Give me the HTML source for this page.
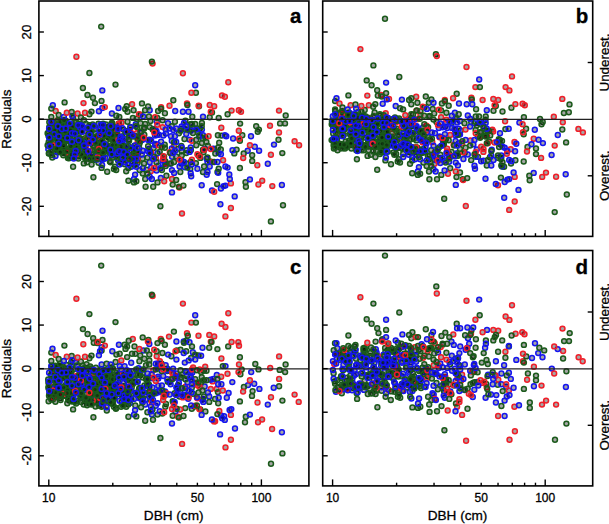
<!DOCTYPE html>
<html><head><meta charset="utf-8"><style>
html,body{margin:0;padding:0;background:#fff;}
body{width:609px;height:524px;overflow:hidden;font-family:"Liberation Sans",sans-serif;}
svg{display:block;}
text{stroke:#000;stroke-width:0.3px;}
</style></head><body>
<svg width="609" height="524" viewBox="0 0 609 524">
<rect width="100%" height="100%" fill="#fff"/>
<g stroke-width="1.5" fill="#000" fill-opacity="0.35">
<circle cx="75.0" cy="130.3" r="2.45" stroke="#1b5a1b"/>
<circle cx="58.9" cy="149.5" r="2.45" stroke="#1b5a1b"/>
<circle cx="147.7" cy="150.9" r="2.45" stroke="#1515f0"/>
<circle cx="136.2" cy="152.4" r="2.45" stroke="#1b5a1b"/>
<circle cx="67.9" cy="158.0" r="2.45" stroke="#1b5a1b"/>
<circle cx="98.5" cy="162.7" r="2.45" stroke="#1b5a1b"/>
<circle cx="67.5" cy="139.7" r="2.45" stroke="#1b5a1b"/>
<circle cx="48.3" cy="149.1" r="2.45" stroke="#1515f0"/>
<circle cx="82.3" cy="147.3" r="2.45" stroke="#1b5a1b"/>
<circle cx="49.6" cy="144.4" r="2.45" stroke="#1b5a1b"/>
<circle cx="100.5" cy="138.6" r="2.45" stroke="#1b5a1b"/>
<circle cx="86.5" cy="153.5" r="2.45" stroke="#1b5a1b"/>
<circle cx="69.0" cy="158.3" r="2.45" stroke="#1b5a1b"/>
<circle cx="98.5" cy="123.7" r="2.45" stroke="#1b5a1b"/>
<circle cx="63.9" cy="144.2" r="2.45" stroke="#1b5a1b"/>
<circle cx="100.6" cy="148.1" r="2.45" stroke="#1b5a1b"/>
<circle cx="70.8" cy="133.5" r="2.45" stroke="#1b5a1b"/>
<circle cx="104.4" cy="144.6" r="2.45" stroke="#1b5a1b"/>
<circle cx="116.4" cy="132.1" r="2.45" stroke="#1b5a1b"/>
<circle cx="121.9" cy="136.4" r="2.45" stroke="#1b5a1b"/>
<circle cx="109.9" cy="161.4" r="2.45" stroke="#1b5a1b"/>
<circle cx="63.1" cy="131.8" r="2.45" stroke="#1b5a1b"/>
<circle cx="51.1" cy="126.5" r="2.45" stroke="#1b5a1b"/>
<circle cx="67.9" cy="133.3" r="2.45" stroke="#1b5a1b"/>
<circle cx="98.0" cy="153.5" r="2.45" stroke="#1b5a1b"/>
<circle cx="65.1" cy="141.3" r="2.45" stroke="#1515f0"/>
<circle cx="73.4" cy="157.1" r="2.45" stroke="#1b5a1b"/>
<circle cx="101.8" cy="146.2" r="2.45" stroke="#1b5a1b"/>
<circle cx="105.9" cy="153.0" r="2.45" stroke="#1b5a1b"/>
<circle cx="80.8" cy="154.9" r="2.45" stroke="#1b5a1b"/>
<circle cx="76.0" cy="121.9" r="2.45" stroke="#1b5a1b"/>
<circle cx="49.3" cy="122.1" r="2.45" stroke="#1b5a1b"/>
<circle cx="60.3" cy="142.3" r="2.45" stroke="#1515f0"/>
<circle cx="60.1" cy="150.3" r="2.45" stroke="#1b5a1b"/>
<circle cx="63.9" cy="153.1" r="2.45" stroke="#1b5a1b"/>
<circle cx="56.1" cy="124.6" r="2.45" stroke="#1515f0"/>
<circle cx="67.1" cy="130.4" r="2.45" stroke="#1b5a1b"/>
<circle cx="103.2" cy="145.8" r="2.45" stroke="#f01e28"/>
<circle cx="116.3" cy="133.2" r="2.45" stroke="#1b5a1b"/>
<circle cx="75.5" cy="141.1" r="2.45" stroke="#1b5a1b"/>
<circle cx="111.1" cy="153.9" r="2.45" stroke="#1b5a1b"/>
<circle cx="139.2" cy="148.2" r="2.45" stroke="#1b5a1b"/>
<circle cx="103.1" cy="123.8" r="2.45" stroke="#1b5a1b"/>
<circle cx="69.9" cy="140.8" r="2.45" stroke="#1b5a1b"/>
<circle cx="127.4" cy="153.2" r="2.45" stroke="#1b5a1b"/>
<circle cx="108.2" cy="126.9" r="2.45" stroke="#1b5a1b"/>
<circle cx="85.1" cy="147.5" r="2.45" stroke="#1b5a1b"/>
<circle cx="120.9" cy="154.6" r="2.45" stroke="#1515f0"/>
<circle cx="96.7" cy="139.5" r="2.45" stroke="#1515f0"/>
<circle cx="118.1" cy="160.4" r="2.45" stroke="#1b5a1b"/>
<circle cx="71.5" cy="127.3" r="2.45" stroke="#1b5a1b"/>
<circle cx="52.9" cy="131.4" r="2.45" stroke="#1b5a1b"/>
<circle cx="67.6" cy="144.1" r="2.45" stroke="#1b5a1b"/>
<circle cx="110.1" cy="127.4" r="2.45" stroke="#1b5a1b"/>
<circle cx="107.3" cy="135.2" r="2.45" stroke="#1b5a1b"/>
<circle cx="57.7" cy="152.2" r="2.45" stroke="#1b5a1b"/>
<circle cx="57.2" cy="134.8" r="2.45" stroke="#1b5a1b"/>
<circle cx="97.4" cy="137.0" r="2.45" stroke="#1b5a1b"/>
<circle cx="137.3" cy="127.6" r="2.45" stroke="#1b5a1b"/>
<circle cx="123.7" cy="152.9" r="2.45" stroke="#1b5a1b"/>
<circle cx="105.9" cy="145.9" r="2.45" stroke="#1515f0"/>
<circle cx="111.7" cy="123.0" r="2.45" stroke="#1b5a1b"/>
<circle cx="114.9" cy="137.5" r="2.45" stroke="#1b5a1b"/>
<circle cx="83.4" cy="141.9" r="2.45" stroke="#1515f0"/>
<circle cx="115.0" cy="138.4" r="2.45" stroke="#1b5a1b"/>
<circle cx="123.0" cy="150.8" r="2.45" stroke="#1b5a1b"/>
<circle cx="65.7" cy="120.8" r="2.45" stroke="#1b5a1b"/>
<circle cx="60.4" cy="136.0" r="2.45" stroke="#1b5a1b"/>
<circle cx="102.4" cy="143.0" r="2.45" stroke="#1b5a1b"/>
<circle cx="118.2" cy="138.5" r="2.45" stroke="#1b5a1b"/>
<circle cx="62.8" cy="146.4" r="2.45" stroke="#1b5a1b"/>
<circle cx="57.2" cy="138.7" r="2.45" stroke="#1b5a1b"/>
<circle cx="111.2" cy="133.5" r="2.45" stroke="#1b5a1b"/>
<circle cx="114.8" cy="146.5" r="2.45" stroke="#1b5a1b"/>
<circle cx="106.0" cy="124.5" r="2.45" stroke="#1b5a1b"/>
<circle cx="108.7" cy="134.8" r="2.45" stroke="#1b5a1b"/>
<circle cx="93.8" cy="142.3" r="2.45" stroke="#1b5a1b"/>
<circle cx="111.7" cy="155.5" r="2.45" stroke="#1b5a1b"/>
<circle cx="53.7" cy="134.4" r="2.45" stroke="#1b5a1b"/>
<circle cx="59.7" cy="128.0" r="2.45" stroke="#1b5a1b"/>
<circle cx="110.8" cy="138.8" r="2.45" stroke="#1b5a1b"/>
<circle cx="58.4" cy="147.7" r="2.45" stroke="#1515f0"/>
<circle cx="82.4" cy="143.5" r="2.45" stroke="#1b5a1b"/>
<circle cx="54.1" cy="132.1" r="2.45" stroke="#1b5a1b"/>
<circle cx="112.4" cy="123.2" r="2.45" stroke="#1b5a1b"/>
<circle cx="56.0" cy="131.0" r="2.45" stroke="#1b5a1b"/>
<circle cx="88.0" cy="128.2" r="2.45" stroke="#1b5a1b"/>
<circle cx="101.3" cy="146.1" r="2.45" stroke="#1b5a1b"/>
<circle cx="87.1" cy="155.9" r="2.45" stroke="#1b5a1b"/>
<circle cx="71.3" cy="127.8" r="2.45" stroke="#1b5a1b"/>
<circle cx="95.3" cy="150.2" r="2.45" stroke="#1b5a1b"/>
<circle cx="71.8" cy="127.6" r="2.45" stroke="#1b5a1b"/>
<circle cx="99.9" cy="148.1" r="2.45" stroke="#1b5a1b"/>
<circle cx="121.3" cy="141.6" r="2.45" stroke="#1b5a1b"/>
<circle cx="68.9" cy="129.4" r="2.45" stroke="#1b5a1b"/>
<circle cx="80.7" cy="147.5" r="2.45" stroke="#1b5a1b"/>
<circle cx="58.3" cy="142.2" r="2.45" stroke="#1b5a1b"/>
<circle cx="77.0" cy="128.8" r="2.45" stroke="#1b5a1b"/>
<circle cx="142.6" cy="158.7" r="2.45" stroke="#1b5a1b"/>
<circle cx="57.5" cy="138.4" r="2.45" stroke="#1b5a1b"/>
<circle cx="56.1" cy="149.1" r="2.45" stroke="#1b5a1b"/>
<circle cx="80.3" cy="131.2" r="2.45" stroke="#1b5a1b"/>
<circle cx="55.5" cy="145.3" r="2.45" stroke="#1b5a1b"/>
<circle cx="79.4" cy="152.9" r="2.45" stroke="#1b5a1b"/>
<circle cx="124.8" cy="151.3" r="2.45" stroke="#1b5a1b"/>
<circle cx="128.6" cy="146.2" r="2.45" stroke="#1b5a1b"/>
<circle cx="118.9" cy="123.4" r="2.45" stroke="#1b5a1b"/>
<circle cx="52.9" cy="127.6" r="2.45" stroke="#1b5a1b"/>
<circle cx="77.7" cy="155.7" r="2.45" stroke="#1b5a1b"/>
<circle cx="64.5" cy="148.2" r="2.45" stroke="#1b5a1b"/>
<circle cx="101.0" cy="145.2" r="2.45" stroke="#1b5a1b"/>
<circle cx="57.4" cy="120.2" r="2.45" stroke="#f01e28"/>
<circle cx="52.0" cy="129.7" r="2.45" stroke="#f01e28"/>
<circle cx="54.7" cy="141.2" r="2.45" stroke="#1b5a1b"/>
<circle cx="64.2" cy="137.9" r="2.45" stroke="#f01e28"/>
<circle cx="121.2" cy="146.0" r="2.45" stroke="#1b5a1b"/>
<circle cx="85.8" cy="146.5" r="2.45" stroke="#f01e28"/>
<circle cx="119.9" cy="147.2" r="2.45" stroke="#1b5a1b"/>
<circle cx="91.8" cy="126.9" r="2.45" stroke="#1b5a1b"/>
<circle cx="50.6" cy="141.1" r="2.45" stroke="#1b5a1b"/>
<circle cx="89.6" cy="141.8" r="2.45" stroke="#1b5a1b"/>
<circle cx="78.2" cy="148.2" r="2.45" stroke="#1b5a1b"/>
<circle cx="52.3" cy="157.5" r="2.45" stroke="#1b5a1b"/>
<circle cx="71.9" cy="147.8" r="2.45" stroke="#1b5a1b"/>
<circle cx="96.7" cy="151.4" r="2.45" stroke="#1b5a1b"/>
<circle cx="55.3" cy="151.0" r="2.45" stroke="#1b5a1b"/>
<circle cx="112.0" cy="151.8" r="2.45" stroke="#1b5a1b"/>
<circle cx="92.7" cy="124.5" r="2.45" stroke="#1b5a1b"/>
<circle cx="88.4" cy="134.4" r="2.45" stroke="#1b5a1b"/>
<circle cx="135.2" cy="154.1" r="2.45" stroke="#1b5a1b"/>
<circle cx="70.0" cy="125.2" r="2.45" stroke="#1b5a1b"/>
<circle cx="111.7" cy="124.4" r="2.45" stroke="#1b5a1b"/>
<circle cx="77.4" cy="125.9" r="2.45" stroke="#1b5a1b"/>
<circle cx="123.7" cy="129.8" r="2.45" stroke="#1b5a1b"/>
<circle cx="110.9" cy="129.8" r="2.45" stroke="#1b5a1b"/>
<circle cx="74.8" cy="126.6" r="2.45" stroke="#1b5a1b"/>
<circle cx="118.1" cy="126.3" r="2.45" stroke="#1b5a1b"/>
<circle cx="92.4" cy="156.6" r="2.45" stroke="#1b5a1b"/>
<circle cx="89.8" cy="132.8" r="2.45" stroke="#1b5a1b"/>
<circle cx="47.6" cy="145.2" r="2.45" stroke="#1b5a1b"/>
<circle cx="71.5" cy="143.6" r="2.45" stroke="#1b5a1b"/>
<circle cx="53.2" cy="144.8" r="2.45" stroke="#1b5a1b"/>
<circle cx="59.6" cy="150.9" r="2.45" stroke="#1b5a1b"/>
<circle cx="102.8" cy="159.4" r="2.45" stroke="#1b5a1b"/>
<circle cx="73.6" cy="141.0" r="2.45" stroke="#1515f0"/>
<circle cx="102.4" cy="151.4" r="2.45" stroke="#1b5a1b"/>
<circle cx="86.0" cy="123.9" r="2.45" stroke="#1b5a1b"/>
<circle cx="126.8" cy="155.7" r="2.45" stroke="#1b5a1b"/>
<circle cx="114.8" cy="139.2" r="2.45" stroke="#1b5a1b"/>
<circle cx="105.7" cy="134.4" r="2.45" stroke="#1b5a1b"/>
<circle cx="63.3" cy="147.7" r="2.45" stroke="#1b5a1b"/>
<circle cx="140.2" cy="141.1" r="2.45" stroke="#1b5a1b"/>
<circle cx="97.8" cy="141.0" r="2.45" stroke="#1b5a1b"/>
<circle cx="58.9" cy="131.6" r="2.45" stroke="#1b5a1b"/>
<circle cx="95.7" cy="129.5" r="2.45" stroke="#1515f0"/>
<circle cx="66.9" cy="140.8" r="2.45" stroke="#1b5a1b"/>
<circle cx="82.8" cy="153.4" r="2.45" stroke="#f01e28"/>
<circle cx="111.7" cy="132.6" r="2.45" stroke="#1b5a1b"/>
<circle cx="134.3" cy="145.7" r="2.45" stroke="#1b5a1b"/>
<circle cx="108.0" cy="150.4" r="2.45" stroke="#1b5a1b"/>
<circle cx="63.6" cy="147.4" r="2.45" stroke="#1b5a1b"/>
<circle cx="91.1" cy="140.0" r="2.45" stroke="#1b5a1b"/>
<circle cx="82.7" cy="142.3" r="2.45" stroke="#1b5a1b"/>
<circle cx="64.6" cy="122.7" r="2.45" stroke="#1b5a1b"/>
<circle cx="74.7" cy="129.7" r="2.45" stroke="#1b5a1b"/>
<circle cx="125.3" cy="134.3" r="2.45" stroke="#1b5a1b"/>
<circle cx="71.6" cy="124.8" r="2.45" stroke="#f01e28"/>
<circle cx="129.3" cy="130.6" r="2.45" stroke="#1b5a1b"/>
<circle cx="52.1" cy="129.9" r="2.45" stroke="#1b5a1b"/>
<circle cx="76.8" cy="131.1" r="2.45" stroke="#1b5a1b"/>
<circle cx="62.1" cy="135.0" r="2.45" stroke="#1b5a1b"/>
<circle cx="73.1" cy="117.7" r="2.45" stroke="#1b5a1b"/>
<circle cx="85.1" cy="138.3" r="2.45" stroke="#1b5a1b"/>
<circle cx="91.4" cy="126.2" r="2.45" stroke="#1b5a1b"/>
<circle cx="108.7" cy="137.5" r="2.45" stroke="#1b5a1b"/>
<circle cx="102.2" cy="131.5" r="2.45" stroke="#f01e28"/>
<circle cx="82.1" cy="138.9" r="2.45" stroke="#1b5a1b"/>
<circle cx="91.3" cy="136.8" r="2.45" stroke="#1b5a1b"/>
<circle cx="127.3" cy="157.9" r="2.45" stroke="#1b5a1b"/>
<circle cx="125.2" cy="148.7" r="2.45" stroke="#1b5a1b"/>
<circle cx="69.5" cy="138.8" r="2.45" stroke="#1b5a1b"/>
<circle cx="78.1" cy="127.1" r="2.45" stroke="#1b5a1b"/>
<circle cx="67.5" cy="123.6" r="2.45" stroke="#1b5a1b"/>
<circle cx="51.0" cy="129.4" r="2.45" stroke="#1b5a1b"/>
<circle cx="119.3" cy="155.6" r="2.45" stroke="#1b5a1b"/>
<circle cx="101.3" cy="131.9" r="2.45" stroke="#1b5a1b"/>
<circle cx="125.6" cy="157.6" r="2.45" stroke="#1b5a1b"/>
<circle cx="64.6" cy="136.3" r="2.45" stroke="#1b5a1b"/>
<circle cx="72.0" cy="149.3" r="2.45" stroke="#1b5a1b"/>
<circle cx="76.8" cy="138.5" r="2.45" stroke="#1b5a1b"/>
<circle cx="54.9" cy="130.2" r="2.45" stroke="#1b5a1b"/>
<circle cx="52.1" cy="135.6" r="2.45" stroke="#1b5a1b"/>
<circle cx="92.7" cy="159.7" r="2.45" stroke="#1b5a1b"/>
<circle cx="51.3" cy="125.1" r="2.45" stroke="#f01e28"/>
<circle cx="74.1" cy="132.6" r="2.45" stroke="#1b5a1b"/>
<circle cx="78.3" cy="156.2" r="2.45" stroke="#1b5a1b"/>
<circle cx="104.1" cy="147.2" r="2.45" stroke="#1b5a1b"/>
<circle cx="95.5" cy="128.9" r="2.45" stroke="#1b5a1b"/>
<circle cx="101.3" cy="125.2" r="2.45" stroke="#1b5a1b"/>
<circle cx="98.7" cy="136.7" r="2.45" stroke="#f01e28"/>
<circle cx="63.9" cy="147.6" r="2.45" stroke="#1b5a1b"/>
<circle cx="57.1" cy="133.8" r="2.45" stroke="#1b5a1b"/>
<circle cx="101.1" cy="134.2" r="2.45" stroke="#1b5a1b"/>
<circle cx="77.1" cy="146.1" r="2.45" stroke="#1b5a1b"/>
<circle cx="85.6" cy="155.0" r="2.45" stroke="#1b5a1b"/>
<circle cx="52.6" cy="145.1" r="2.45" stroke="#f01e28"/>
<circle cx="64.9" cy="124.1" r="2.45" stroke="#1b5a1b"/>
<circle cx="95.1" cy="139.3" r="2.45" stroke="#1b5a1b"/>
<circle cx="73.4" cy="154.6" r="2.45" stroke="#1b5a1b"/>
<circle cx="117.2" cy="158.4" r="2.45" stroke="#1515f0"/>
<circle cx="106.0" cy="135.8" r="2.45" stroke="#1b5a1b"/>
<circle cx="76.0" cy="140.9" r="2.45" stroke="#1b5a1b"/>
<circle cx="82.9" cy="128.1" r="2.45" stroke="#1b5a1b"/>
<circle cx="71.3" cy="150.0" r="2.45" stroke="#1b5a1b"/>
<circle cx="113.3" cy="146.3" r="2.45" stroke="#1b5a1b"/>
<circle cx="73.1" cy="156.5" r="2.45" stroke="#1b5a1b"/>
<circle cx="103.4" cy="143.6" r="2.45" stroke="#1b5a1b"/>
<circle cx="85.9" cy="131.4" r="2.45" stroke="#1b5a1b"/>
<circle cx="77.3" cy="154.4" r="2.45" stroke="#1b5a1b"/>
<circle cx="54.1" cy="134.2" r="2.45" stroke="#1515f0"/>
<circle cx="89.8" cy="132.0" r="2.45" stroke="#1b5a1b"/>
<circle cx="51.5" cy="147.4" r="2.45" stroke="#1b5a1b"/>
<circle cx="85.9" cy="158.5" r="2.45" stroke="#1b5a1b"/>
<circle cx="112.5" cy="129.3" r="2.45" stroke="#1b5a1b"/>
<circle cx="49.4" cy="128.1" r="2.45" stroke="#1b5a1b"/>
<circle cx="133.9" cy="153.0" r="2.45" stroke="#1b5a1b"/>
<circle cx="116.5" cy="156.5" r="2.45" stroke="#1b5a1b"/>
<circle cx="73.9" cy="150.1" r="2.45" stroke="#1515f0"/>
<circle cx="89.8" cy="150.9" r="2.45" stroke="#1b5a1b"/>
<circle cx="61.7" cy="135.6" r="2.45" stroke="#1b5a1b"/>
<circle cx="84.8" cy="146.2" r="2.45" stroke="#1b5a1b"/>
<circle cx="55.7" cy="125.4" r="2.45" stroke="#1b5a1b"/>
<circle cx="69.6" cy="151.1" r="2.45" stroke="#1b5a1b"/>
<circle cx="115.2" cy="145.2" r="2.45" stroke="#1b5a1b"/>
<circle cx="70.0" cy="127.8" r="2.45" stroke="#f01e28"/>
<circle cx="62.9" cy="131.8" r="2.45" stroke="#1b5a1b"/>
<circle cx="85.4" cy="149.4" r="2.45" stroke="#1b5a1b"/>
<circle cx="92.6" cy="137.9" r="2.45" stroke="#1b5a1b"/>
<circle cx="68.8" cy="140.6" r="2.45" stroke="#1b5a1b"/>
<circle cx="63.9" cy="125.3" r="2.45" stroke="#1b5a1b"/>
<circle cx="104.9" cy="129.4" r="2.45" stroke="#1b5a1b"/>
<circle cx="66.2" cy="122.1" r="2.45" stroke="#1b5a1b"/>
<circle cx="95.3" cy="138.1" r="2.45" stroke="#1b5a1b"/>
<circle cx="96.2" cy="156.8" r="2.45" stroke="#1515f0"/>
<circle cx="60.9" cy="126.5" r="2.45" stroke="#1b5a1b"/>
<circle cx="103.3" cy="158.8" r="2.45" stroke="#1b5a1b"/>
<circle cx="68.6" cy="137.8" r="2.45" stroke="#1b5a1b"/>
<circle cx="93.6" cy="159.9" r="2.45" stroke="#1b5a1b"/>
<circle cx="94.2" cy="146.4" r="2.45" stroke="#1b5a1b"/>
<circle cx="100.0" cy="132.6" r="2.45" stroke="#1b5a1b"/>
<circle cx="91.7" cy="142.0" r="2.45" stroke="#1b5a1b"/>
<circle cx="70.4" cy="157.6" r="2.45" stroke="#1b5a1b"/>
<circle cx="91.3" cy="127.6" r="2.45" stroke="#1b5a1b"/>
<circle cx="48.5" cy="135.8" r="2.45" stroke="#1b5a1b"/>
<circle cx="69.9" cy="136.8" r="2.45" stroke="#1b5a1b"/>
<circle cx="75.9" cy="142.7" r="2.45" stroke="#1b5a1b"/>
<circle cx="48.7" cy="142.0" r="2.45" stroke="#1b5a1b"/>
<circle cx="78.9" cy="143.4" r="2.45" stroke="#1b5a1b"/>
<circle cx="60.9" cy="139.6" r="2.45" stroke="#1b5a1b"/>
<circle cx="86.5" cy="139.2" r="2.45" stroke="#f01e28"/>
<circle cx="112.3" cy="131.7" r="2.45" stroke="#1b5a1b"/>
<circle cx="80.2" cy="127.5" r="2.45" stroke="#1515f0"/>
<circle cx="75.2" cy="122.5" r="2.45" stroke="#1b5a1b"/>
<circle cx="87.1" cy="138.9" r="2.45" stroke="#1b5a1b"/>
<circle cx="110.7" cy="151.4" r="2.45" stroke="#1b5a1b"/>
<circle cx="84.4" cy="153.8" r="2.45" stroke="#1b5a1b"/>
<circle cx="69.3" cy="149.2" r="2.45" stroke="#1b5a1b"/>
<circle cx="78.4" cy="158.6" r="2.45" stroke="#1b5a1b"/>
<circle cx="50.8" cy="139.9" r="2.45" stroke="#1b5a1b"/>
<circle cx="73.6" cy="135.9" r="2.45" stroke="#1b5a1b"/>
<circle cx="67.0" cy="139.6" r="2.45" stroke="#1b5a1b"/>
<circle cx="49.4" cy="126.6" r="2.45" stroke="#1b5a1b"/>
<circle cx="113.4" cy="140.6" r="2.45" stroke="#1b5a1b"/>
<circle cx="86.5" cy="158.0" r="2.45" stroke="#1b5a1b"/>
<circle cx="81.9" cy="155.0" r="2.45" stroke="#1b5a1b"/>
<circle cx="93.0" cy="145.6" r="2.45" stroke="#1b5a1b"/>
<circle cx="57.3" cy="139.9" r="2.45" stroke="#1b5a1b"/>
<circle cx="121.0" cy="158.8" r="2.45" stroke="#1b5a1b"/>
<circle cx="97.5" cy="150.6" r="2.45" stroke="#1b5a1b"/>
<circle cx="113.7" cy="148.7" r="2.45" stroke="#1b5a1b"/>
<circle cx="112.2" cy="157.7" r="2.45" stroke="#1b5a1b"/>
<circle cx="58.6" cy="135.0" r="2.45" stroke="#1515f0"/>
<circle cx="51.9" cy="121.3" r="2.45" stroke="#1b5a1b"/>
<circle cx="64.9" cy="137.3" r="2.45" stroke="#1b5a1b"/>
<circle cx="47.6" cy="133.3" r="2.45" stroke="#1b5a1b"/>
<circle cx="85.2" cy="144.9" r="2.45" stroke="#f01e28"/>
<circle cx="73.1" cy="125.2" r="2.45" stroke="#1b5a1b"/>
<circle cx="55.5" cy="156.0" r="2.45" stroke="#1515f0"/>
<circle cx="110.6" cy="152.4" r="2.45" stroke="#1b5a1b"/>
<circle cx="113.3" cy="132.0" r="2.45" stroke="#1b5a1b"/>
<circle cx="114.3" cy="132.3" r="2.45" stroke="#1b5a1b"/>
<circle cx="101.8" cy="140.8" r="2.45" stroke="#1b5a1b"/>
<circle cx="118.9" cy="128.1" r="2.45" stroke="#1515f0"/>
<circle cx="71.5" cy="142.9" r="2.45" stroke="#1b5a1b"/>
<circle cx="118.5" cy="139.0" r="2.45" stroke="#f01e28"/>
<circle cx="84.7" cy="141.0" r="2.45" stroke="#1b5a1b"/>
<circle cx="78.5" cy="124.0" r="2.45" stroke="#1b5a1b"/>
<circle cx="76.0" cy="156.1" r="2.45" stroke="#1b5a1b"/>
<circle cx="130.0" cy="130.1" r="2.45" stroke="#1b5a1b"/>
<circle cx="76.0" cy="146.0" r="2.45" stroke="#1b5a1b"/>
<circle cx="138.2" cy="152.0" r="2.45" stroke="#1b5a1b"/>
<circle cx="76.8" cy="142.8" r="2.45" stroke="#1b5a1b"/>
<circle cx="116.3" cy="127.5" r="2.45" stroke="#1b5a1b"/>
<circle cx="119.0" cy="123.7" r="2.45" stroke="#f01e28"/>
<circle cx="78.7" cy="154.4" r="2.45" stroke="#1b5a1b"/>
<circle cx="112.1" cy="148.7" r="2.45" stroke="#1b5a1b"/>
<circle cx="101.2" cy="158.6" r="2.45" stroke="#1b5a1b"/>
<circle cx="114.0" cy="129.3" r="2.45" stroke="#1b5a1b"/>
<circle cx="60.5" cy="136.3" r="2.45" stroke="#1b5a1b"/>
<circle cx="89.0" cy="128.8" r="2.45" stroke="#1b5a1b"/>
<circle cx="80.1" cy="143.1" r="2.45" stroke="#1b5a1b"/>
<circle cx="100.6" cy="124.7" r="2.45" stroke="#1515f0"/>
<circle cx="72.0" cy="152.4" r="2.45" stroke="#1b5a1b"/>
<circle cx="61.2" cy="141.7" r="2.45" stroke="#1b5a1b"/>
<circle cx="60.2" cy="131.6" r="2.45" stroke="#1b5a1b"/>
<circle cx="112.1" cy="144.9" r="2.45" stroke="#1b5a1b"/>
<circle cx="103.7" cy="136.1" r="2.45" stroke="#1b5a1b"/>
<circle cx="84.1" cy="150.3" r="2.45" stroke="#1515f0"/>
<circle cx="103.8" cy="129.4" r="2.45" stroke="#1b5a1b"/>
<circle cx="106.4" cy="145.5" r="2.45" stroke="#1515f0"/>
<circle cx="58.5" cy="148.0" r="2.45" stroke="#1b5a1b"/>
<circle cx="66.3" cy="121.7" r="2.45" stroke="#1b5a1b"/>
<circle cx="79.6" cy="124.1" r="2.45" stroke="#1b5a1b"/>
<circle cx="72.2" cy="127.3" r="2.45" stroke="#1b5a1b"/>
<circle cx="102.8" cy="154.5" r="2.45" stroke="#1b5a1b"/>
<circle cx="84.0" cy="120.3" r="2.45" stroke="#1b5a1b"/>
<circle cx="133.0" cy="136.5" r="2.45" stroke="#1b5a1b"/>
<circle cx="57.7" cy="125.8" r="2.45" stroke="#1b5a1b"/>
<circle cx="63.3" cy="138.8" r="2.45" stroke="#1b5a1b"/>
<circle cx="68.6" cy="156.7" r="2.45" stroke="#1b5a1b"/>
<circle cx="117.6" cy="131.1" r="2.45" stroke="#f01e28"/>
<circle cx="83.4" cy="142.4" r="2.45" stroke="#1515f0"/>
<circle cx="71.2" cy="155.5" r="2.45" stroke="#1b5a1b"/>
<circle cx="105.3" cy="131.4" r="2.45" stroke="#1b5a1b"/>
<circle cx="68.5" cy="133.6" r="2.45" stroke="#1b5a1b"/>
<circle cx="137.7" cy="160.4" r="2.45" stroke="#f01e28"/>
<circle cx="97.1" cy="159.5" r="2.45" stroke="#1515f0"/>
<circle cx="71.4" cy="130.5" r="2.45" stroke="#1b5a1b"/>
<circle cx="68.8" cy="139.4" r="2.45" stroke="#1b5a1b"/>
<circle cx="86.6" cy="154.5" r="2.45" stroke="#1b5a1b"/>
<circle cx="108.8" cy="137.6" r="2.45" stroke="#1b5a1b"/>
<circle cx="58.9" cy="127.2" r="2.45" stroke="#1b5a1b"/>
<circle cx="117.1" cy="134.3" r="2.45" stroke="#1b5a1b"/>
<circle cx="61.9" cy="126.5" r="2.45" stroke="#1b5a1b"/>
<circle cx="62.2" cy="124.4" r="2.45" stroke="#1b5a1b"/>
<circle cx="97.8" cy="135.6" r="2.45" stroke="#1b5a1b"/>
<circle cx="101.9" cy="149.2" r="2.45" stroke="#1b5a1b"/>
<circle cx="79.6" cy="138.9" r="2.45" stroke="#1b5a1b"/>
<circle cx="121.6" cy="148.3" r="2.45" stroke="#f01e28"/>
<circle cx="63.5" cy="145.6" r="2.45" stroke="#1b5a1b"/>
<circle cx="120.6" cy="161.6" r="2.45" stroke="#1b5a1b"/>
<circle cx="122.7" cy="148.5" r="2.45" stroke="#1b5a1b"/>
<circle cx="85.3" cy="151.6" r="2.45" stroke="#1b5a1b"/>
<circle cx="98.0" cy="136.5" r="2.45" stroke="#1b5a1b"/>
<circle cx="127.3" cy="145.2" r="2.45" stroke="#1515f0"/>
<circle cx="102.2" cy="148.7" r="2.45" stroke="#1b5a1b"/>
<circle cx="72.7" cy="145.1" r="2.45" stroke="#1b5a1b"/>
<circle cx="48.8" cy="153.4" r="2.45" stroke="#1b5a1b"/>
<circle cx="121.0" cy="162.7" r="2.45" stroke="#1b5a1b"/>
<circle cx="89.5" cy="125.2" r="2.45" stroke="#1b5a1b"/>
<circle cx="100.6" cy="155.5" r="2.45" stroke="#1b5a1b"/>
<circle cx="56.7" cy="148.6" r="2.45" stroke="#1b5a1b"/>
<circle cx="104.4" cy="144.6" r="2.45" stroke="#1b5a1b"/>
<circle cx="61.0" cy="141.4" r="2.45" stroke="#1b5a1b"/>
<circle cx="135.3" cy="136.2" r="2.45" stroke="#1b5a1b"/>
<circle cx="62.5" cy="127.6" r="2.45" stroke="#1b5a1b"/>
<circle cx="99.9" cy="144.8" r="2.45" stroke="#1b5a1b"/>
<circle cx="79.7" cy="133.1" r="2.45" stroke="#1b5a1b"/>
<circle cx="84.5" cy="148.3" r="2.45" stroke="#1b5a1b"/>
<circle cx="102.7" cy="146.6" r="2.45" stroke="#1b5a1b"/>
<circle cx="91.5" cy="132.3" r="2.45" stroke="#1b5a1b"/>
<circle cx="131.6" cy="150.8" r="2.45" stroke="#1b5a1b"/>
<circle cx="58.2" cy="120.1" r="2.45" stroke="#1b5a1b"/>
<circle cx="82.2" cy="131.8" r="2.45" stroke="#f01e28"/>
<circle cx="127.7" cy="157.8" r="2.45" stroke="#1b5a1b"/>
<circle cx="73.0" cy="133.7" r="2.45" stroke="#1b5a1b"/>
<circle cx="126.4" cy="131.3" r="2.45" stroke="#1b5a1b"/>
<circle cx="49.1" cy="153.2" r="2.45" stroke="#1b5a1b"/>
<circle cx="89.7" cy="155.9" r="2.45" stroke="#1515f0"/>
<circle cx="90.9" cy="131.4" r="2.45" stroke="#1b5a1b"/>
<circle cx="59.3" cy="131.3" r="2.45" stroke="#1b5a1b"/>
<circle cx="138.1" cy="136.6" r="2.45" stroke="#1b5a1b"/>
<circle cx="66.7" cy="152.4" r="2.45" stroke="#f01e28"/>
<circle cx="60.3" cy="121.8" r="2.45" stroke="#1b5a1b"/>
<circle cx="105.3" cy="151.2" r="2.45" stroke="#1b5a1b"/>
<circle cx="133.9" cy="148.3" r="2.45" stroke="#1b5a1b"/>
<circle cx="70.8" cy="146.4" r="2.45" stroke="#1b5a1b"/>
<circle cx="48.6" cy="132.7" r="2.45" stroke="#1b5a1b"/>
<circle cx="76.8" cy="154.0" r="2.45" stroke="#f01e28"/>
<circle cx="130.3" cy="126.9" r="2.45" stroke="#1b5a1b"/>
<circle cx="64.0" cy="120.3" r="2.45" stroke="#1b5a1b"/>
<circle cx="126.2" cy="132.0" r="2.45" stroke="#1b5a1b"/>
<circle cx="99.1" cy="136.6" r="2.45" stroke="#f01e28"/>
<circle cx="81.3" cy="140.9" r="2.45" stroke="#1b5a1b"/>
<circle cx="105.3" cy="147.2" r="2.45" stroke="#1b5a1b"/>
<circle cx="80.5" cy="125.1" r="2.45" stroke="#1515f0"/>
<circle cx="72.2" cy="126.7" r="2.45" stroke="#1b5a1b"/>
<circle cx="106.9" cy="139.7" r="2.45" stroke="#1b5a1b"/>
<circle cx="70.4" cy="130.1" r="2.45" stroke="#1b5a1b"/>
<circle cx="64.4" cy="128.4" r="2.45" stroke="#1b5a1b"/>
<circle cx="122.2" cy="144.1" r="2.45" stroke="#1b5a1b"/>
<circle cx="101.2" cy="156.3" r="2.45" stroke="#1b5a1b"/>
<circle cx="137.6" cy="156.0" r="2.45" stroke="#f01e28"/>
<circle cx="93.1" cy="157.9" r="2.45" stroke="#1b5a1b"/>
<circle cx="95.9" cy="142.9" r="2.45" stroke="#1b5a1b"/>
<circle cx="65.2" cy="131.8" r="2.45" stroke="#1b5a1b"/>
<circle cx="95.8" cy="136.8" r="2.45" stroke="#1b5a1b"/>
<circle cx="97.8" cy="157.4" r="2.45" stroke="#f01e28"/>
<circle cx="112.0" cy="149.9" r="2.45" stroke="#1b5a1b"/>
<circle cx="105.5" cy="158.3" r="2.45" stroke="#1515f0"/>
<circle cx="70.4" cy="157.3" r="2.45" stroke="#1b5a1b"/>
<circle cx="63.5" cy="152.3" r="2.45" stroke="#1b5a1b"/>
<circle cx="102.1" cy="141.0" r="2.45" stroke="#1b5a1b"/>
<circle cx="131.0" cy="134.3" r="2.45" stroke="#1b5a1b"/>
<circle cx="90.0" cy="142.5" r="2.45" stroke="#f01e28"/>
<circle cx="81.5" cy="131.7" r="2.45" stroke="#1b5a1b"/>
<circle cx="63.3" cy="155.3" r="2.45" stroke="#1b5a1b"/>
<circle cx="49.9" cy="136.2" r="2.45" stroke="#1b5a1b"/>
<circle cx="107.4" cy="145.5" r="2.45" stroke="#1b5a1b"/>
<circle cx="99.0" cy="148.9" r="2.45" stroke="#f01e28"/>
<circle cx="131.2" cy="133.4" r="2.45" stroke="#f01e28"/>
<circle cx="220.8" cy="149.4" r="2.45" stroke="#1b5a1b"/>
<circle cx="164.1" cy="156.6" r="2.45" stroke="#1b5a1b"/>
<circle cx="192.7" cy="127.3" r="2.45" stroke="#1515f0"/>
<circle cx="149.8" cy="139.6" r="2.45" stroke="#1b5a1b"/>
<circle cx="234.3" cy="153.4" r="2.45" stroke="#1b5a1b"/>
<circle cx="137.8" cy="152.8" r="2.45" stroke="#1b5a1b"/>
<circle cx="195.9" cy="163.1" r="2.45" stroke="#1b5a1b"/>
<circle cx="193.9" cy="128.7" r="2.45" stroke="#1515f0"/>
<circle cx="117.9" cy="127.2" r="2.45" stroke="#1515f0"/>
<circle cx="153.7" cy="148.0" r="2.45" stroke="#1b5a1b"/>
<circle cx="206.7" cy="174.8" r="2.45" stroke="#1515f0"/>
<circle cx="217.9" cy="135.2" r="2.45" stroke="#1b5a1b"/>
<circle cx="189.5" cy="139.6" r="2.45" stroke="#1515f0"/>
<circle cx="155.1" cy="144.9" r="2.45" stroke="#1515f0"/>
<circle cx="157.0" cy="135.1" r="2.45" stroke="#1515f0"/>
<circle cx="186.8" cy="150.1" r="2.45" stroke="#1b5a1b"/>
<circle cx="181.3" cy="145.9" r="2.45" stroke="#1b5a1b"/>
<circle cx="134.4" cy="149.9" r="2.45" stroke="#1b5a1b"/>
<circle cx="142.4" cy="138.5" r="2.45" stroke="#1b5a1b"/>
<circle cx="190.5" cy="124.2" r="2.45" stroke="#1b5a1b"/>
<circle cx="156.7" cy="121.5" r="2.45" stroke="#1515f0"/>
<circle cx="189.7" cy="130.0" r="2.45" stroke="#1b5a1b"/>
<circle cx="142.2" cy="140.0" r="2.45" stroke="#1515f0"/>
<circle cx="187.0" cy="163.7" r="2.45" stroke="#1b5a1b"/>
<circle cx="210.1" cy="161.4" r="2.45" stroke="#1b5a1b"/>
<circle cx="139.5" cy="143.5" r="2.45" stroke="#1b5a1b"/>
<circle cx="136.8" cy="133.1" r="2.45" stroke="#f01e28"/>
<circle cx="140.8" cy="132.7" r="2.45" stroke="#1515f0"/>
<circle cx="135.6" cy="156.6" r="2.45" stroke="#1b5a1b"/>
<circle cx="190.9" cy="150.1" r="2.45" stroke="#1b5a1b"/>
<circle cx="120.7" cy="136.7" r="2.45" stroke="#1515f0"/>
<circle cx="151.1" cy="152.7" r="2.45" stroke="#f01e28"/>
<circle cx="112.4" cy="135.3" r="2.45" stroke="#1b5a1b"/>
<circle cx="219.2" cy="142.8" r="2.45" stroke="#1b5a1b"/>
<circle cx="181.3" cy="163.6" r="2.45" stroke="#1515f0"/>
<circle cx="128.9" cy="139.6" r="2.45" stroke="#1b5a1b"/>
<circle cx="233.1" cy="138.5" r="2.45" stroke="#1515f0"/>
<circle cx="120.8" cy="138.2" r="2.45" stroke="#1515f0"/>
<circle cx="150.0" cy="151.8" r="2.45" stroke="#1b5a1b"/>
<circle cx="190.3" cy="168.9" r="2.45" stroke="#1b5a1b"/>
<circle cx="130.4" cy="157.7" r="2.45" stroke="#f01e28"/>
<circle cx="200.4" cy="157.9" r="2.45" stroke="#1b5a1b"/>
<circle cx="130.2" cy="131.3" r="2.45" stroke="#f01e28"/>
<circle cx="130.5" cy="133.8" r="2.45" stroke="#1515f0"/>
<circle cx="202.8" cy="138.4" r="2.45" stroke="#1b5a1b"/>
<circle cx="144.3" cy="127.7" r="2.45" stroke="#1b5a1b"/>
<circle cx="203.5" cy="152.3" r="2.45" stroke="#1b5a1b"/>
<circle cx="174.0" cy="145.8" r="2.45" stroke="#f01e28"/>
<circle cx="214.2" cy="149.0" r="2.45" stroke="#1b5a1b"/>
<circle cx="198.6" cy="155.8" r="2.45" stroke="#1b5a1b"/>
<circle cx="164.7" cy="144.6" r="2.45" stroke="#1b5a1b"/>
<circle cx="137.7" cy="141.4" r="2.45" stroke="#f01e28"/>
<circle cx="155.9" cy="158.2" r="2.45" stroke="#f01e28"/>
<circle cx="178.9" cy="133.3" r="2.45" stroke="#1b5a1b"/>
<circle cx="199.2" cy="136.4" r="2.45" stroke="#1515f0"/>
<circle cx="226.3" cy="136.2" r="2.45" stroke="#1515f0"/>
<circle cx="139.8" cy="136.3" r="2.45" stroke="#1b5a1b"/>
<circle cx="124.7" cy="164.2" r="2.45" stroke="#1b5a1b"/>
<circle cx="143.9" cy="128.8" r="2.45" stroke="#1b5a1b"/>
<circle cx="184.9" cy="167.2" r="2.45" stroke="#1515f0"/>
<circle cx="180.3" cy="172.0" r="2.45" stroke="#1b5a1b"/>
<circle cx="204.8" cy="148.8" r="2.45" stroke="#1515f0"/>
<circle cx="180.9" cy="128.7" r="2.45" stroke="#1515f0"/>
<circle cx="166.0" cy="133.6" r="2.45" stroke="#1515f0"/>
<circle cx="125.6" cy="153.9" r="2.45" stroke="#1b5a1b"/>
<circle cx="198.0" cy="132.6" r="2.45" stroke="#1b5a1b"/>
<circle cx="181.6" cy="151.2" r="2.45" stroke="#1b5a1b"/>
<circle cx="185.4" cy="120.7" r="2.45" stroke="#1b5a1b"/>
<circle cx="206.7" cy="158.8" r="2.45" stroke="#1515f0"/>
<circle cx="181.6" cy="126.4" r="2.45" stroke="#1515f0"/>
<circle cx="184.5" cy="139.0" r="2.45" stroke="#1b5a1b"/>
<circle cx="122.7" cy="139.7" r="2.45" stroke="#1515f0"/>
<circle cx="154.8" cy="130.7" r="2.45" stroke="#1b5a1b"/>
<circle cx="184.6" cy="128.9" r="2.45" stroke="#1515f0"/>
<circle cx="137.7" cy="162.7" r="2.45" stroke="#1b5a1b"/>
<circle cx="172.1" cy="156.7" r="2.45" stroke="#1515f0"/>
<circle cx="229.3" cy="174.5" r="2.45" stroke="#1515f0"/>
<circle cx="134.1" cy="164.8" r="2.45" stroke="#1b5a1b"/>
<circle cx="118.3" cy="150.9" r="2.45" stroke="#1b5a1b"/>
<circle cx="207.9" cy="146.0" r="2.45" stroke="#1b5a1b"/>
<circle cx="148.9" cy="149.0" r="2.45" stroke="#1515f0"/>
<circle cx="120.9" cy="146.5" r="2.45" stroke="#1b5a1b"/>
<circle cx="135.7" cy="124.2" r="2.45" stroke="#1515f0"/>
<circle cx="154.1" cy="129.0" r="2.45" stroke="#1515f0"/>
<circle cx="199.8" cy="128.5" r="2.45" stroke="#1b5a1b"/>
<circle cx="181.4" cy="160.4" r="2.45" stroke="#1515f0"/>
<circle cx="236.6" cy="149.6" r="2.45" stroke="#1b5a1b"/>
<circle cx="130.4" cy="148.1" r="2.45" stroke="#1515f0"/>
<circle cx="212.4" cy="162.0" r="2.45" stroke="#f01e28"/>
<circle cx="171.8" cy="140.8" r="2.45" stroke="#1515f0"/>
<circle cx="170.3" cy="163.7" r="2.45" stroke="#1515f0"/>
<circle cx="247.7" cy="150.8" r="2.45" stroke="#1515f0"/>
<circle cx="171.8" cy="148.4" r="2.45" stroke="#1515f0"/>
<circle cx="280.1" cy="123.4" r="2.45" stroke="#1b5a1b"/>
<circle cx="111.9" cy="113.5" r="2.45" stroke="#1515f0"/>
<circle cx="224.9" cy="96.8" r="2.45" stroke="#f01e28"/>
<circle cx="199.0" cy="106.2" r="2.45" stroke="#1b5a1b"/>
<circle cx="152.6" cy="63.6" r="2.45" stroke="#f01e28"/>
<circle cx="55.7" cy="111.0" r="2.45" stroke="#f01e28"/>
<circle cx="206.4" cy="141.9" r="2.45" stroke="#1b5a1b"/>
<circle cx="144.3" cy="134.7" r="2.45" stroke="#1b5a1b"/>
<circle cx="231.6" cy="110.6" r="2.45" stroke="#f01e28"/>
<circle cx="174.1" cy="142.3" r="2.45" stroke="#1b5a1b"/>
<circle cx="121.5" cy="122.8" r="2.45" stroke="#f01e28"/>
<circle cx="196.3" cy="129.6" r="2.45" stroke="#1515f0"/>
<circle cx="125.2" cy="139.3" r="2.45" stroke="#1515f0"/>
<circle cx="135.2" cy="145.4" r="2.45" stroke="#1515f0"/>
<circle cx="203.0" cy="172.0" r="2.45" stroke="#1b5a1b"/>
<circle cx="195.2" cy="85.3" r="2.45" stroke="#1515f0"/>
<circle cx="97.2" cy="158.9" r="2.45" stroke="#1b5a1b"/>
<circle cx="132.1" cy="104.2" r="2.45" stroke="#f01e28"/>
<circle cx="127.5" cy="111.8" r="2.45" stroke="#1b5a1b"/>
<circle cx="217.5" cy="172.0" r="2.45" stroke="#1b5a1b"/>
<circle cx="136.7" cy="118.7" r="2.45" stroke="#1b5a1b"/>
<circle cx="58.7" cy="136.4" r="2.45" stroke="#1515f0"/>
<circle cx="178.5" cy="148.6" r="2.45" stroke="#1b5a1b"/>
<circle cx="157.3" cy="117.9" r="2.45" stroke="#1b5a1b"/>
<circle cx="139.6" cy="170.1" r="2.45" stroke="#1b5a1b"/>
<circle cx="245.5" cy="182.3" r="2.45" stroke="#1b5a1b"/>
<circle cx="142.8" cy="150.7" r="2.45" stroke="#1515f0"/>
<circle cx="151.2" cy="140.8" r="2.45" stroke="#1515f0"/>
<circle cx="151.9" cy="179.0" r="2.45" stroke="#1515f0"/>
<circle cx="157.5" cy="153.3" r="2.45" stroke="#1515f0"/>
<circle cx="225.4" cy="185.6" r="2.45" stroke="#1515f0"/>
<circle cx="197.4" cy="154.2" r="2.45" stroke="#f01e28"/>
<circle cx="118.1" cy="129.0" r="2.45" stroke="#1515f0"/>
<circle cx="207.5" cy="162.0" r="2.45" stroke="#1515f0"/>
<circle cx="182.9" cy="111.7" r="2.45" stroke="#1515f0"/>
<circle cx="240.1" cy="123.6" r="2.45" stroke="#1b5a1b"/>
<circle cx="131.3" cy="166.8" r="2.45" stroke="#1515f0"/>
<circle cx="162.6" cy="120.2" r="2.45" stroke="#1b5a1b"/>
<circle cx="67.0" cy="151.1" r="2.45" stroke="#1b5a1b"/>
<circle cx="72.0" cy="141.7" r="2.45" stroke="#1515f0"/>
<circle cx="195.9" cy="92.7" r="2.45" stroke="#1b5a1b"/>
<circle cx="199.7" cy="135.2" r="2.45" stroke="#1b5a1b"/>
<circle cx="203.0" cy="149.7" r="2.45" stroke="#1b5a1b"/>
<circle cx="242.3" cy="135.2" r="2.45" stroke="#1b5a1b"/>
<circle cx="218.7" cy="118.0" r="2.45" stroke="#1b5a1b"/>
<circle cx="209.7" cy="166.5" r="2.45" stroke="#1515f0"/>
<circle cx="158.6" cy="165.6" r="2.45" stroke="#1515f0"/>
<circle cx="72.3" cy="116.1" r="2.45" stroke="#1515f0"/>
<circle cx="168.0" cy="123.2" r="2.45" stroke="#1515f0"/>
<circle cx="82.3" cy="126.3" r="2.45" stroke="#1515f0"/>
<circle cx="164.9" cy="163.7" r="2.45" stroke="#1515f0"/>
<circle cx="58.0" cy="126.3" r="2.45" stroke="#1515f0"/>
<circle cx="156.5" cy="130.9" r="2.45" stroke="#1515f0"/>
<circle cx="88.0" cy="127.8" r="2.45" stroke="#1515f0"/>
<circle cx="186.3" cy="153.1" r="2.45" stroke="#1b5a1b"/>
<circle cx="89.0" cy="151.2" r="2.45" stroke="#f01e28"/>
<circle cx="51.4" cy="154.9" r="2.45" stroke="#1b5a1b"/>
<circle cx="98.6" cy="151.2" r="2.45" stroke="#1b5a1b"/>
<circle cx="149.7" cy="162.3" r="2.45" stroke="#1515f0"/>
<circle cx="254.8" cy="146.8" r="2.45" stroke="#1515f0"/>
<circle cx="83.5" cy="103.1" r="2.45" stroke="#f01e28"/>
<circle cx="166.4" cy="175.7" r="2.45" stroke="#1b5a1b"/>
<circle cx="77.6" cy="113.5" r="2.45" stroke="#f01e28"/>
<circle cx="140.5" cy="114.8" r="2.45" stroke="#1b5a1b"/>
<circle cx="187.0" cy="103.5" r="2.45" stroke="#f01e28"/>
<circle cx="102.3" cy="90.4" r="2.45" stroke="#1515f0"/>
<circle cx="100.1" cy="134.6" r="2.45" stroke="#1515f0"/>
<circle cx="294.6" cy="141.2" r="2.45" stroke="#f01e28"/>
<circle cx="146.6" cy="169.8" r="2.45" stroke="#1b5a1b"/>
<circle cx="182.9" cy="73.2" r="2.45" stroke="#f01e28"/>
<circle cx="217.1" cy="184.1" r="2.45" stroke="#1b5a1b"/>
<circle cx="171.8" cy="126.3" r="2.45" stroke="#1b5a1b"/>
<circle cx="145.1" cy="124.0" r="2.45" stroke="#1b5a1b"/>
<circle cx="61.9" cy="129.0" r="2.45" stroke="#1515f0"/>
<circle cx="156.5" cy="162.2" r="2.45" stroke="#1b5a1b"/>
<circle cx="201.9" cy="129.6" r="2.45" stroke="#1515f0"/>
<circle cx="89.4" cy="114.2" r="2.45" stroke="#1b5a1b"/>
<circle cx="78.6" cy="140.2" r="2.45" stroke="#1515f0"/>
<circle cx="136.3" cy="158.9" r="2.45" stroke="#1515f0"/>
<circle cx="101.5" cy="100.9" r="2.45" stroke="#1b5a1b"/>
<circle cx="198.6" cy="105.7" r="2.45" stroke="#f01e28"/>
<circle cx="201.9" cy="122.9" r="2.45" stroke="#1b5a1b"/>
<circle cx="145.6" cy="186.8" r="2.45" stroke="#1b5a1b"/>
<circle cx="161.1" cy="107.2" r="2.45" stroke="#f01e28"/>
<circle cx="103.0" cy="130.5" r="2.45" stroke="#1515f0"/>
<circle cx="283.0" cy="205.3" r="2.45" stroke="#1b5a1b"/>
<circle cx="157.3" cy="124.8" r="2.45" stroke="#f01e28"/>
<circle cx="249.9" cy="179.4" r="2.45" stroke="#1515f0"/>
<circle cx="82.9" cy="88.0" r="2.45" stroke="#1b5a1b"/>
<circle cx="134.0" cy="179.0" r="2.45" stroke="#1515f0"/>
<circle cx="213.1" cy="148.6" r="2.45" stroke="#1515f0"/>
<circle cx="161.1" cy="108.7" r="2.45" stroke="#1b5a1b"/>
<circle cx="58.7" cy="115.0" r="2.45" stroke="#1b5a1b"/>
<circle cx="149.7" cy="110.3" r="2.45" stroke="#1515f0"/>
<circle cx="140.5" cy="131.6" r="2.45" stroke="#1b5a1b"/>
<circle cx="207.5" cy="172.0" r="2.45" stroke="#1515f0"/>
<circle cx="116.3" cy="115.7" r="2.45" stroke="#1b5a1b"/>
<circle cx="176.2" cy="128.5" r="2.45" stroke="#1515f0"/>
<circle cx="83.8" cy="163.4" r="2.45" stroke="#1b5a1b"/>
<circle cx="117.3" cy="153.3" r="2.45" stroke="#1515f0"/>
<circle cx="160.8" cy="177.9" r="2.45" stroke="#1515f0"/>
<circle cx="212.0" cy="190.5" r="2.45" stroke="#1515f0"/>
<circle cx="104.5" cy="144.1" r="2.45" stroke="#1515f0"/>
<circle cx="210.8" cy="149.0" r="2.45" stroke="#f01e28"/>
<circle cx="169.5" cy="128.6" r="2.45" stroke="#1515f0"/>
<circle cx="238.8" cy="110.2" r="2.45" stroke="#f01e28"/>
<circle cx="148.1" cy="140.0" r="2.45" stroke="#1515f0"/>
<circle cx="164.9" cy="147.7" r="2.45" stroke="#1b5a1b"/>
<circle cx="174.1" cy="172.9" r="2.45" stroke="#1515f0"/>
<circle cx="251.0" cy="136.3" r="2.45" stroke="#1515f0"/>
<circle cx="152.7" cy="129.4" r="2.45" stroke="#1b5a1b"/>
<circle cx="181.8" cy="155.3" r="2.45" stroke="#1b5a1b"/>
<circle cx="243.7" cy="153.5" r="2.45" stroke="#1b5a1b"/>
<circle cx="128.4" cy="167.9" r="2.45" stroke="#1b5a1b"/>
<circle cx="270.9" cy="154.8" r="2.45" stroke="#f01e28"/>
<circle cx="52.8" cy="105.3" r="2.45" stroke="#1515f0"/>
<circle cx="153.2" cy="186.8" r="2.45" stroke="#1b5a1b"/>
<circle cx="87.5" cy="95.0" r="2.45" stroke="#1b5a1b"/>
<circle cx="176.2" cy="156.4" r="2.45" stroke="#1b5a1b"/>
<circle cx="71.7" cy="112.0" r="2.45" stroke="#1b5a1b"/>
<circle cx="129.1" cy="140.8" r="2.45" stroke="#1b5a1b"/>
<circle cx="135.2" cy="164.5" r="2.45" stroke="#1b5a1b"/>
<circle cx="81.5" cy="154.5" r="2.45" stroke="#1b5a1b"/>
<circle cx="267.8" cy="163.8" r="2.45" stroke="#1515f0"/>
<circle cx="151.2" cy="167.5" r="2.45" stroke="#1515f0"/>
<circle cx="154.1" cy="156.7" r="2.45" stroke="#1b5a1b"/>
<circle cx="145.2" cy="179.0" r="2.45" stroke="#1b5a1b"/>
<circle cx="258.4" cy="184.5" r="2.45" stroke="#f01e28"/>
<circle cx="136.3" cy="166.7" r="2.45" stroke="#1515f0"/>
<circle cx="76.4" cy="56.7" r="2.45" stroke="#f01e28"/>
<circle cx="173.3" cy="130.1" r="2.45" stroke="#1515f0"/>
<circle cx="134.0" cy="182.4" r="2.45" stroke="#1b5a1b"/>
<circle cx="78.2" cy="152.2" r="2.45" stroke="#1b5a1b"/>
<circle cx="51.3" cy="121.9" r="2.45" stroke="#1515f0"/>
<circle cx="220.9" cy="154.2" r="2.45" stroke="#1515f0"/>
<circle cx="166.4" cy="163.4" r="2.45" stroke="#f01e28"/>
<circle cx="142.8" cy="173.6" r="2.45" stroke="#1b5a1b"/>
<circle cx="274.0" cy="144.6" r="2.45" stroke="#1515f0"/>
<circle cx="51.3" cy="151.2" r="2.45" stroke="#1b5a1b"/>
<circle cx="190.7" cy="130.7" r="2.45" stroke="#1515f0"/>
<circle cx="102.1" cy="165.0" r="2.45" stroke="#1515f0"/>
<circle cx="175.2" cy="111.0" r="2.45" stroke="#1515f0"/>
<circle cx="122.9" cy="157.8" r="2.45" stroke="#1515f0"/>
<circle cx="110.7" cy="126.3" r="2.45" stroke="#1515f0"/>
<circle cx="126.7" cy="146.7" r="2.45" stroke="#1b5a1b"/>
<circle cx="101.6" cy="167.9" r="2.45" stroke="#1b5a1b"/>
<circle cx="184.0" cy="162.0" r="2.45" stroke="#1515f0"/>
<circle cx="201.7" cy="126.3" r="2.45" stroke="#1b5a1b"/>
<circle cx="218.7" cy="153.1" r="2.45" stroke="#1515f0"/>
<circle cx="279.0" cy="110.6" r="2.45" stroke="#f01e28"/>
<circle cx="221.3" cy="127.8" r="2.45" stroke="#f01e28"/>
<circle cx="135.9" cy="126.3" r="2.45" stroke="#1b5a1b"/>
<circle cx="183.4" cy="185.6" r="2.45" stroke="#1b5a1b"/>
<circle cx="140.5" cy="123.2" r="2.45" stroke="#1b5a1b"/>
<circle cx="201.9" cy="143.0" r="2.45" stroke="#1b5a1b"/>
<circle cx="116.2" cy="170.1" r="2.45" stroke="#1b5a1b"/>
<circle cx="119.3" cy="151.2" r="2.45" stroke="#1515f0"/>
<circle cx="225.4" cy="216.4" r="2.45" stroke="#f01e28"/>
<circle cx="69.8" cy="123.4" r="2.45" stroke="#1515f0"/>
<circle cx="201.7" cy="185.2" r="2.45" stroke="#1515f0"/>
<circle cx="204.1" cy="166.5" r="2.45" stroke="#1b5a1b"/>
<circle cx="118.5" cy="108.0" r="2.45" stroke="#1515f0"/>
<circle cx="155.8" cy="143.9" r="2.45" stroke="#1515f0"/>
<circle cx="285.0" cy="123.4" r="2.45" stroke="#1b5a1b"/>
<circle cx="281.9" cy="185.0" r="2.45" stroke="#1515f0"/>
<circle cx="136.3" cy="181.3" r="2.45" stroke="#1b5a1b"/>
<circle cx="150.8" cy="171.2" r="2.45" stroke="#f01e28"/>
<circle cx="128.4" cy="164.5" r="2.45" stroke="#1515f0"/>
<circle cx="212.0" cy="112.4" r="2.45" stroke="#1b5a1b"/>
<circle cx="67.3" cy="137.9" r="2.45" stroke="#1515f0"/>
<circle cx="126.7" cy="131.9" r="2.45" stroke="#1515f0"/>
<circle cx="93.0" cy="97.7" r="2.45" stroke="#1b5a1b"/>
<circle cx="93.4" cy="177.2" r="2.45" stroke="#1b5a1b"/>
<circle cx="143.0" cy="167.9" r="2.45" stroke="#1515f0"/>
<circle cx="135.1" cy="174.6" r="2.45" stroke="#1515f0"/>
<circle cx="151.9" cy="61.6" r="2.45" stroke="#1b5a1b"/>
<circle cx="115.0" cy="166.7" r="2.45" stroke="#1b5a1b"/>
<circle cx="149.7" cy="176.8" r="2.45" stroke="#1515f0"/>
<circle cx="259.1" cy="150.8" r="2.45" stroke="#1515f0"/>
<circle cx="144.1" cy="163.4" r="2.45" stroke="#1b5a1b"/>
<circle cx="180.7" cy="130.7" r="2.45" stroke="#1b5a1b"/>
<circle cx="176.2" cy="141.9" r="2.45" stroke="#1515f0"/>
<circle cx="160.4" cy="168.3" r="2.45" stroke="#1515f0"/>
<circle cx="89.0" cy="143.2" r="2.45" stroke="#1515f0"/>
<circle cx="214.2" cy="191.7" r="2.45" stroke="#f01e28"/>
<circle cx="186.3" cy="134.1" r="2.45" stroke="#1515f0"/>
<circle cx="252.2" cy="160.9" r="2.45" stroke="#1b5a1b"/>
<circle cx="204.1" cy="149.7" r="2.45" stroke="#f01e28"/>
<circle cx="203.0" cy="135.2" r="2.45" stroke="#1515f0"/>
<circle cx="123.7" cy="151.9" r="2.45" stroke="#1515f0"/>
<circle cx="113.9" cy="169.0" r="2.45" stroke="#1b5a1b"/>
<circle cx="169.8" cy="152.2" r="2.45" stroke="#f01e28"/>
<circle cx="181.8" cy="147.5" r="2.45" stroke="#1515f0"/>
<circle cx="139.0" cy="114.1" r="2.45" stroke="#f01e28"/>
<circle cx="110.6" cy="162.3" r="2.45" stroke="#1b5a1b"/>
<circle cx="299.1" cy="145.2" r="2.45" stroke="#f01e28"/>
<circle cx="51.3" cy="108.6" r="2.45" stroke="#1b5a1b"/>
<circle cx="89.7" cy="134.6" r="2.45" stroke="#1515f0"/>
<circle cx="143.1" cy="116.4" r="2.45" stroke="#1515f0"/>
<circle cx="262.2" cy="180.7" r="2.45" stroke="#f01e28"/>
<circle cx="149.7" cy="127.1" r="2.45" stroke="#1b5a1b"/>
<circle cx="119.5" cy="164.5" r="2.45" stroke="#1515f0"/>
<circle cx="147.4" cy="157.6" r="2.45" stroke="#1b5a1b"/>
<circle cx="158.8" cy="145.4" r="2.45" stroke="#f01e28"/>
<circle cx="190.7" cy="173.2" r="2.45" stroke="#1515f0"/>
<circle cx="141.8" cy="154.5" r="2.45" stroke="#1515f0"/>
<circle cx="225.4" cy="166.5" r="2.45" stroke="#1515f0"/>
<circle cx="72.0" cy="133.1" r="2.45" stroke="#1515f0"/>
<circle cx="87.1" cy="162.3" r="2.45" stroke="#1b5a1b"/>
<circle cx="115.5" cy="84.6" r="2.45" stroke="#1b5a1b"/>
<circle cx="190.7" cy="162.0" r="2.45" stroke="#1b5a1b"/>
<circle cx="257.7" cy="131.8" r="2.45" stroke="#1b5a1b"/>
<circle cx="119.3" cy="116.9" r="2.45" stroke="#1b5a1b"/>
<circle cx="257.3" cy="165.3" r="2.45" stroke="#f01e28"/>
<circle cx="218.2" cy="172.7" r="2.45" stroke="#1515f0"/>
<circle cx="174.0" cy="162.0" r="2.45" stroke="#1b5a1b"/>
<circle cx="71.5" cy="154.5" r="2.45" stroke="#1b5a1b"/>
<circle cx="153.0" cy="158.9" r="2.45" stroke="#1515f0"/>
<circle cx="172.0" cy="179.0" r="2.45" stroke="#f01e28"/>
<circle cx="164.9" cy="113.3" r="2.45" stroke="#1b5a1b"/>
<circle cx="223.1" cy="160.2" r="2.45" stroke="#f01e28"/>
<circle cx="160.4" cy="206.3" r="2.45" stroke="#1b5a1b"/>
<circle cx="63.9" cy="116.9" r="2.45" stroke="#1515f0"/>
<circle cx="209.7" cy="117.3" r="2.45" stroke="#1b5a1b"/>
<circle cx="189.6" cy="151.9" r="2.45" stroke="#1515f0"/>
<circle cx="239.9" cy="140.8" r="2.45" stroke="#1b5a1b"/>
<circle cx="148.1" cy="106.5" r="2.45" stroke="#1b5a1b"/>
<circle cx="207.5" cy="157.5" r="2.45" stroke="#1b5a1b"/>
<circle cx="98.9" cy="111.3" r="2.45" stroke="#1515f0"/>
<circle cx="165.3" cy="161.2" r="2.45" stroke="#1b5a1b"/>
<circle cx="130.6" cy="156.1" r="2.45" stroke="#1b5a1b"/>
<circle cx="187.4" cy="129.6" r="2.45" stroke="#1b5a1b"/>
<circle cx="75.7" cy="150.9" r="2.45" stroke="#1515f0"/>
<circle cx="215.3" cy="153.5" r="2.45" stroke="#1b5a1b"/>
<circle cx="278.5" cy="139.7" r="2.45" stroke="#1b5a1b"/>
<circle cx="256.2" cy="126.3" r="2.45" stroke="#1b5a1b"/>
<circle cx="126.7" cy="106.1" r="2.45" stroke="#1b5a1b"/>
<circle cx="191.2" cy="176.3" r="2.45" stroke="#1515f0"/>
<circle cx="159.7" cy="151.8" r="2.45" stroke="#1b5a1b"/>
<circle cx="131.8" cy="162.3" r="2.45" stroke="#1515f0"/>
<circle cx="173.3" cy="100.3" r="2.45" stroke="#1b5a1b"/>
<circle cx="161.9" cy="146.9" r="2.45" stroke="#1b5a1b"/>
<circle cx="125.2" cy="109.0" r="2.45" stroke="#1b5a1b"/>
<circle cx="155.0" cy="135.5" r="2.45" stroke="#1515f0"/>
<circle cx="243.2" cy="158.0" r="2.45" stroke="#f01e28"/>
<circle cx="93.0" cy="139.6" r="2.45" stroke="#1515f0"/>
<circle cx="163.4" cy="135.5" r="2.45" stroke="#1515f0"/>
<circle cx="111.7" cy="154.5" r="2.45" stroke="#1515f0"/>
<circle cx="158.8" cy="134.7" r="2.45" stroke="#1515f0"/>
<circle cx="147.4" cy="173.4" r="2.45" stroke="#1b5a1b"/>
<circle cx="127.3" cy="154.5" r="2.45" stroke="#1515f0"/>
<circle cx="91.6" cy="164.5" r="2.45" stroke="#1b5a1b"/>
<circle cx="110.4" cy="149.7" r="2.45" stroke="#1515f0"/>
<circle cx="176.2" cy="180.0" r="2.45" stroke="#1b5a1b"/>
<circle cx="125.1" cy="162.3" r="2.45" stroke="#1515f0"/>
<circle cx="191.9" cy="140.8" r="2.45" stroke="#f01e28"/>
<circle cx="91.5" cy="111.6" r="2.45" stroke="#1b5a1b"/>
<circle cx="191.9" cy="159.8" r="2.45" stroke="#f01e28"/>
<circle cx="170.3" cy="153.0" r="2.45" stroke="#1b5a1b"/>
<circle cx="232.5" cy="150.2" r="2.45" stroke="#1515f0"/>
<circle cx="74.8" cy="154.5" r="2.45" stroke="#1515f0"/>
<circle cx="220.9" cy="188.5" r="2.45" stroke="#1515f0"/>
<circle cx="119.3" cy="141.1" r="2.45" stroke="#1515f0"/>
<circle cx="126.2" cy="171.2" r="2.45" stroke="#1b5a1b"/>
<circle cx="196.3" cy="139.7" r="2.45" stroke="#1b5a1b"/>
<circle cx="49.1" cy="137.4" r="2.45" stroke="#1515f0"/>
<circle cx="230.9" cy="183.4" r="2.45" stroke="#f01e28"/>
<circle cx="49.1" cy="128.7" r="2.45" stroke="#1515f0"/>
<circle cx="156.5" cy="170.6" r="2.45" stroke="#1515f0"/>
<circle cx="93.9" cy="126.0" r="2.45" stroke="#1515f0"/>
<circle cx="89.4" cy="158.9" r="2.45" stroke="#1b5a1b"/>
<circle cx="182.0" cy="213.5" r="2.45" stroke="#f01e28"/>
<circle cx="73.7" cy="158.5" r="2.45" stroke="#1515f0"/>
<circle cx="137.5" cy="147.7" r="2.45" stroke="#1515f0"/>
<circle cx="133.6" cy="110.3" r="2.45" stroke="#1b5a1b"/>
<circle cx="101.2" cy="26.6" r="2.45" stroke="#1b5a1b"/>
<circle cx="172.0" cy="192.4" r="2.45" stroke="#1515f0"/>
<circle cx="78.2" cy="125.3" r="2.45" stroke="#1515f0"/>
<circle cx="169.5" cy="105.7" r="2.45" stroke="#f01e28"/>
<circle cx="99.3" cy="130.2" r="2.45" stroke="#1515f0"/>
<circle cx="73.1" cy="166.7" r="2.45" stroke="#1b5a1b"/>
<circle cx="270.0" cy="125.8" r="2.45" stroke="#f01e28"/>
<circle cx="249.9" cy="145.2" r="2.45" stroke="#f01e28"/>
<circle cx="130.6" cy="127.1" r="2.45" stroke="#1515f0"/>
<circle cx="203.0" cy="116.7" r="2.45" stroke="#1515f0"/>
<circle cx="172.7" cy="184.6" r="2.45" stroke="#1b5a1b"/>
<circle cx="102.3" cy="108.0" r="2.45" stroke="#1515f0"/>
<circle cx="174.9" cy="136.2" r="2.45" stroke="#1515f0"/>
<circle cx="282.3" cy="153.1" r="2.45" stroke="#1b5a1b"/>
<circle cx="229.8" cy="178.9" r="2.45" stroke="#1515f0"/>
<circle cx="60.3" cy="152.2" r="2.45" stroke="#1b5a1b"/>
<circle cx="173.3" cy="153.0" r="2.45" stroke="#1515f0"/>
<circle cx="239.2" cy="138.8" r="2.45" stroke="#f01e28"/>
<circle cx="172.0" cy="170.1" r="2.45" stroke="#1515f0"/>
<circle cx="162.6" cy="127.1" r="2.45" stroke="#f01e28"/>
<circle cx="80.9" cy="117.5" r="2.45" stroke="#1b5a1b"/>
<circle cx="51.3" cy="116.9" r="2.45" stroke="#1b5a1b"/>
<circle cx="238.8" cy="130.7" r="2.45" stroke="#f01e28"/>
<circle cx="241.0" cy="111.7" r="2.45" stroke="#f01e28"/>
<circle cx="174.9" cy="121.7" r="2.45" stroke="#1b5a1b"/>
<circle cx="214.2" cy="106.2" r="2.45" stroke="#f01e28"/>
<circle cx="186.3" cy="126.3" r="2.45" stroke="#1515f0"/>
<circle cx="127.5" cy="121.7" r="2.45" stroke="#1b5a1b"/>
<circle cx="162.6" cy="160.6" r="2.45" stroke="#1515f0"/>
<circle cx="137.5" cy="138.5" r="2.45" stroke="#1b5a1b"/>
<circle cx="148.1" cy="146.1" r="2.45" stroke="#1b5a1b"/>
<circle cx="139.7" cy="141.6" r="2.45" stroke="#1b5a1b"/>
<circle cx="205.3" cy="137.4" r="2.45" stroke="#1b5a1b"/>
<circle cx="199.7" cy="156.4" r="2.45" stroke="#f01e28"/>
<circle cx="129.1" cy="136.2" r="2.45" stroke="#1b5a1b"/>
<circle cx="179.6" cy="166.5" r="2.45" stroke="#1515f0"/>
<circle cx="89.4" cy="73.0" r="2.45" stroke="#1b5a1b"/>
<circle cx="187.4" cy="167.6" r="2.45" stroke="#1b5a1b"/>
<circle cx="197.4" cy="168.7" r="2.45" stroke="#1515f0"/>
<circle cx="223.6" cy="186.1" r="2.45" stroke="#1515f0"/>
<circle cx="161.9" cy="170.1" r="2.45" stroke="#1b5a1b"/>
<circle cx="179.4" cy="187.6" r="2.45" stroke="#f01e28"/>
<circle cx="285.7" cy="115.5" r="2.45" stroke="#1b5a1b"/>
<circle cx="94.9" cy="103.1" r="2.45" stroke="#1b5a1b"/>
<circle cx="178.9" cy="186.7" r="2.45" stroke="#1b5a1b"/>
<circle cx="195.2" cy="124.0" r="2.45" stroke="#1b5a1b"/>
<circle cx="222.0" cy="95.4" r="2.45" stroke="#f01e28"/>
<circle cx="58.7" cy="143.8" r="2.45" stroke="#1515f0"/>
<circle cx="91.6" cy="154.5" r="2.45" stroke="#1b5a1b"/>
<circle cx="179.6" cy="159.8" r="2.45" stroke="#f01e28"/>
<circle cx="107.2" cy="171.7" r="2.45" stroke="#1b5a1b"/>
<circle cx="142.0" cy="103.4" r="2.45" stroke="#1b5a1b"/>
<circle cx="158.1" cy="111.0" r="2.45" stroke="#1b5a1b"/>
<circle cx="187.4" cy="105.0" r="2.45" stroke="#1b5a1b"/>
<circle cx="171.0" cy="136.2" r="2.45" stroke="#1515f0"/>
<circle cx="221.6" cy="135.6" r="2.45" stroke="#1b5a1b"/>
<circle cx="103.0" cy="152.6" r="2.45" stroke="#1b5a1b"/>
<circle cx="279.0" cy="132.5" r="2.45" stroke="#f01e28"/>
<circle cx="102.8" cy="158.9" r="2.45" stroke="#1515f0"/>
<circle cx="165.7" cy="129.4" r="2.45" stroke="#1515f0"/>
<circle cx="103.0" cy="124.9" r="2.45" stroke="#1515f0"/>
<circle cx="132.9" cy="135.5" r="2.45" stroke="#1515f0"/>
<circle cx="210.8" cy="111.7" r="2.45" stroke="#f01e28"/>
<circle cx="214.2" cy="162.0" r="2.45" stroke="#1b5a1b"/>
<circle cx="128.4" cy="180.8" r="2.45" stroke="#1b5a1b"/>
<circle cx="163.1" cy="158.9" r="2.45" stroke="#f01e28"/>
<circle cx="132.9" cy="159.1" r="2.45" stroke="#1515f0"/>
<circle cx="104.8" cy="107.1" r="2.45" stroke="#f01e28"/>
<circle cx="84.9" cy="157.8" r="2.45" stroke="#1b5a1b"/>
<circle cx="165.7" cy="166.0" r="2.45" stroke="#1b5a1b"/>
<circle cx="270.9" cy="221.4" r="2.45" stroke="#1b5a1b"/>
<circle cx="122.5" cy="128.3" r="2.45" stroke="#1515f0"/>
<circle cx="239.9" cy="168.0" r="2.45" stroke="#1b5a1b"/>
<circle cx="157.5" cy="182.4" r="2.45" stroke="#1b5a1b"/>
<circle cx="217.5" cy="162.0" r="2.45" stroke="#1515f0"/>
<circle cx="175.1" cy="150.8" r="2.45" stroke="#1515f0"/>
<circle cx="227.6" cy="114.2" r="2.45" stroke="#1b5a1b"/>
<circle cx="272.3" cy="186.1" r="2.45" stroke="#f01e28"/>
<circle cx="252.2" cy="155.3" r="2.45" stroke="#1b5a1b"/>
<circle cx="234.7" cy="196.4" r="2.45" stroke="#1515f0"/>
<circle cx="88.2" cy="151.2" r="2.45" stroke="#1515f0"/>
<circle cx="208.6" cy="136.3" r="2.45" stroke="#f01e28"/>
<circle cx="150.4" cy="121.0" r="2.45" stroke="#1b5a1b"/>
<circle cx="66.8" cy="112.7" r="2.45" stroke="#f01e28"/>
<circle cx="184.0" cy="122.9" r="2.45" stroke="#1515f0"/>
<circle cx="161.1" cy="141.6" r="2.45" stroke="#1515f0"/>
<circle cx="49.8" cy="146.3" r="2.45" stroke="#1515f0"/>
<circle cx="258.9" cy="129.6" r="2.45" stroke="#1b5a1b"/>
<circle cx="145.1" cy="110.3" r="2.45" stroke="#1b5a1b"/>
<circle cx="129.6" cy="158.9" r="2.45" stroke="#1b5a1b"/>
<circle cx="227.6" cy="167.6" r="2.45" stroke="#1515f0"/>
<circle cx="190.7" cy="147.5" r="2.45" stroke="#1515f0"/>
<circle cx="82.3" cy="131.7" r="2.45" stroke="#1515f0"/>
<circle cx="154.1" cy="167.9" r="2.45" stroke="#f01e28"/>
<circle cx="191.9" cy="124.0" r="2.45" stroke="#1b5a1b"/>
<circle cx="230.9" cy="208.0" r="2.45" stroke="#f01e28"/>
<circle cx="155.0" cy="117.1" r="2.45" stroke="#f01e28"/>
<circle cx="192.3" cy="116.7" r="2.45" stroke="#1b5a1b"/>
<circle cx="218.2" cy="147.5" r="2.45" stroke="#1b5a1b"/>
<circle cx="64.6" cy="102.4" r="2.45" stroke="#1b5a1b"/>
<circle cx="245.9" cy="186.7" r="2.45" stroke="#1b5a1b"/>
<circle cx="74.9" cy="133.7" r="2.45" stroke="#1515f0"/>
<circle cx="132.9" cy="117.9" r="2.45" stroke="#1b5a1b"/>
<circle cx="65.8" cy="128.4" r="2.45" stroke="#1515f0"/>
<circle cx="191.9" cy="164.2" r="2.45" stroke="#1515f0"/>
<circle cx="109.2" cy="133.1" r="2.45" stroke="#1515f0"/>
<circle cx="84.1" cy="145.5" r="2.45" stroke="#1515f0"/>
<circle cx="170.9" cy="163.4" r="2.45" stroke="#1b5a1b"/>
<circle cx="193.0" cy="133.0" r="2.45" stroke="#1b5a1b"/>
<circle cx="143.6" cy="137.7" r="2.45" stroke="#f01e28"/>
<circle cx="209.7" cy="105.0" r="2.45" stroke="#f01e28"/>
<circle cx="196.3" cy="145.2" r="2.45" stroke="#1b5a1b"/>
<circle cx="218.7" cy="168.7" r="2.45" stroke="#1b5a1b"/>
<circle cx="228.3" cy="82.2" r="2.45" stroke="#f01e28"/>
<circle cx="85.0" cy="112.7" r="2.45" stroke="#f01e28"/>
<circle cx="220.4" cy="204.2" r="2.45" stroke="#1515f0"/>
<circle cx="224.9" cy="135.2" r="2.45" stroke="#1515f0"/>
<circle cx="148.9" cy="116.4" r="2.45" stroke="#1b5a1b"/>
<circle cx="164.2" cy="181.3" r="2.45" stroke="#f01e28"/>
<circle cx="188.5" cy="111.7" r="2.45" stroke="#1515f0"/>
<circle cx="154.2" cy="132.4" r="2.45" stroke="#f01e28"/>
<circle cx="191.4" cy="92.7" r="2.45" stroke="#f01e28"/>
<circle cx="163.4" cy="156.1" r="2.45" stroke="#f01e28"/>
<circle cx="149.7" cy="153.3" r="2.45" stroke="#1515f0"/>
</g>
<line x1="38.9" y1="119.30" x2="308.9" y2="119.30" stroke="#222" stroke-width="1.2"/>
<rect x="38.9" y="1.0" width="270.0" height="235.4" fill="none" stroke="#000" stroke-width="1.6"/>
<line x1="38.9" y1="206.30" x2="43.9" y2="206.30" stroke="#000" stroke-width="1.4"/>
<line x1="38.9" y1="162.73" x2="43.9" y2="162.73" stroke="#000" stroke-width="1.4"/>
<line x1="38.9" y1="119.15" x2="43.9" y2="119.15" stroke="#000" stroke-width="1.4"/>
<line x1="38.9" y1="75.58" x2="43.9" y2="75.58" stroke="#000" stroke-width="1.4"/>
<line x1="38.9" y1="32.00" x2="43.9" y2="32.00" stroke="#000" stroke-width="1.4"/>
<line x1="48.80" y1="236.4" x2="48.80" y2="229.9" stroke="#000" stroke-width="1.4"/>
<line x1="112.80" y1="236.4" x2="112.80" y2="233.20000000000002" stroke="#000" stroke-width="1.4"/>
<line x1="150.24" y1="236.4" x2="150.24" y2="233.20000000000002" stroke="#000" stroke-width="1.4"/>
<line x1="176.80" y1="236.4" x2="176.80" y2="233.20000000000002" stroke="#000" stroke-width="1.4"/>
<line x1="197.40" y1="236.4" x2="197.40" y2="233.20000000000002" stroke="#000" stroke-width="1.4"/>
<line x1="214.23" y1="236.4" x2="214.23" y2="233.20000000000002" stroke="#000" stroke-width="1.4"/>
<line x1="228.47" y1="236.4" x2="228.47" y2="233.20000000000002" stroke="#000" stroke-width="1.4"/>
<line x1="240.80" y1="236.4" x2="240.80" y2="233.20000000000002" stroke="#000" stroke-width="1.4"/>
<line x1="251.67" y1="236.4" x2="251.67" y2="233.20000000000002" stroke="#000" stroke-width="1.4"/>
<line x1="261.40" y1="236.4" x2="261.40" y2="229.9" stroke="#000" stroke-width="1.4"/>
<text x="301.4" y="22.9" text-anchor="end" font-family="Liberation Sans" font-weight="bold" font-size="20.5">a</text>
<text transform="translate(30.799999999999997,206.30) rotate(-90)" text-anchor="middle" font-family="Liberation Sans" font-size="13.3">-20</text>
<text transform="translate(30.799999999999997,162.73) rotate(-90)" text-anchor="middle" font-family="Liberation Sans" font-size="13.3">-10</text>
<text transform="translate(30.799999999999997,119.15) rotate(-90)" text-anchor="middle" font-family="Liberation Sans" font-size="13.3">0</text>
<text transform="translate(30.799999999999997,75.58) rotate(-90)" text-anchor="middle" font-family="Liberation Sans" font-size="13.3">10</text>
<text transform="translate(30.799999999999997,32.00) rotate(-90)" text-anchor="middle" font-family="Liberation Sans" font-size="13.3">20</text>
<text transform="translate(10.8,119.15) rotate(-90)" text-anchor="middle" font-family="Liberation Sans" font-size="13.5">Residuals</text>
<g stroke-width="1.5" fill="#000" fill-opacity="0.35">
<circle cx="382.1" cy="135.1" r="2.45" stroke="#1b5a1b"/>
<circle cx="382.6" cy="139.6" r="2.45" stroke="#1b5a1b"/>
<circle cx="358.0" cy="112.2" r="2.45" stroke="#1b5a1b"/>
<circle cx="369.9" cy="121.2" r="2.45" stroke="#1b5a1b"/>
<circle cx="332.8" cy="125.8" r="2.45" stroke="#1b5a1b"/>
<circle cx="372.2" cy="141.9" r="2.45" stroke="#1b5a1b"/>
<circle cx="350.1" cy="134.4" r="2.45" stroke="#1515f0"/>
<circle cx="371.8" cy="121.6" r="2.45" stroke="#1b5a1b"/>
<circle cx="344.3" cy="129.2" r="2.45" stroke="#1b5a1b"/>
<circle cx="394.1" cy="136.6" r="2.45" stroke="#1b5a1b"/>
<circle cx="352.6" cy="135.3" r="2.45" stroke="#1b5a1b"/>
<circle cx="406.9" cy="136.2" r="2.45" stroke="#1b5a1b"/>
<circle cx="373.9" cy="126.0" r="2.45" stroke="#1b5a1b"/>
<circle cx="369.2" cy="135.3" r="2.45" stroke="#1b5a1b"/>
<circle cx="333.9" cy="148.5" r="2.45" stroke="#1b5a1b"/>
<circle cx="372.5" cy="128.0" r="2.45" stroke="#1b5a1b"/>
<circle cx="379.6" cy="131.9" r="2.45" stroke="#1b5a1b"/>
<circle cx="404.1" cy="128.9" r="2.45" stroke="#1b5a1b"/>
<circle cx="404.1" cy="139.6" r="2.45" stroke="#1515f0"/>
<circle cx="336.5" cy="128.9" r="2.45" stroke="#1515f0"/>
<circle cx="341.2" cy="144.2" r="2.45" stroke="#1b5a1b"/>
<circle cx="391.4" cy="136.9" r="2.45" stroke="#1b5a1b"/>
<circle cx="385.7" cy="113.1" r="2.45" stroke="#f01e28"/>
<circle cx="428.5" cy="137.3" r="2.45" stroke="#1b5a1b"/>
<circle cx="383.7" cy="115.3" r="2.45" stroke="#1b5a1b"/>
<circle cx="337.4" cy="124.9" r="2.45" stroke="#f01e28"/>
<circle cx="346.5" cy="121.9" r="2.45" stroke="#1b5a1b"/>
<circle cx="342.0" cy="131.5" r="2.45" stroke="#f01e28"/>
<circle cx="412.0" cy="126.0" r="2.45" stroke="#1b5a1b"/>
<circle cx="357.0" cy="148.9" r="2.45" stroke="#1b5a1b"/>
<circle cx="423.6" cy="138.9" r="2.45" stroke="#1b5a1b"/>
<circle cx="337.1" cy="145.8" r="2.45" stroke="#1b5a1b"/>
<circle cx="361.8" cy="121.0" r="2.45" stroke="#f01e28"/>
<circle cx="366.1" cy="123.2" r="2.45" stroke="#f01e28"/>
<circle cx="380.9" cy="146.5" r="2.45" stroke="#1b5a1b"/>
<circle cx="401.1" cy="121.0" r="2.45" stroke="#1b5a1b"/>
<circle cx="356.3" cy="150.2" r="2.45" stroke="#1b5a1b"/>
<circle cx="418.3" cy="130.0" r="2.45" stroke="#1b5a1b"/>
<circle cx="359.6" cy="143.8" r="2.45" stroke="#1b5a1b"/>
<circle cx="388.3" cy="118.3" r="2.45" stroke="#1515f0"/>
<circle cx="405.1" cy="148.3" r="2.45" stroke="#1b5a1b"/>
<circle cx="416.3" cy="135.1" r="2.45" stroke="#1b5a1b"/>
<circle cx="353.1" cy="142.0" r="2.45" stroke="#1b5a1b"/>
<circle cx="337.5" cy="122.7" r="2.45" stroke="#1b5a1b"/>
<circle cx="389.3" cy="145.6" r="2.45" stroke="#1515f0"/>
<circle cx="379.4" cy="126.9" r="2.45" stroke="#1b5a1b"/>
<circle cx="381.3" cy="123.4" r="2.45" stroke="#1b5a1b"/>
<circle cx="340.9" cy="148.1" r="2.45" stroke="#1b5a1b"/>
<circle cx="362.1" cy="145.2" r="2.45" stroke="#f01e28"/>
<circle cx="401.3" cy="148.1" r="2.45" stroke="#1b5a1b"/>
<circle cx="373.8" cy="129.6" r="2.45" stroke="#1b5a1b"/>
<circle cx="409.2" cy="145.5" r="2.45" stroke="#1b5a1b"/>
<circle cx="372.5" cy="126.9" r="2.45" stroke="#1b5a1b"/>
<circle cx="357.5" cy="125.0" r="2.45" stroke="#1b5a1b"/>
<circle cx="356.6" cy="144.8" r="2.45" stroke="#f01e28"/>
<circle cx="350.4" cy="145.1" r="2.45" stroke="#1b5a1b"/>
<circle cx="342.4" cy="133.0" r="2.45" stroke="#1b5a1b"/>
<circle cx="343.1" cy="126.0" r="2.45" stroke="#1b5a1b"/>
<circle cx="343.3" cy="135.6" r="2.45" stroke="#1b5a1b"/>
<circle cx="383.3" cy="151.9" r="2.45" stroke="#1b5a1b"/>
<circle cx="415.9" cy="147.3" r="2.45" stroke="#1b5a1b"/>
<circle cx="384.6" cy="140.6" r="2.45" stroke="#1b5a1b"/>
<circle cx="344.0" cy="113.5" r="2.45" stroke="#1b5a1b"/>
<circle cx="409.8" cy="139.8" r="2.45" stroke="#1b5a1b"/>
<circle cx="410.1" cy="120.4" r="2.45" stroke="#1b5a1b"/>
<circle cx="390.8" cy="125.5" r="2.45" stroke="#1b5a1b"/>
<circle cx="371.0" cy="130.4" r="2.45" stroke="#f01e28"/>
<circle cx="368.1" cy="142.4" r="2.45" stroke="#1b5a1b"/>
<circle cx="383.0" cy="128.8" r="2.45" stroke="#1b5a1b"/>
<circle cx="396.2" cy="154.0" r="2.45" stroke="#1b5a1b"/>
<circle cx="356.9" cy="140.9" r="2.45" stroke="#1b5a1b"/>
<circle cx="406.4" cy="130.6" r="2.45" stroke="#1b5a1b"/>
<circle cx="390.7" cy="127.8" r="2.45" stroke="#1b5a1b"/>
<circle cx="376.5" cy="131.8" r="2.45" stroke="#1b5a1b"/>
<circle cx="406.6" cy="141.4" r="2.45" stroke="#1b5a1b"/>
<circle cx="350.3" cy="122.3" r="2.45" stroke="#1515f0"/>
<circle cx="366.5" cy="125.5" r="2.45" stroke="#f01e28"/>
<circle cx="331.7" cy="124.2" r="2.45" stroke="#1b5a1b"/>
<circle cx="387.3" cy="118.4" r="2.45" stroke="#1b5a1b"/>
<circle cx="336.0" cy="136.8" r="2.45" stroke="#1b5a1b"/>
<circle cx="356.0" cy="127.7" r="2.45" stroke="#1b5a1b"/>
<circle cx="346.7" cy="123.4" r="2.45" stroke="#1b5a1b"/>
<circle cx="406.7" cy="121.6" r="2.45" stroke="#1b5a1b"/>
<circle cx="372.7" cy="138.1" r="2.45" stroke="#1b5a1b"/>
<circle cx="341.2" cy="145.1" r="2.45" stroke="#1b5a1b"/>
<circle cx="345.7" cy="141.4" r="2.45" stroke="#1b5a1b"/>
<circle cx="341.9" cy="126.1" r="2.45" stroke="#1b5a1b"/>
<circle cx="334.4" cy="124.7" r="2.45" stroke="#1b5a1b"/>
<circle cx="385.2" cy="129.0" r="2.45" stroke="#1b5a1b"/>
<circle cx="377.0" cy="145.3" r="2.45" stroke="#1b5a1b"/>
<circle cx="361.5" cy="118.7" r="2.45" stroke="#1b5a1b"/>
<circle cx="387.8" cy="135.3" r="2.45" stroke="#1b5a1b"/>
<circle cx="423.3" cy="148.9" r="2.45" stroke="#1b5a1b"/>
<circle cx="416.0" cy="152.1" r="2.45" stroke="#1b5a1b"/>
<circle cx="400.5" cy="138.5" r="2.45" stroke="#f01e28"/>
<circle cx="377.0" cy="122.5" r="2.45" stroke="#1b5a1b"/>
<circle cx="333.5" cy="122.9" r="2.45" stroke="#1b5a1b"/>
<circle cx="363.6" cy="147.2" r="2.45" stroke="#1b5a1b"/>
<circle cx="363.5" cy="127.4" r="2.45" stroke="#1b5a1b"/>
<circle cx="372.9" cy="146.8" r="2.45" stroke="#1b5a1b"/>
<circle cx="385.8" cy="138.4" r="2.45" stroke="#1b5a1b"/>
<circle cx="345.8" cy="145.3" r="2.45" stroke="#1b5a1b"/>
<circle cx="425.0" cy="142.3" r="2.45" stroke="#1b5a1b"/>
<circle cx="385.5" cy="138.5" r="2.45" stroke="#1b5a1b"/>
<circle cx="349.8" cy="112.9" r="2.45" stroke="#1515f0"/>
<circle cx="387.8" cy="128.5" r="2.45" stroke="#1b5a1b"/>
<circle cx="358.3" cy="127.6" r="2.45" stroke="#1b5a1b"/>
<circle cx="397.5" cy="140.0" r="2.45" stroke="#1b5a1b"/>
<circle cx="392.1" cy="129.1" r="2.45" stroke="#1b5a1b"/>
<circle cx="410.7" cy="118.1" r="2.45" stroke="#1515f0"/>
<circle cx="344.0" cy="120.5" r="2.45" stroke="#f01e28"/>
<circle cx="373.3" cy="132.5" r="2.45" stroke="#f01e28"/>
<circle cx="376.2" cy="150.9" r="2.45" stroke="#1b5a1b"/>
<circle cx="398.0" cy="147.1" r="2.45" stroke="#f01e28"/>
<circle cx="391.9" cy="133.0" r="2.45" stroke="#f01e28"/>
<circle cx="376.5" cy="120.9" r="2.45" stroke="#1b5a1b"/>
<circle cx="356.9" cy="123.6" r="2.45" stroke="#1b5a1b"/>
<circle cx="382.5" cy="120.7" r="2.45" stroke="#1b5a1b"/>
<circle cx="423.9" cy="150.4" r="2.45" stroke="#1b5a1b"/>
<circle cx="370.1" cy="118.4" r="2.45" stroke="#1b5a1b"/>
<circle cx="372.0" cy="141.2" r="2.45" stroke="#1b5a1b"/>
<circle cx="374.6" cy="112.5" r="2.45" stroke="#1b5a1b"/>
<circle cx="360.5" cy="133.5" r="2.45" stroke="#1b5a1b"/>
<circle cx="367.8" cy="119.1" r="2.45" stroke="#1b5a1b"/>
<circle cx="399.1" cy="118.5" r="2.45" stroke="#1b5a1b"/>
<circle cx="339.5" cy="132.2" r="2.45" stroke="#f01e28"/>
<circle cx="387.1" cy="135.4" r="2.45" stroke="#1b5a1b"/>
<circle cx="359.7" cy="119.4" r="2.45" stroke="#1b5a1b"/>
<circle cx="338.1" cy="118.3" r="2.45" stroke="#1b5a1b"/>
<circle cx="345.0" cy="148.5" r="2.45" stroke="#1b5a1b"/>
<circle cx="416.6" cy="147.6" r="2.45" stroke="#1b5a1b"/>
<circle cx="385.3" cy="145.7" r="2.45" stroke="#1b5a1b"/>
<circle cx="361.3" cy="111.7" r="2.45" stroke="#1b5a1b"/>
<circle cx="345.4" cy="122.2" r="2.45" stroke="#1b5a1b"/>
<circle cx="421.5" cy="153.0" r="2.45" stroke="#1b5a1b"/>
<circle cx="386.3" cy="149.1" r="2.45" stroke="#1b5a1b"/>
<circle cx="406.2" cy="149.6" r="2.45" stroke="#1b5a1b"/>
<circle cx="367.2" cy="127.9" r="2.45" stroke="#1b5a1b"/>
<circle cx="369.0" cy="136.0" r="2.45" stroke="#1b5a1b"/>
<circle cx="338.4" cy="130.1" r="2.45" stroke="#1b5a1b"/>
<circle cx="395.0" cy="117.4" r="2.45" stroke="#1b5a1b"/>
<circle cx="357.8" cy="130.7" r="2.45" stroke="#1b5a1b"/>
<circle cx="396.1" cy="122.2" r="2.45" stroke="#f01e28"/>
<circle cx="401.1" cy="121.5" r="2.45" stroke="#1b5a1b"/>
<circle cx="371.7" cy="135.2" r="2.45" stroke="#1b5a1b"/>
<circle cx="404.2" cy="138.4" r="2.45" stroke="#1b5a1b"/>
<circle cx="387.1" cy="120.4" r="2.45" stroke="#1b5a1b"/>
<circle cx="412.0" cy="147.2" r="2.45" stroke="#1b5a1b"/>
<circle cx="349.9" cy="124.5" r="2.45" stroke="#1b5a1b"/>
<circle cx="383.8" cy="123.1" r="2.45" stroke="#f01e28"/>
<circle cx="385.9" cy="136.1" r="2.45" stroke="#1b5a1b"/>
<circle cx="358.2" cy="145.1" r="2.45" stroke="#1b5a1b"/>
<circle cx="416.4" cy="140.4" r="2.45" stroke="#1b5a1b"/>
<circle cx="357.6" cy="132.5" r="2.45" stroke="#1b5a1b"/>
<circle cx="373.5" cy="132.8" r="2.45" stroke="#1b5a1b"/>
<circle cx="341.4" cy="117.3" r="2.45" stroke="#1b5a1b"/>
<circle cx="397.8" cy="119.9" r="2.45" stroke="#1b5a1b"/>
<circle cx="356.3" cy="139.0" r="2.45" stroke="#1515f0"/>
<circle cx="380.5" cy="119.5" r="2.45" stroke="#1b5a1b"/>
<circle cx="396.7" cy="128.7" r="2.45" stroke="#1b5a1b"/>
<circle cx="387.2" cy="117.9" r="2.45" stroke="#1b5a1b"/>
<circle cx="372.2" cy="120.2" r="2.45" stroke="#1b5a1b"/>
<circle cx="342.7" cy="130.0" r="2.45" stroke="#1b5a1b"/>
<circle cx="389.1" cy="119.6" r="2.45" stroke="#1b5a1b"/>
<circle cx="366.9" cy="127.9" r="2.45" stroke="#1b5a1b"/>
<circle cx="380.1" cy="115.4" r="2.45" stroke="#1b5a1b"/>
<circle cx="355.8" cy="132.7" r="2.45" stroke="#1b5a1b"/>
<circle cx="371.8" cy="139.8" r="2.45" stroke="#1b5a1b"/>
<circle cx="351.4" cy="148.6" r="2.45" stroke="#1b5a1b"/>
<circle cx="358.4" cy="143.5" r="2.45" stroke="#1b5a1b"/>
<circle cx="402.6" cy="149.1" r="2.45" stroke="#1b5a1b"/>
<circle cx="374.1" cy="127.2" r="2.45" stroke="#1b5a1b"/>
<circle cx="355.0" cy="135.9" r="2.45" stroke="#f01e28"/>
<circle cx="382.0" cy="118.3" r="2.45" stroke="#1b5a1b"/>
<circle cx="379.9" cy="154.1" r="2.45" stroke="#1b5a1b"/>
<circle cx="346.2" cy="131.3" r="2.45" stroke="#1b5a1b"/>
<circle cx="408.9" cy="119.1" r="2.45" stroke="#1b5a1b"/>
<circle cx="396.3" cy="130.9" r="2.45" stroke="#1b5a1b"/>
<circle cx="381.5" cy="145.6" r="2.45" stroke="#1b5a1b"/>
<circle cx="337.6" cy="150.3" r="2.45" stroke="#1b5a1b"/>
<circle cx="340.0" cy="143.8" r="2.45" stroke="#1b5a1b"/>
<circle cx="429.5" cy="155.4" r="2.45" stroke="#1b5a1b"/>
<circle cx="385.4" cy="131.4" r="2.45" stroke="#1b5a1b"/>
<circle cx="336.8" cy="141.4" r="2.45" stroke="#1b5a1b"/>
<circle cx="360.8" cy="117.2" r="2.45" stroke="#1b5a1b"/>
<circle cx="355.3" cy="140.6" r="2.45" stroke="#1515f0"/>
<circle cx="403.3" cy="124.6" r="2.45" stroke="#1b5a1b"/>
<circle cx="357.8" cy="140.1" r="2.45" stroke="#1b5a1b"/>
<circle cx="342.0" cy="132.7" r="2.45" stroke="#1b5a1b"/>
<circle cx="335.2" cy="110.9" r="2.45" stroke="#1b5a1b"/>
<circle cx="340.1" cy="121.1" r="2.45" stroke="#1b5a1b"/>
<circle cx="353.7" cy="125.6" r="2.45" stroke="#1b5a1b"/>
<circle cx="368.1" cy="142.1" r="2.45" stroke="#1b5a1b"/>
<circle cx="415.7" cy="149.5" r="2.45" stroke="#1b5a1b"/>
<circle cx="367.9" cy="126.2" r="2.45" stroke="#1b5a1b"/>
<circle cx="348.6" cy="112.7" r="2.45" stroke="#1b5a1b"/>
<circle cx="387.5" cy="124.5" r="2.45" stroke="#1515f0"/>
<circle cx="345.8" cy="144.6" r="2.45" stroke="#1b5a1b"/>
<circle cx="410.9" cy="134.6" r="2.45" stroke="#1b5a1b"/>
<circle cx="341.8" cy="117.0" r="2.45" stroke="#1b5a1b"/>
<circle cx="357.6" cy="124.0" r="2.45" stroke="#1b5a1b"/>
<circle cx="390.5" cy="145.3" r="2.45" stroke="#1515f0"/>
<circle cx="388.6" cy="144.3" r="2.45" stroke="#1b5a1b"/>
<circle cx="365.3" cy="116.1" r="2.45" stroke="#1b5a1b"/>
<circle cx="424.3" cy="141.2" r="2.45" stroke="#1515f0"/>
<circle cx="359.6" cy="132.2" r="2.45" stroke="#1b5a1b"/>
<circle cx="361.5" cy="136.8" r="2.45" stroke="#1b5a1b"/>
<circle cx="378.5" cy="143.8" r="2.45" stroke="#1b5a1b"/>
<circle cx="354.4" cy="118.7" r="2.45" stroke="#1b5a1b"/>
<circle cx="338.1" cy="146.4" r="2.45" stroke="#1b5a1b"/>
<circle cx="380.0" cy="145.3" r="2.45" stroke="#1b5a1b"/>
<circle cx="364.9" cy="129.9" r="2.45" stroke="#1b5a1b"/>
<circle cx="349.7" cy="117.3" r="2.45" stroke="#1b5a1b"/>
<circle cx="356.5" cy="120.4" r="2.45" stroke="#1b5a1b"/>
<circle cx="415.6" cy="134.5" r="2.45" stroke="#1515f0"/>
<circle cx="403.5" cy="136.2" r="2.45" stroke="#1b5a1b"/>
<circle cx="380.6" cy="152.2" r="2.45" stroke="#1b5a1b"/>
<circle cx="372.1" cy="133.9" r="2.45" stroke="#1515f0"/>
<circle cx="377.2" cy="142.1" r="2.45" stroke="#1b5a1b"/>
<circle cx="408.6" cy="130.5" r="2.45" stroke="#1b5a1b"/>
<circle cx="398.8" cy="136.4" r="2.45" stroke="#1515f0"/>
<circle cx="389.9" cy="137.3" r="2.45" stroke="#1b5a1b"/>
<circle cx="396.4" cy="144.0" r="2.45" stroke="#1b5a1b"/>
<circle cx="383.7" cy="143.5" r="2.45" stroke="#1b5a1b"/>
<circle cx="406.8" cy="120.7" r="2.45" stroke="#1515f0"/>
<circle cx="394.6" cy="140.9" r="2.45" stroke="#1b5a1b"/>
<circle cx="361.3" cy="128.2" r="2.45" stroke="#1b5a1b"/>
<circle cx="370.6" cy="127.8" r="2.45" stroke="#1b5a1b"/>
<circle cx="340.1" cy="144.2" r="2.45" stroke="#1b5a1b"/>
<circle cx="363.8" cy="117.0" r="2.45" stroke="#1b5a1b"/>
<circle cx="356.0" cy="124.3" r="2.45" stroke="#f01e28"/>
<circle cx="384.8" cy="142.5" r="2.45" stroke="#1b5a1b"/>
<circle cx="375.0" cy="143.6" r="2.45" stroke="#1b5a1b"/>
<circle cx="361.3" cy="125.6" r="2.45" stroke="#1515f0"/>
<circle cx="403.2" cy="153.8" r="2.45" stroke="#1b5a1b"/>
<circle cx="334.4" cy="120.4" r="2.45" stroke="#1b5a1b"/>
<circle cx="370.4" cy="140.7" r="2.45" stroke="#1b5a1b"/>
<circle cx="370.4" cy="129.9" r="2.45" stroke="#1b5a1b"/>
<circle cx="351.5" cy="135.9" r="2.45" stroke="#1b5a1b"/>
<circle cx="338.3" cy="116.4" r="2.45" stroke="#1b5a1b"/>
<circle cx="391.2" cy="141.3" r="2.45" stroke="#1b5a1b"/>
<circle cx="364.2" cy="120.2" r="2.45" stroke="#1515f0"/>
<circle cx="338.0" cy="123.2" r="2.45" stroke="#1b5a1b"/>
<circle cx="384.8" cy="148.3" r="2.45" stroke="#1b5a1b"/>
<circle cx="392.0" cy="140.7" r="2.45" stroke="#1b5a1b"/>
<circle cx="363.7" cy="146.3" r="2.45" stroke="#1b5a1b"/>
<circle cx="354.8" cy="114.8" r="2.45" stroke="#1b5a1b"/>
<circle cx="351.6" cy="129.5" r="2.45" stroke="#1b5a1b"/>
<circle cx="374.7" cy="135.1" r="2.45" stroke="#1b5a1b"/>
<circle cx="358.7" cy="120.3" r="2.45" stroke="#1b5a1b"/>
<circle cx="333.2" cy="133.5" r="2.45" stroke="#1b5a1b"/>
<circle cx="345.9" cy="124.2" r="2.45" stroke="#1b5a1b"/>
<circle cx="333.6" cy="141.7" r="2.45" stroke="#1b5a1b"/>
<circle cx="343.0" cy="120.9" r="2.45" stroke="#1b5a1b"/>
<circle cx="387.7" cy="137.0" r="2.45" stroke="#1b5a1b"/>
<circle cx="375.9" cy="128.3" r="2.45" stroke="#1b5a1b"/>
<circle cx="373.0" cy="129.4" r="2.45" stroke="#1b5a1b"/>
<circle cx="364.4" cy="137.5" r="2.45" stroke="#1b5a1b"/>
<circle cx="369.9" cy="144.4" r="2.45" stroke="#1b5a1b"/>
<circle cx="390.7" cy="141.3" r="2.45" stroke="#1b5a1b"/>
<circle cx="379.9" cy="114.1" r="2.45" stroke="#1b5a1b"/>
<circle cx="399.3" cy="132.0" r="2.45" stroke="#1b5a1b"/>
<circle cx="343.8" cy="128.9" r="2.45" stroke="#1b5a1b"/>
<circle cx="348.9" cy="140.8" r="2.45" stroke="#1b5a1b"/>
<circle cx="350.8" cy="144.3" r="2.45" stroke="#1b5a1b"/>
<circle cx="368.9" cy="146.6" r="2.45" stroke="#1b5a1b"/>
<circle cx="391.6" cy="119.5" r="2.45" stroke="#1b5a1b"/>
<circle cx="393.5" cy="152.5" r="2.45" stroke="#1b5a1b"/>
<circle cx="353.2" cy="124.4" r="2.45" stroke="#1b5a1b"/>
<circle cx="372.9" cy="146.0" r="2.45" stroke="#1b5a1b"/>
<circle cx="360.7" cy="140.5" r="2.45" stroke="#1b5a1b"/>
<circle cx="373.7" cy="116.7" r="2.45" stroke="#1b5a1b"/>
<circle cx="378.3" cy="142.3" r="2.45" stroke="#1515f0"/>
<circle cx="379.1" cy="136.3" r="2.45" stroke="#1b5a1b"/>
<circle cx="374.6" cy="144.5" r="2.45" stroke="#1b5a1b"/>
<circle cx="381.0" cy="131.8" r="2.45" stroke="#1b5a1b"/>
<circle cx="346.1" cy="145.2" r="2.45" stroke="#1b5a1b"/>
<circle cx="368.1" cy="119.8" r="2.45" stroke="#f01e28"/>
<circle cx="339.9" cy="114.4" r="2.45" stroke="#1b5a1b"/>
<circle cx="403.4" cy="124.2" r="2.45" stroke="#1b5a1b"/>
<circle cx="356.8" cy="118.2" r="2.45" stroke="#1515f0"/>
<circle cx="373.6" cy="115.9" r="2.45" stroke="#1b5a1b"/>
<circle cx="392.2" cy="136.7" r="2.45" stroke="#1b5a1b"/>
<circle cx="350.0" cy="122.1" r="2.45" stroke="#1515f0"/>
<circle cx="401.7" cy="126.6" r="2.45" stroke="#f01e28"/>
<circle cx="364.3" cy="121.6" r="2.45" stroke="#1b5a1b"/>
<circle cx="369.3" cy="130.1" r="2.45" stroke="#1515f0"/>
<circle cx="364.7" cy="134.8" r="2.45" stroke="#1b5a1b"/>
<circle cx="384.0" cy="139.7" r="2.45" stroke="#1b5a1b"/>
<circle cx="337.4" cy="137.8" r="2.45" stroke="#1b5a1b"/>
<circle cx="386.0" cy="132.3" r="2.45" stroke="#1b5a1b"/>
<circle cx="389.1" cy="119.8" r="2.45" stroke="#f01e28"/>
<circle cx="379.8" cy="135.1" r="2.45" stroke="#1b5a1b"/>
<circle cx="358.7" cy="141.0" r="2.45" stroke="#1515f0"/>
<circle cx="363.7" cy="124.0" r="2.45" stroke="#f01e28"/>
<circle cx="393.7" cy="121.7" r="2.45" stroke="#1b5a1b"/>
<circle cx="380.2" cy="131.0" r="2.45" stroke="#1b5a1b"/>
<circle cx="368.2" cy="118.0" r="2.45" stroke="#f01e28"/>
<circle cx="374.5" cy="142.3" r="2.45" stroke="#1b5a1b"/>
<circle cx="384.2" cy="143.0" r="2.45" stroke="#1b5a1b"/>
<circle cx="354.1" cy="114.3" r="2.45" stroke="#1515f0"/>
<circle cx="404.9" cy="126.1" r="2.45" stroke="#1b5a1b"/>
<circle cx="383.9" cy="136.1" r="2.45" stroke="#1b5a1b"/>
<circle cx="394.0" cy="128.6" r="2.45" stroke="#1b5a1b"/>
<circle cx="373.5" cy="140.7" r="2.45" stroke="#1b5a1b"/>
<circle cx="379.1" cy="140.6" r="2.45" stroke="#1b5a1b"/>
<circle cx="333.3" cy="139.4" r="2.45" stroke="#1b5a1b"/>
<circle cx="370.8" cy="132.2" r="2.45" stroke="#1b5a1b"/>
<circle cx="363.5" cy="129.1" r="2.45" stroke="#1b5a1b"/>
<circle cx="371.8" cy="125.1" r="2.45" stroke="#1b5a1b"/>
<circle cx="389.9" cy="119.4" r="2.45" stroke="#1515f0"/>
<circle cx="350.1" cy="122.3" r="2.45" stroke="#f01e28"/>
<circle cx="385.6" cy="141.8" r="2.45" stroke="#1b5a1b"/>
<circle cx="377.2" cy="145.2" r="2.45" stroke="#1b5a1b"/>
<circle cx="351.0" cy="142.3" r="2.45" stroke="#1b5a1b"/>
<circle cx="387.7" cy="151.8" r="2.45" stroke="#1b5a1b"/>
<circle cx="366.5" cy="129.4" r="2.45" stroke="#1b5a1b"/>
<circle cx="408.3" cy="148.1" r="2.45" stroke="#1b5a1b"/>
<circle cx="381.5" cy="149.1" r="2.45" stroke="#1b5a1b"/>
<circle cx="354.9" cy="129.6" r="2.45" stroke="#1b5a1b"/>
<circle cx="382.9" cy="148.9" r="2.45" stroke="#1b5a1b"/>
<circle cx="404.1" cy="143.9" r="2.45" stroke="#1515f0"/>
<circle cx="335.9" cy="132.3" r="2.45" stroke="#1b5a1b"/>
<circle cx="380.7" cy="120.7" r="2.45" stroke="#1b5a1b"/>
<circle cx="358.9" cy="144.8" r="2.45" stroke="#1b5a1b"/>
<circle cx="365.8" cy="144.9" r="2.45" stroke="#1b5a1b"/>
<circle cx="395.5" cy="140.3" r="2.45" stroke="#1b5a1b"/>
<circle cx="418.2" cy="148.9" r="2.45" stroke="#1b5a1b"/>
<circle cx="350.3" cy="133.9" r="2.45" stroke="#1b5a1b"/>
<circle cx="341.6" cy="117.5" r="2.45" stroke="#1b5a1b"/>
<circle cx="406.2" cy="137.2" r="2.45" stroke="#1b5a1b"/>
<circle cx="417.4" cy="147.7" r="2.45" stroke="#1b5a1b"/>
<circle cx="376.1" cy="123.0" r="2.45" stroke="#1b5a1b"/>
<circle cx="389.4" cy="121.7" r="2.45" stroke="#1b5a1b"/>
<circle cx="398.4" cy="134.3" r="2.45" stroke="#1b5a1b"/>
<circle cx="333.6" cy="145.3" r="2.45" stroke="#1b5a1b"/>
<circle cx="336.3" cy="128.1" r="2.45" stroke="#1b5a1b"/>
<circle cx="348.7" cy="114.9" r="2.45" stroke="#1b5a1b"/>
<circle cx="374.4" cy="134.3" r="2.45" stroke="#1b5a1b"/>
<circle cx="381.3" cy="121.8" r="2.45" stroke="#1b5a1b"/>
<circle cx="345.1" cy="125.9" r="2.45" stroke="#1b5a1b"/>
<circle cx="379.0" cy="143.1" r="2.45" stroke="#1b5a1b"/>
<circle cx="341.6" cy="118.3" r="2.45" stroke="#1b5a1b"/>
<circle cx="355.9" cy="124.1" r="2.45" stroke="#1b5a1b"/>
<circle cx="357.0" cy="134.3" r="2.45" stroke="#1b5a1b"/>
<circle cx="424.0" cy="150.7" r="2.45" stroke="#1b5a1b"/>
<circle cx="339.7" cy="118.7" r="2.45" stroke="#1b5a1b"/>
<circle cx="338.4" cy="113.7" r="2.45" stroke="#1b5a1b"/>
<circle cx="369.5" cy="130.3" r="2.45" stroke="#1b5a1b"/>
<circle cx="368.0" cy="117.7" r="2.45" stroke="#1b5a1b"/>
<circle cx="356.3" cy="132.9" r="2.45" stroke="#1b5a1b"/>
<circle cx="394.1" cy="118.8" r="2.45" stroke="#1b5a1b"/>
<circle cx="343.8" cy="146.6" r="2.45" stroke="#1b5a1b"/>
<circle cx="342.8" cy="128.3" r="2.45" stroke="#1515f0"/>
<circle cx="336.8" cy="139.8" r="2.45" stroke="#1b5a1b"/>
<circle cx="332.8" cy="116.2" r="2.45" stroke="#1515f0"/>
<circle cx="351.0" cy="118.0" r="2.45" stroke="#1b5a1b"/>
<circle cx="341.9" cy="148.4" r="2.45" stroke="#1b5a1b"/>
<circle cx="392.7" cy="145.5" r="2.45" stroke="#1515f0"/>
<circle cx="351.4" cy="118.0" r="2.45" stroke="#1b5a1b"/>
<circle cx="364.6" cy="118.6" r="2.45" stroke="#1b5a1b"/>
<circle cx="395.1" cy="147.0" r="2.45" stroke="#1b5a1b"/>
<circle cx="379.6" cy="122.2" r="2.45" stroke="#1b5a1b"/>
<circle cx="363.8" cy="150.2" r="2.45" stroke="#1b5a1b"/>
<circle cx="374.6" cy="130.0" r="2.45" stroke="#1b5a1b"/>
<circle cx="382.0" cy="137.1" r="2.45" stroke="#1b5a1b"/>
<circle cx="387.6" cy="131.8" r="2.45" stroke="#1b5a1b"/>
<circle cx="370.0" cy="126.2" r="2.45" stroke="#1b5a1b"/>
<circle cx="351.7" cy="138.4" r="2.45" stroke="#1b5a1b"/>
<circle cx="340.9" cy="112.3" r="2.45" stroke="#1b5a1b"/>
<circle cx="380.0" cy="143.8" r="2.45" stroke="#1b5a1b"/>
<circle cx="353.8" cy="121.4" r="2.45" stroke="#1515f0"/>
<circle cx="366.0" cy="128.7" r="2.45" stroke="#1b5a1b"/>
<circle cx="348.1" cy="115.0" r="2.45" stroke="#1b5a1b"/>
<circle cx="340.6" cy="144.4" r="2.45" stroke="#1b5a1b"/>
<circle cx="336.5" cy="139.7" r="2.45" stroke="#1b5a1b"/>
<circle cx="362.3" cy="130.6" r="2.45" stroke="#1b5a1b"/>
<circle cx="401.0" cy="120.9" r="2.45" stroke="#1b5a1b"/>
<circle cx="394.1" cy="121.0" r="2.45" stroke="#f01e28"/>
<circle cx="423.7" cy="152.5" r="2.45" stroke="#1b5a1b"/>
<circle cx="372.8" cy="134.1" r="2.45" stroke="#1b5a1b"/>
<circle cx="353.4" cy="119.5" r="2.45" stroke="#1b5a1b"/>
<circle cx="333.3" cy="138.9" r="2.45" stroke="#1b5a1b"/>
<circle cx="382.0" cy="137.6" r="2.45" stroke="#1b5a1b"/>
<circle cx="356.2" cy="115.0" r="2.45" stroke="#1b5a1b"/>
<circle cx="372.9" cy="143.2" r="2.45" stroke="#1b5a1b"/>
<circle cx="395.9" cy="120.9" r="2.45" stroke="#1b5a1b"/>
<circle cx="372.6" cy="134.5" r="2.45" stroke="#1b5a1b"/>
<circle cx="397.5" cy="148.0" r="2.45" stroke="#1b5a1b"/>
<circle cx="358.1" cy="117.4" r="2.45" stroke="#1b5a1b"/>
<circle cx="362.3" cy="115.4" r="2.45" stroke="#1b5a1b"/>
<circle cx="381.8" cy="122.5" r="2.45" stroke="#1b5a1b"/>
<circle cx="419.5" cy="136.9" r="2.45" stroke="#1b5a1b"/>
<circle cx="407.4" cy="149.7" r="2.45" stroke="#1b5a1b"/>
<circle cx="341.4" cy="118.3" r="2.45" stroke="#f01e28"/>
<circle cx="416.1" cy="147.4" r="2.45" stroke="#f01e28"/>
<circle cx="341.9" cy="114.3" r="2.45" stroke="#f01e28"/>
<circle cx="350.7" cy="129.4" r="2.45" stroke="#1b5a1b"/>
<circle cx="368.5" cy="139.4" r="2.45" stroke="#1b5a1b"/>
<circle cx="390.4" cy="137.4" r="2.45" stroke="#1b5a1b"/>
<circle cx="366.6" cy="126.1" r="2.45" stroke="#1b5a1b"/>
<circle cx="331.9" cy="120.9" r="2.45" stroke="#1b5a1b"/>
<circle cx="389.6" cy="120.3" r="2.45" stroke="#1b5a1b"/>
<circle cx="343.6" cy="135.2" r="2.45" stroke="#1b5a1b"/>
<circle cx="346.9" cy="147.0" r="2.45" stroke="#1b5a1b"/>
<circle cx="379.5" cy="120.3" r="2.45" stroke="#1b5a1b"/>
<circle cx="342.9" cy="118.8" r="2.45" stroke="#1b5a1b"/>
<circle cx="385.6" cy="143.1" r="2.45" stroke="#1b5a1b"/>
<circle cx="331.6" cy="140.1" r="2.45" stroke="#1b5a1b"/>
<circle cx="390.3" cy="125.1" r="2.45" stroke="#f01e28"/>
<circle cx="339.3" cy="123.3" r="2.45" stroke="#f01e28"/>
<circle cx="409.2" cy="151.9" r="2.45" stroke="#1b5a1b"/>
<circle cx="361.6" cy="150.2" r="2.45" stroke="#1b5a1b"/>
<circle cx="358.6" cy="147.6" r="2.45" stroke="#1b5a1b"/>
<circle cx="342.3" cy="111.1" r="2.45" stroke="#1b5a1b"/>
<circle cx="335.7" cy="139.1" r="2.45" stroke="#1515f0"/>
<circle cx="406.1" cy="121.8" r="2.45" stroke="#1b5a1b"/>
<circle cx="377.6" cy="124.3" r="2.45" stroke="#1b5a1b"/>
<circle cx="404.3" cy="143.8" r="2.45" stroke="#1515f0"/>
<circle cx="377.2" cy="130.9" r="2.45" stroke="#1b5a1b"/>
<circle cx="445.1" cy="126.6" r="2.45" stroke="#1515f0"/>
<circle cx="480.7" cy="124.1" r="2.45" stroke="#1b5a1b"/>
<circle cx="486.8" cy="135.9" r="2.45" stroke="#f01e28"/>
<circle cx="416.4" cy="110.7" r="2.45" stroke="#f01e28"/>
<circle cx="479.8" cy="136.7" r="2.45" stroke="#f01e28"/>
<circle cx="515.4" cy="160.3" r="2.45" stroke="#1b5a1b"/>
<circle cx="439.0" cy="147.5" r="2.45" stroke="#1b5a1b"/>
<circle cx="470.5" cy="140.5" r="2.45" stroke="#f01e28"/>
<circle cx="458.8" cy="134.6" r="2.45" stroke="#1515f0"/>
<circle cx="478.0" cy="156.9" r="2.45" stroke="#1b5a1b"/>
<circle cx="456.6" cy="118.2" r="2.45" stroke="#1b5a1b"/>
<circle cx="511.0" cy="163.5" r="2.45" stroke="#1b5a1b"/>
<circle cx="483.4" cy="151.9" r="2.45" stroke="#f01e28"/>
<circle cx="519.4" cy="122.6" r="2.45" stroke="#1515f0"/>
<circle cx="455.2" cy="135.0" r="2.45" stroke="#1515f0"/>
<circle cx="425.5" cy="150.9" r="2.45" stroke="#1515f0"/>
<circle cx="422.7" cy="142.4" r="2.45" stroke="#f01e28"/>
<circle cx="460.7" cy="130.4" r="2.45" stroke="#1b5a1b"/>
<circle cx="477.9" cy="136.4" r="2.45" stroke="#1b5a1b"/>
<circle cx="485.8" cy="133.3" r="2.45" stroke="#1b5a1b"/>
<circle cx="450.2" cy="134.9" r="2.45" stroke="#f01e28"/>
<circle cx="446.1" cy="122.7" r="2.45" stroke="#1515f0"/>
<circle cx="451.6" cy="151.9" r="2.45" stroke="#1b5a1b"/>
<circle cx="510.7" cy="149.2" r="2.45" stroke="#f01e28"/>
<circle cx="500.0" cy="144.0" r="2.45" stroke="#1b5a1b"/>
<circle cx="435.2" cy="156.4" r="2.45" stroke="#1515f0"/>
<circle cx="439.5" cy="137.2" r="2.45" stroke="#f01e28"/>
<circle cx="416.6" cy="126.3" r="2.45" stroke="#1515f0"/>
<circle cx="413.2" cy="152.4" r="2.45" stroke="#1515f0"/>
<circle cx="417.0" cy="119.2" r="2.45" stroke="#f01e28"/>
<circle cx="457.0" cy="153.2" r="2.45" stroke="#1515f0"/>
<circle cx="432.3" cy="142.0" r="2.45" stroke="#f01e28"/>
<circle cx="514.5" cy="141.9" r="2.45" stroke="#f01e28"/>
<circle cx="413.1" cy="114.5" r="2.45" stroke="#1b5a1b"/>
<circle cx="406.2" cy="128.3" r="2.45" stroke="#1b5a1b"/>
<circle cx="419.3" cy="151.9" r="2.45" stroke="#1b5a1b"/>
<circle cx="415.5" cy="126.2" r="2.45" stroke="#1515f0"/>
<circle cx="483.6" cy="160.8" r="2.45" stroke="#1515f0"/>
<circle cx="454.9" cy="112.8" r="2.45" stroke="#1515f0"/>
<circle cx="499.8" cy="139.9" r="2.45" stroke="#1b5a1b"/>
<circle cx="484.7" cy="136.0" r="2.45" stroke="#1b5a1b"/>
<circle cx="442.2" cy="145.4" r="2.45" stroke="#1b5a1b"/>
<circle cx="440.1" cy="158.2" r="2.45" stroke="#1b5a1b"/>
<circle cx="451.5" cy="123.0" r="2.45" stroke="#1b5a1b"/>
<circle cx="423.0" cy="127.5" r="2.45" stroke="#1515f0"/>
<circle cx="429.1" cy="159.2" r="2.45" stroke="#1b5a1b"/>
<circle cx="443.9" cy="144.6" r="2.45" stroke="#1b5a1b"/>
<circle cx="489.9" cy="157.3" r="2.45" stroke="#1b5a1b"/>
<circle cx="437.5" cy="160.6" r="2.45" stroke="#1b5a1b"/>
<circle cx="476.8" cy="149.5" r="2.45" stroke="#1515f0"/>
<circle cx="502.2" cy="166.5" r="2.45" stroke="#1b5a1b"/>
<circle cx="475.6" cy="130.0" r="2.45" stroke="#1b5a1b"/>
<circle cx="449.1" cy="161.7" r="2.45" stroke="#1515f0"/>
<circle cx="497.7" cy="157.7" r="2.45" stroke="#1b5a1b"/>
<circle cx="464.6" cy="152.7" r="2.45" stroke="#1b5a1b"/>
<circle cx="426.5" cy="125.8" r="2.45" stroke="#f01e28"/>
<circle cx="465.5" cy="129.6" r="2.45" stroke="#f01e28"/>
<circle cx="442.9" cy="140.6" r="2.45" stroke="#1515f0"/>
<circle cx="515.1" cy="151.3" r="2.45" stroke="#1515f0"/>
<circle cx="500.0" cy="133.3" r="2.45" stroke="#1515f0"/>
<circle cx="422.9" cy="130.8" r="2.45" stroke="#1b5a1b"/>
<circle cx="420.4" cy="115.1" r="2.45" stroke="#f01e28"/>
<circle cx="498.8" cy="139.1" r="2.45" stroke="#1b5a1b"/>
<circle cx="430.0" cy="139.5" r="2.45" stroke="#1b5a1b"/>
<circle cx="426.7" cy="132.3" r="2.45" stroke="#1515f0"/>
<circle cx="412.6" cy="123.7" r="2.45" stroke="#f01e28"/>
<circle cx="454.7" cy="129.5" r="2.45" stroke="#1b5a1b"/>
<circle cx="481.0" cy="132.3" r="2.45" stroke="#1b5a1b"/>
<circle cx="500.8" cy="159.0" r="2.45" stroke="#1b5a1b"/>
<circle cx="420.1" cy="131.3" r="2.45" stroke="#1b5a1b"/>
<circle cx="407.0" cy="134.2" r="2.45" stroke="#1515f0"/>
<circle cx="487.4" cy="130.8" r="2.45" stroke="#1b5a1b"/>
<circle cx="452.0" cy="127.9" r="2.45" stroke="#1515f0"/>
<circle cx="413.9" cy="138.8" r="2.45" stroke="#1b5a1b"/>
<circle cx="507.3" cy="151.0" r="2.45" stroke="#1515f0"/>
<circle cx="462.0" cy="143.4" r="2.45" stroke="#f01e28"/>
<circle cx="489.0" cy="141.5" r="2.45" stroke="#1b5a1b"/>
<circle cx="501.3" cy="157.8" r="2.45" stroke="#1b5a1b"/>
<circle cx="407.9" cy="121.3" r="2.45" stroke="#f01e28"/>
<circle cx="491.8" cy="149.7" r="2.45" stroke="#1515f0"/>
<circle cx="483.6" cy="126.2" r="2.45" stroke="#1515f0"/>
<circle cx="478.1" cy="123.1" r="2.45" stroke="#1b5a1b"/>
<circle cx="434.9" cy="152.2" r="2.45" stroke="#f01e28"/>
<circle cx="403.6" cy="125.8" r="2.45" stroke="#1515f0"/>
<circle cx="493.2" cy="131.5" r="2.45" stroke="#f01e28"/>
<circle cx="458.1" cy="155.8" r="2.45" stroke="#1b5a1b"/>
<circle cx="443.8" cy="142.6" r="2.45" stroke="#1b5a1b"/>
<circle cx="429.7" cy="116.0" r="2.45" stroke="#1b5a1b"/>
<circle cx="424.4" cy="136.6" r="2.45" stroke="#1b5a1b"/>
<circle cx="504.1" cy="166.7" r="2.45" stroke="#1b5a1b"/>
<circle cx="446.4" cy="119.6" r="2.45" stroke="#f01e28"/>
<circle cx="412.9" cy="133.3" r="2.45" stroke="#1b5a1b"/>
<circle cx="553.8" cy="116.7" r="2.45" stroke="#f01e28"/>
<circle cx="412.9" cy="128.7" r="2.45" stroke="#1b5a1b"/>
<circle cx="426.6" cy="143.2" r="2.45" stroke="#1515f0"/>
<circle cx="381.2" cy="94.9" r="2.45" stroke="#f01e28"/>
<circle cx="526.1" cy="128.7" r="2.45" stroke="#1b5a1b"/>
<circle cx="534.8" cy="129.7" r="2.45" stroke="#1515f0"/>
<circle cx="542.2" cy="176.9" r="2.45" stroke="#f01e28"/>
<circle cx="377.8" cy="95.6" r="2.45" stroke="#1b5a1b"/>
<circle cx="474.5" cy="123.2" r="2.45" stroke="#1515f0"/>
<circle cx="411.3" cy="114.2" r="2.45" stroke="#1b5a1b"/>
<circle cx="542.7" cy="122.0" r="2.45" stroke="#1b5a1b"/>
<circle cx="449.5" cy="121.9" r="2.45" stroke="#1515f0"/>
<circle cx="466.5" cy="67.0" r="2.45" stroke="#f01e28"/>
<circle cx="476.1" cy="109.2" r="2.45" stroke="#1b5a1b"/>
<circle cx="345.7" cy="121.5" r="2.45" stroke="#1515f0"/>
<circle cx="455.6" cy="118.8" r="2.45" stroke="#1b5a1b"/>
<circle cx="504.7" cy="147.7" r="2.45" stroke="#1515f0"/>
<circle cx="514.7" cy="201.5" r="2.45" stroke="#f01e28"/>
<circle cx="367.9" cy="138.0" r="2.45" stroke="#1515f0"/>
<circle cx="433.5" cy="154.8" r="2.45" stroke="#1515f0"/>
<circle cx="434.6" cy="163.7" r="2.45" stroke="#f01e28"/>
<circle cx="481.2" cy="161.2" r="2.45" stroke="#1515f0"/>
<circle cx="437.0" cy="179.3" r="2.45" stroke="#1b5a1b"/>
<circle cx="368.8" cy="105.2" r="2.45" stroke="#f01e28"/>
<circle cx="486.8" cy="110.2" r="2.45" stroke="#1515f0"/>
<circle cx="455.8" cy="184.9" r="2.45" stroke="#1515f0"/>
<circle cx="453.6" cy="144.7" r="2.45" stroke="#f01e28"/>
<circle cx="485.7" cy="136.5" r="2.45" stroke="#1b5a1b"/>
<circle cx="416.7" cy="128.0" r="2.45" stroke="#1515f0"/>
<circle cx="414.4" cy="119.6" r="2.45" stroke="#1515f0"/>
<circle cx="400.0" cy="162.6" r="2.45" stroke="#1b5a1b"/>
<circle cx="381.0" cy="151.4" r="2.45" stroke="#1b5a1b"/>
<circle cx="476.8" cy="125.5" r="2.45" stroke="#1b5a1b"/>
<circle cx="492.4" cy="129.8" r="2.45" stroke="#f01e28"/>
<circle cx="350.6" cy="105.2" r="2.45" stroke="#f01e28"/>
<circle cx="502.0" cy="141.0" r="2.45" stroke="#1b5a1b"/>
<circle cx="536.0" cy="154.1" r="2.45" stroke="#1b5a1b"/>
<circle cx="435.0" cy="160.0" r="2.45" stroke="#1515f0"/>
<circle cx="439.6" cy="136.4" r="2.45" stroke="#1515f0"/>
<circle cx="423.4" cy="162.6" r="2.45" stroke="#1b5a1b"/>
<circle cx="332.9" cy="129.9" r="2.45" stroke="#1515f0"/>
<circle cx="335.1" cy="143.7" r="2.45" stroke="#1b5a1b"/>
<circle cx="554.7" cy="212.1" r="2.45" stroke="#1b5a1b"/>
<circle cx="485.5" cy="119.8" r="2.45" stroke="#1b5a1b"/>
<circle cx="489.1" cy="130.9" r="2.45" stroke="#1b5a1b"/>
<circle cx="444.2" cy="160.8" r="2.45" stroke="#1515f0"/>
<circle cx="527.5" cy="147.0" r="2.45" stroke="#1b5a1b"/>
<circle cx="502.5" cy="146.6" r="2.45" stroke="#1515f0"/>
<circle cx="412.2" cy="157.0" r="2.45" stroke="#1515f0"/>
<circle cx="431.4" cy="99.4" r="2.45" stroke="#1b5a1b"/>
<circle cx="358.6" cy="147.0" r="2.45" stroke="#1515f0"/>
<circle cx="335.1" cy="101.1" r="2.45" stroke="#1b5a1b"/>
<circle cx="435.0" cy="133.3" r="2.45" stroke="#1515f0"/>
<circle cx="482.6" cy="100.0" r="2.45" stroke="#f01e28"/>
<circle cx="441.9" cy="103.5" r="2.45" stroke="#1b5a1b"/>
<circle cx="339.5" cy="103.5" r="2.45" stroke="#f01e28"/>
<circle cx="474.5" cy="165.7" r="2.45" stroke="#1515f0"/>
<circle cx="509.4" cy="90.4" r="2.45" stroke="#f01e28"/>
<circle cx="401.9" cy="121.5" r="2.45" stroke="#1515f0"/>
<circle cx="475.4" cy="87.1" r="2.45" stroke="#f01e28"/>
<circle cx="385.4" cy="160.4" r="2.45" stroke="#1b5a1b"/>
<circle cx="568.8" cy="112.3" r="2.45" stroke="#1b5a1b"/>
<circle cx="360.4" cy="49.1" r="2.45" stroke="#f01e28"/>
<circle cx="420.1" cy="151.4" r="2.45" stroke="#1515f0"/>
<circle cx="401.9" cy="99.6" r="2.45" stroke="#1515f0"/>
<circle cx="449.1" cy="153.7" r="2.45" stroke="#1b5a1b"/>
<circle cx="533.7" cy="138.7" r="2.45" stroke="#f01e28"/>
<circle cx="566.8" cy="194.5" r="2.45" stroke="#1b5a1b"/>
<circle cx="335.1" cy="109.4" r="2.45" stroke="#1b5a1b"/>
<circle cx="431.2" cy="150.1" r="2.45" stroke="#1b5a1b"/>
<circle cx="445.7" cy="139.4" r="2.45" stroke="#1b5a1b"/>
<circle cx="504.2" cy="197.7" r="2.45" stroke="#1515f0"/>
<circle cx="458.9" cy="143.3" r="2.45" stroke="#1515f0"/>
<circle cx="420.5" cy="111.2" r="2.45" stroke="#1b5a1b"/>
<circle cx="444.2" cy="198.8" r="2.45" stroke="#1b5a1b"/>
<circle cx="493.3" cy="98.9" r="2.45" stroke="#f01e28"/>
<circle cx="438.8" cy="128.0" r="2.45" stroke="#1515f0"/>
<circle cx="485.7" cy="116.4" r="2.45" stroke="#1b5a1b"/>
<circle cx="409.1" cy="100.0" r="2.45" stroke="#1b5a1b"/>
<circle cx="382.4" cy="143.7" r="2.45" stroke="#1b5a1b"/>
<circle cx="356.9" cy="159.2" r="2.45" stroke="#1b5a1b"/>
<circle cx="373.4" cy="65.4" r="2.45" stroke="#1b5a1b"/>
<circle cx="523.7" cy="134.3" r="2.45" stroke="#1b5a1b"/>
<circle cx="505.4" cy="129.1" r="2.45" stroke="#1b5a1b"/>
<circle cx="417.8" cy="171.5" r="2.45" stroke="#1515f0"/>
<circle cx="445.7" cy="162.6" r="2.45" stroke="#1b5a1b"/>
<circle cx="364.7" cy="110.0" r="2.45" stroke="#1b5a1b"/>
<circle cx="546.0" cy="172.6" r="2.45" stroke="#f01e28"/>
<circle cx="362.0" cy="144.7" r="2.45" stroke="#1b5a1b"/>
<circle cx="475.0" cy="168.8" r="2.45" stroke="#1515f0"/>
<circle cx="565.7" cy="174.3" r="2.45" stroke="#1515f0"/>
<circle cx="370.9" cy="154.8" r="2.45" stroke="#1b5a1b"/>
<circle cx="502.0" cy="166.2" r="2.45" stroke="#1515f0"/>
<circle cx="437.9" cy="160.4" r="2.45" stroke="#f01e28"/>
<circle cx="444.8" cy="100.0" r="2.45" stroke="#f01e28"/>
<circle cx="435.7" cy="171.5" r="2.45" stroke="#1515f0"/>
<circle cx="428.9" cy="102.8" r="2.45" stroke="#1b5a1b"/>
<circle cx="486.8" cy="165.5" r="2.45" stroke="#1b5a1b"/>
<circle cx="386.1" cy="93.1" r="2.45" stroke="#1b5a1b"/>
<circle cx="502.5" cy="111.5" r="2.45" stroke="#1b5a1b"/>
<circle cx="358.7" cy="126.2" r="2.45" stroke="#1515f0"/>
<circle cx="333.6" cy="138.8" r="2.45" stroke="#1515f0"/>
<circle cx="406.7" cy="150.3" r="2.45" stroke="#1515f0"/>
<circle cx="529.7" cy="180.2" r="2.45" stroke="#1b5a1b"/>
<circle cx="332.9" cy="121.2" r="2.45" stroke="#1515f0"/>
<circle cx="465.6" cy="140.0" r="2.45" stroke="#1515f0"/>
<circle cx="416.7" cy="110.4" r="2.45" stroke="#1b5a1b"/>
<circle cx="523.7" cy="161.5" r="2.45" stroke="#1b5a1b"/>
<circle cx="458.7" cy="114.2" r="2.45" stroke="#1b5a1b"/>
<circle cx="442.6" cy="127.2" r="2.45" stroke="#1515f0"/>
<circle cx="431.9" cy="138.6" r="2.45" stroke="#1b5a1b"/>
<circle cx="569.5" cy="104.4" r="2.45" stroke="#1b5a1b"/>
<circle cx="424.3" cy="107.3" r="2.45" stroke="#1b5a1b"/>
<circle cx="493.5" cy="160.0" r="2.45" stroke="#1515f0"/>
<circle cx="562.3" cy="129.5" r="2.45" stroke="#1b5a1b"/>
<circle cx="372.0" cy="143.7" r="2.45" stroke="#1515f0"/>
<circle cx="447.2" cy="148.6" r="2.45" stroke="#f01e28"/>
<circle cx="386.1" cy="82.6" r="2.45" stroke="#1515f0"/>
<circle cx="418.9" cy="167.1" r="2.45" stroke="#1515f0"/>
<circle cx="479.2" cy="79.5" r="2.45" stroke="#1515f0"/>
<circle cx="491.3" cy="155.5" r="2.45" stroke="#1515f0"/>
<circle cx="389.0" cy="98.9" r="2.45" stroke="#f01e28"/>
<circle cx="424.3" cy="124.1" r="2.45" stroke="#1b5a1b"/>
<circle cx="442.6" cy="137.9" r="2.45" stroke="#f01e28"/>
<circle cx="393.0" cy="125.6" r="2.45" stroke="#1515f0"/>
<circle cx="448.7" cy="156.2" r="2.45" stroke="#1515f0"/>
<circle cx="444.9" cy="134.1" r="2.45" stroke="#1515f0"/>
<circle cx="377.2" cy="169.7" r="2.45" stroke="#1b5a1b"/>
<circle cx="398.8" cy="159.2" r="2.45" stroke="#1b5a1b"/>
<circle cx="485.5" cy="178.7" r="2.45" stroke="#1515f0"/>
<circle cx="443.5" cy="144.3" r="2.45" stroke="#1b5a1b"/>
<circle cx="498.0" cy="185.2" r="2.45" stroke="#f01e28"/>
<circle cx="432.7" cy="108.9" r="2.45" stroke="#1b5a1b"/>
<circle cx="368.7" cy="150.3" r="2.45" stroke="#1b5a1b"/>
<circle cx="427.9" cy="155.9" r="2.45" stroke="#1b5a1b"/>
<circle cx="471.4" cy="97.8" r="2.45" stroke="#f01e28"/>
<circle cx="460.0" cy="134.4" r="2.45" stroke="#1515f0"/>
<circle cx="412.2" cy="160.4" r="2.45" stroke="#1b5a1b"/>
<circle cx="457.9" cy="134.8" r="2.45" stroke="#1b5a1b"/>
<circle cx="416.7" cy="151.6" r="2.45" stroke="#1515f0"/>
<circle cx="512.0" cy="76.4" r="2.45" stroke="#f01e28"/>
<circle cx="495.8" cy="105.9" r="2.45" stroke="#1b5a1b"/>
<circle cx="388.3" cy="136.6" r="2.45" stroke="#1515f0"/>
<circle cx="441.3" cy="174.9" r="2.45" stroke="#1b5a1b"/>
<circle cx="355.3" cy="147.0" r="2.45" stroke="#1b5a1b"/>
<circle cx="403.1" cy="109.4" r="2.45" stroke="#1b5a1b"/>
<circle cx="505.6" cy="87.1" r="2.45" stroke="#f01e28"/>
<circle cx="403.1" cy="133.6" r="2.45" stroke="#1515f0"/>
<circle cx="491.3" cy="151.0" r="2.45" stroke="#1b5a1b"/>
<circle cx="486.8" cy="128.7" r="2.45" stroke="#1515f0"/>
<circle cx="475.7" cy="133.3" r="2.45" stroke="#f01e28"/>
<circle cx="419.0" cy="137.9" r="2.45" stroke="#1515f0"/>
<circle cx="554.7" cy="145.6" r="2.45" stroke="#f01e28"/>
<circle cx="433.5" cy="102.8" r="2.45" stroke="#1515f0"/>
<circle cx="463.4" cy="159.0" r="2.45" stroke="#1515f0"/>
<circle cx="454.7" cy="155.9" r="2.45" stroke="#1b5a1b"/>
<circle cx="460.0" cy="121.0" r="2.45" stroke="#1515f0"/>
<circle cx="359.5" cy="143.4" r="2.45" stroke="#1515f0"/>
<circle cx="377.7" cy="118.5" r="2.45" stroke="#1515f0"/>
<circle cx="514.7" cy="176.9" r="2.45" stroke="#f01e28"/>
<circle cx="562.3" cy="98.9" r="2.45" stroke="#f01e28"/>
<circle cx="475.7" cy="156.7" r="2.45" stroke="#1515f0"/>
<circle cx="499.1" cy="147.0" r="2.45" stroke="#1b5a1b"/>
<circle cx="381.8" cy="96.5" r="2.45" stroke="#1b5a1b"/>
<circle cx="433.5" cy="119.6" r="2.45" stroke="#1b5a1b"/>
<circle cx="455.6" cy="140.9" r="2.45" stroke="#1515f0"/>
<circle cx="511.4" cy="161.1" r="2.45" stroke="#1515f0"/>
<circle cx="373.2" cy="151.4" r="2.45" stroke="#1b5a1b"/>
<circle cx="394.4" cy="154.8" r="2.45" stroke="#1b5a1b"/>
<circle cx="335.2" cy="147.4" r="2.45" stroke="#1b5a1b"/>
<circle cx="542.9" cy="143.1" r="2.45" stroke="#1515f0"/>
<circle cx="375.3" cy="104.1" r="2.45" stroke="#1b5a1b"/>
<circle cx="349.6" cy="120.9" r="2.45" stroke="#1515f0"/>
<circle cx="435.9" cy="54.3" r="2.45" stroke="#1b5a1b"/>
<circle cx="362.4" cy="132.7" r="2.45" stroke="#1515f0"/>
<circle cx="401.1" cy="145.8" r="2.45" stroke="#1515f0"/>
<circle cx="375.4" cy="157.0" r="2.45" stroke="#1b5a1b"/>
<circle cx="533.7" cy="172.9" r="2.45" stroke="#1515f0"/>
<circle cx="394.2" cy="142.2" r="2.45" stroke="#1515f0"/>
<circle cx="397.7" cy="161.5" r="2.45" stroke="#1b5a1b"/>
<circle cx="562.8" cy="122.3" r="2.45" stroke="#f01e28"/>
<circle cx="385.9" cy="157.5" r="2.45" stroke="#1515f0"/>
<circle cx="493.5" cy="110.8" r="2.45" stroke="#1b5a1b"/>
<circle cx="471.2" cy="122.1" r="2.45" stroke="#1b5a1b"/>
<circle cx="455.6" cy="133.3" r="2.45" stroke="#1515f0"/>
<circle cx="410.5" cy="139.2" r="2.45" stroke="#1b5a1b"/>
<circle cx="485.7" cy="123.1" r="2.45" stroke="#1515f0"/>
<circle cx="494.6" cy="105.2" r="2.45" stroke="#f01e28"/>
<circle cx="582.9" cy="132.4" r="2.45" stroke="#f01e28"/>
<circle cx="462.3" cy="141.1" r="2.45" stroke="#1b5a1b"/>
<circle cx="471.2" cy="160.1" r="2.45" stroke="#1b5a1b"/>
<circle cx="386.8" cy="117.4" r="2.45" stroke="#1515f0"/>
<circle cx="383.1" cy="122.7" r="2.45" stroke="#1515f0"/>
<circle cx="395.5" cy="147.0" r="2.45" stroke="#1515f0"/>
<circle cx="457.8" cy="154.5" r="2.45" stroke="#1b5a1b"/>
<circle cx="446.9" cy="151.4" r="2.45" stroke="#f01e28"/>
<circle cx="410.5" cy="124.4" r="2.45" stroke="#1515f0"/>
<circle cx="440.3" cy="154.7" r="2.45" stroke="#1b5a1b"/>
<circle cx="377.2" cy="90.2" r="2.45" stroke="#1b5a1b"/>
<circle cx="342.5" cy="107.5" r="2.45" stroke="#1b5a1b"/>
<circle cx="450.2" cy="155.9" r="2.45" stroke="#f01e28"/>
<circle cx="500.9" cy="177.6" r="2.45" stroke="#1b5a1b"/>
<circle cx="422.8" cy="106.6" r="2.45" stroke="#f01e28"/>
<circle cx="376.8" cy="132.1" r="2.45" stroke="#1515f0"/>
<circle cx="458.7" cy="128.7" r="2.45" stroke="#1515f0"/>
<circle cx="436.5" cy="121.9" r="2.45" stroke="#1b5a1b"/>
<circle cx="475.7" cy="116.5" r="2.45" stroke="#1b5a1b"/>
<circle cx="365.3" cy="147.0" r="2.45" stroke="#1b5a1b"/>
<circle cx="465.6" cy="147.8" r="2.45" stroke="#1b5a1b"/>
<circle cx="373.2" cy="106.7" r="2.45" stroke="#1b5a1b"/>
<circle cx="366.1" cy="124.2" r="2.45" stroke="#1515f0"/>
<circle cx="556.1" cy="176.7" r="2.45" stroke="#f01e28"/>
<circle cx="506.9" cy="153.7" r="2.45" stroke="#f01e28"/>
<circle cx="430.4" cy="162.3" r="2.45" stroke="#1b5a1b"/>
<circle cx="367.3" cy="95.6" r="2.45" stroke="#f01e28"/>
<circle cx="449.5" cy="158.5" r="2.45" stroke="#1b5a1b"/>
<circle cx="475.7" cy="152.3" r="2.45" stroke="#f01e28"/>
<circle cx="487.9" cy="160.0" r="2.45" stroke="#1b5a1b"/>
<circle cx="342.5" cy="128.9" r="2.45" stroke="#1515f0"/>
<circle cx="391.0" cy="164.2" r="2.45" stroke="#1b5a1b"/>
<circle cx="417.8" cy="174.9" r="2.45" stroke="#1b5a1b"/>
<circle cx="450.2" cy="168.2" r="2.45" stroke="#1b5a1b"/>
<circle cx="483.5" cy="148.9" r="2.45" stroke="#f01e28"/>
<circle cx="441.3" cy="145.8" r="2.45" stroke="#1515f0"/>
<circle cx="425.8" cy="96.5" r="2.45" stroke="#1b5a1b"/>
<circle cx="536.0" cy="148.5" r="2.45" stroke="#1b5a1b"/>
<circle cx="483.5" cy="127.7" r="2.45" stroke="#1b5a1b"/>
<circle cx="457.9" cy="165.4" r="2.45" stroke="#1515f0"/>
<circle cx="433.5" cy="169.3" r="2.45" stroke="#1515f0"/>
<circle cx="474.5" cy="140.0" r="2.45" stroke="#1515f0"/>
<circle cx="371.6" cy="85.3" r="2.45" stroke="#1b5a1b"/>
<circle cx="410.0" cy="163.7" r="2.45" stroke="#1b5a1b"/>
<circle cx="447.2" cy="128.0" r="2.45" stroke="#1515f0"/>
<circle cx="513.6" cy="172.4" r="2.45" stroke="#1515f0"/>
<circle cx="366.1" cy="118.8" r="2.45" stroke="#1515f0"/>
<circle cx="480.1" cy="137.7" r="2.45" stroke="#1b5a1b"/>
<circle cx="414.4" cy="148.6" r="2.45" stroke="#1b5a1b"/>
<circle cx="415.1" cy="159.3" r="2.45" stroke="#1515f0"/>
<circle cx="336.5" cy="98.3" r="2.45" stroke="#1515f0"/>
<circle cx="474.5" cy="154.5" r="2.45" stroke="#1b5a1b"/>
<circle cx="386.6" cy="151.4" r="2.45" stroke="#1515f0"/>
<circle cx="344.1" cy="144.7" r="2.45" stroke="#1b5a1b"/>
<circle cx="448.0" cy="173.8" r="2.45" stroke="#f01e28"/>
<circle cx="438.0" cy="124.9" r="2.45" stroke="#f01e28"/>
<circle cx="348.4" cy="95.4" r="2.45" stroke="#1b5a1b"/>
<circle cx="451.8" cy="115.7" r="2.45" stroke="#1515f0"/>
<circle cx="578.4" cy="128.9" r="2.45" stroke="#f01e28"/>
<circle cx="353.6" cy="115.9" r="2.45" stroke="#1515f0"/>
<circle cx="428.9" cy="116.5" r="2.45" stroke="#1b5a1b"/>
<circle cx="342.5" cy="136.3" r="2.45" stroke="#1515f0"/>
<circle cx="444.9" cy="101.2" r="2.45" stroke="#1b5a1b"/>
<circle cx="403.3" cy="157.0" r="2.45" stroke="#1515f0"/>
<circle cx="357.5" cy="151.0" r="2.45" stroke="#1515f0"/>
<circle cx="373.5" cy="127.1" r="2.45" stroke="#1515f0"/>
<circle cx="371.8" cy="120.3" r="2.45" stroke="#1515f0"/>
<circle cx="467.8" cy="154.5" r="2.45" stroke="#1515f0"/>
<circle cx="403.1" cy="143.7" r="2.45" stroke="#1515f0"/>
<circle cx="529.3" cy="175.8" r="2.45" stroke="#1b5a1b"/>
<circle cx="416.2" cy="96.7" r="2.45" stroke="#f01e28"/>
<circle cx="481.2" cy="146.7" r="2.45" stroke="#f01e28"/>
<circle cx="428.1" cy="127.2" r="2.45" stroke="#1b5a1b"/>
<circle cx="566.1" cy="142.4" r="2.45" stroke="#1b5a1b"/>
<circle cx="426.8" cy="160.4" r="2.45" stroke="#1515f0"/>
<circle cx="491.3" cy="165.5" r="2.45" stroke="#1515f0"/>
<circle cx="341.8" cy="118.8" r="2.45" stroke="#1515f0"/>
<circle cx="407.5" cy="144.4" r="2.45" stroke="#1515f0"/>
<circle cx="467.8" cy="115.4" r="2.45" stroke="#1515f0"/>
<circle cx="361.4" cy="106.0" r="2.45" stroke="#f01e28"/>
<circle cx="462.7" cy="179.2" r="2.45" stroke="#1b5a1b"/>
<circle cx="471.8" cy="99.4" r="2.45" stroke="#1b5a1b"/>
<circle cx="448.7" cy="140.2" r="2.45" stroke="#1b5a1b"/>
<circle cx="395.7" cy="106.0" r="2.45" stroke="#1515f0"/>
<circle cx="383.9" cy="127.1" r="2.45" stroke="#1515f0"/>
<circle cx="472.3" cy="104.2" r="2.45" stroke="#1515f0"/>
<circle cx="351.1" cy="130.4" r="2.45" stroke="#1515f0"/>
<circle cx="457.1" cy="122.6" r="2.45" stroke="#1515f0"/>
<circle cx="436.8" cy="151.4" r="2.45" stroke="#1515f0"/>
<circle cx="470.1" cy="126.6" r="2.45" stroke="#1515f0"/>
<circle cx="425.6" cy="147.0" r="2.45" stroke="#1515f0"/>
<circle cx="382.7" cy="103.8" r="2.45" stroke="#1515f0"/>
<circle cx="444.6" cy="170.4" r="2.45" stroke="#1515f0"/>
<circle cx="362.0" cy="117.8" r="2.45" stroke="#1515f0"/>
<circle cx="355.8" cy="125.6" r="2.45" stroke="#1515f0"/>
<circle cx="454.1" cy="145.5" r="2.45" stroke="#1b5a1b"/>
<circle cx="563.9" cy="113.0" r="2.45" stroke="#1b5a1b"/>
<circle cx="411.3" cy="104.3" r="2.45" stroke="#1b5a1b"/>
<circle cx="527.0" cy="151.5" r="2.45" stroke="#f01e28"/>
<circle cx="420.1" cy="173.8" r="2.45" stroke="#1b5a1b"/>
<circle cx="366.7" cy="80.4" r="2.45" stroke="#1b5a1b"/>
<circle cx="446.4" cy="112.7" r="2.45" stroke="#1b5a1b"/>
<circle cx="446.4" cy="153.1" r="2.45" stroke="#1515f0"/>
<circle cx="460.0" cy="172.5" r="2.45" stroke="#1b5a1b"/>
<circle cx="406.3" cy="120.8" r="2.45" stroke="#1515f0"/>
<circle cx="427.4" cy="130.2" r="2.45" stroke="#f01e28"/>
<circle cx="426.6" cy="166.1" r="2.45" stroke="#1b5a1b"/>
<circle cx="508.7" cy="128.7" r="2.45" stroke="#1515f0"/>
<circle cx="433.5" cy="145.8" r="2.45" stroke="#1515f0"/>
<circle cx="448.7" cy="105.8" r="2.45" stroke="#1b5a1b"/>
<circle cx="456.7" cy="93.8" r="2.45" stroke="#1b5a1b"/>
<circle cx="453.1" cy="98.3" r="2.45" stroke="#f01e28"/>
<circle cx="440.3" cy="163.1" r="2.45" stroke="#1515f0"/>
<circle cx="540.0" cy="119.0" r="2.45" stroke="#1b5a1b"/>
<circle cx="417.4" cy="102.8" r="2.45" stroke="#1b5a1b"/>
<circle cx="522.6" cy="124.2" r="2.45" stroke="#f01e28"/>
<circle cx="511.4" cy="107.7" r="2.45" stroke="#1b5a1b"/>
<circle cx="455.8" cy="162.6" r="2.45" stroke="#1515f0"/>
<circle cx="421.3" cy="131.0" r="2.45" stroke="#1b5a1b"/>
<circle cx="441.1" cy="117.3" r="2.45" stroke="#f01e28"/>
<circle cx="453.3" cy="121.1" r="2.45" stroke="#1515f0"/>
<circle cx="419.7" cy="118.8" r="2.45" stroke="#1b5a1b"/>
<circle cx="470.1" cy="118.8" r="2.45" stroke="#1515f0"/>
<circle cx="480.1" cy="132.2" r="2.45" stroke="#1b5a1b"/>
<circle cx="441.1" cy="110.4" r="2.45" stroke="#1b5a1b"/>
<circle cx="501.3" cy="155.5" r="2.45" stroke="#1515f0"/>
<circle cx="507.4" cy="179.6" r="2.45" stroke="#1515f0"/>
<circle cx="494.6" cy="142.5" r="2.45" stroke="#f01e28"/>
<circle cx="487.9" cy="143.2" r="2.45" stroke="#f01e28"/>
<circle cx="501.3" cy="165.5" r="2.45" stroke="#1b5a1b"/>
<circle cx="415.6" cy="154.8" r="2.45" stroke="#1515f0"/>
<circle cx="463.4" cy="152.3" r="2.45" stroke="#f01e28"/>
<circle cx="421.3" cy="140.2" r="2.45" stroke="#1515f0"/>
<circle cx="436.8" cy="56.1" r="2.45" stroke="#f01e28"/>
<circle cx="460.0" cy="148.9" r="2.45" stroke="#1b5a1b"/>
<circle cx="522.6" cy="103.7" r="2.45" stroke="#f01e28"/>
<circle cx="523.0" cy="132.3" r="2.45" stroke="#f01e28"/>
<circle cx="372.8" cy="143.7" r="2.45" stroke="#f01e28"/>
<circle cx="355.8" cy="134.2" r="2.45" stroke="#1515f0"/>
<circle cx="498.0" cy="155.5" r="2.45" stroke="#1b5a1b"/>
<circle cx="409.0" cy="131.8" r="2.45" stroke="#1515f0"/>
<circle cx="431.2" cy="165.9" r="2.45" stroke="#1b5a1b"/>
<circle cx="442.4" cy="158.1" r="2.45" stroke="#1515f0"/>
<circle cx="538.6" cy="139.7" r="2.45" stroke="#1515f0"/>
<circle cx="434.2" cy="113.5" r="2.45" stroke="#1b5a1b"/>
<circle cx="551.6" cy="155.0" r="2.45" stroke="#1515f0"/>
<circle cx="479.9" cy="87.1" r="2.45" stroke="#1b5a1b"/>
<circle cx="457.1" cy="145.5" r="2.45" stroke="#1515f0"/>
<circle cx="372.8" cy="135.7" r="2.45" stroke="#1515f0"/>
<circle cx="459.0" cy="103.5" r="2.45" stroke="#1515f0"/>
<circle cx="400.1" cy="108.2" r="2.45" stroke="#1b5a1b"/>
<circle cx="438.8" cy="109.6" r="2.45" stroke="#f01e28"/>
<circle cx="531.5" cy="144.3" r="2.45" stroke="#1515f0"/>
<circle cx="473.4" cy="144.4" r="2.45" stroke="#1515f0"/>
<circle cx="367.6" cy="155.9" r="2.45" stroke="#1b5a1b"/>
<circle cx="408.9" cy="154.8" r="2.45" stroke="#1515f0"/>
<circle cx="454.8" cy="128.7" r="2.45" stroke="#1515f0"/>
<circle cx="399.3" cy="77.0" r="2.45" stroke="#1b5a1b"/>
<circle cx="386.8" cy="123.0" r="2.45" stroke="#1515f0"/>
<circle cx="423.5" cy="134.1" r="2.45" stroke="#1b5a1b"/>
<circle cx="518.5" cy="189.9" r="2.45" stroke="#1515f0"/>
<circle cx="355.5" cy="104.5" r="2.45" stroke="#1b5a1b"/>
<circle cx="454.1" cy="156.2" r="2.45" stroke="#1515f0"/>
<circle cx="412.2" cy="173.3" r="2.45" stroke="#1b5a1b"/>
<circle cx="470.1" cy="145.6" r="2.45" stroke="#1b5a1b"/>
<circle cx="502.5" cy="162.2" r="2.45" stroke="#1b5a1b"/>
<circle cx="541.5" cy="124.3" r="2.45" stroke="#1b5a1b"/>
<circle cx="495.8" cy="184.0" r="2.45" stroke="#1515f0"/>
<circle cx="557.8" cy="135.0" r="2.45" stroke="#1515f0"/>
<circle cx="463.2" cy="180.1" r="2.45" stroke="#f01e28"/>
<circle cx="394.5" cy="118.8" r="2.45" stroke="#1515f0"/>
<circle cx="479.0" cy="116.5" r="2.45" stroke="#1b5a1b"/>
<circle cx="420.1" cy="159.2" r="2.45" stroke="#1515f0"/>
<circle cx="386.8" cy="99.4" r="2.45" stroke="#1515f0"/>
<circle cx="515.4" cy="104.1" r="2.45" stroke="#f01e28"/>
<circle cx="440.3" cy="123.4" r="2.45" stroke="#1515f0"/>
<circle cx="335.1" cy="114.4" r="2.45" stroke="#1515f0"/>
<circle cx="419.0" cy="157.0" r="2.45" stroke="#1b5a1b"/>
<circle cx="429.0" cy="171.5" r="2.45" stroke="#1b5a1b"/>
<circle cx="350.8" cy="143.6" r="2.45" stroke="#1b5a1b"/>
<circle cx="486.8" cy="143.2" r="2.45" stroke="#1b5a1b"/>
<circle cx="480.1" cy="122.1" r="2.45" stroke="#1515f0"/>
<circle cx="356.1" cy="108.6" r="2.45" stroke="#1515f0"/>
<circle cx="413.4" cy="151.4" r="2.45" stroke="#1b5a1b"/>
<circle cx="524.8" cy="105.2" r="2.45" stroke="#f01e28"/>
<circle cx="509.2" cy="179.1" r="2.45" stroke="#1515f0"/>
<circle cx="455.8" cy="171.5" r="2.45" stroke="#f01e28"/>
<circle cx="505.1" cy="121.3" r="2.45" stroke="#f01e28"/>
<circle cx="490.2" cy="135.4" r="2.45" stroke="#1b5a1b"/>
<circle cx="385.0" cy="18.8" r="2.45" stroke="#1b5a1b"/>
<circle cx="467.2" cy="178.1" r="2.45" stroke="#1b5a1b"/>
<circle cx="347.7" cy="109.4" r="2.45" stroke="#1515f0"/>
<circle cx="429.4" cy="179.3" r="2.45" stroke="#1b5a1b"/>
<circle cx="498.2" cy="100.0" r="2.45" stroke="#f01e28"/>
<circle cx="509.2" cy="160.0" r="2.45" stroke="#1515f0"/>
<circle cx="405.3" cy="115.3" r="2.45" stroke="#f01e28"/>
<circle cx="386.8" cy="145.1" r="2.45" stroke="#1b5a1b"/>
<circle cx="437.9" cy="149.2" r="2.45" stroke="#1b5a1b"/>
<circle cx="466.7" cy="104.2" r="2.45" stroke="#1515f0"/>
<circle cx="424.3" cy="115.7" r="2.45" stroke="#1b5a1b"/>
<circle cx="523.9" cy="117.1" r="2.45" stroke="#1b5a1b"/>
<circle cx="464.5" cy="123.2" r="2.45" stroke="#1b5a1b"/>
<circle cx="496.9" cy="142.1" r="2.45" stroke="#1515f0"/>
<circle cx="465.8" cy="206.0" r="2.45" stroke="#f01e28"/>
<circle cx="411.3" cy="98.3" r="2.45" stroke="#1b5a1b"/>
<circle cx="504.7" cy="182.0" r="2.45" stroke="#1515f0"/>
<circle cx="541.1" cy="157.9" r="2.45" stroke="#f01e28"/>
<circle cx="456.5" cy="177.1" r="2.45" stroke="#1b5a1b"/>
<circle cx="411.1" cy="147.0" r="2.45" stroke="#1515f0"/>
<circle cx="516.3" cy="143.7" r="2.45" stroke="#1515f0"/>
<circle cx="426.9" cy="108.9" r="2.45" stroke="#1515f0"/>
<circle cx="509.2" cy="209.9" r="2.45" stroke="#f01e28"/>
<circle cx="431.9" cy="132.5" r="2.45" stroke="#1515f0"/>
<circle cx="375.4" cy="147.0" r="2.45" stroke="#1b5a1b"/>
</g>
<line x1="322.7" y1="119.30" x2="592.7" y2="119.30" stroke="#222" stroke-width="1.2"/>
<rect x="322.7" y="1.0" width="270.0" height="235.4" fill="none" stroke="#000" stroke-width="1.6"/>
<line x1="322.7" y1="206.30" x2="327.7" y2="206.30" stroke="#000" stroke-width="1.4"/>
<line x1="322.7" y1="162.73" x2="327.7" y2="162.73" stroke="#000" stroke-width="1.4"/>
<line x1="322.7" y1="119.15" x2="327.7" y2="119.15" stroke="#000" stroke-width="1.4"/>
<line x1="322.7" y1="75.58" x2="327.7" y2="75.58" stroke="#000" stroke-width="1.4"/>
<line x1="322.7" y1="32.00" x2="327.7" y2="32.00" stroke="#000" stroke-width="1.4"/>
<line x1="332.60" y1="236.4" x2="332.60" y2="229.9" stroke="#000" stroke-width="1.4"/>
<line x1="396.60" y1="236.4" x2="396.60" y2="233.20000000000002" stroke="#000" stroke-width="1.4"/>
<line x1="434.04" y1="236.4" x2="434.04" y2="233.20000000000002" stroke="#000" stroke-width="1.4"/>
<line x1="460.60" y1="236.4" x2="460.60" y2="233.20000000000002" stroke="#000" stroke-width="1.4"/>
<line x1="481.20" y1="236.4" x2="481.20" y2="233.20000000000002" stroke="#000" stroke-width="1.4"/>
<line x1="498.03" y1="236.4" x2="498.03" y2="233.20000000000002" stroke="#000" stroke-width="1.4"/>
<line x1="512.27" y1="236.4" x2="512.27" y2="233.20000000000002" stroke="#000" stroke-width="1.4"/>
<line x1="524.60" y1="236.4" x2="524.60" y2="233.20000000000002" stroke="#000" stroke-width="1.4"/>
<line x1="535.47" y1="236.4" x2="535.47" y2="233.20000000000002" stroke="#000" stroke-width="1.4"/>
<line x1="545.20" y1="236.4" x2="545.20" y2="229.9" stroke="#000" stroke-width="1.4"/>
<text x="588.4" y="22.9" text-anchor="end" font-family="Liberation Sans" font-weight="bold" font-size="20.5">b</text>
<line x1="592.7" y1="62.50" x2="587.7" y2="62.50" stroke="#000" stroke-width="1.4"/>
<text transform="translate(608.5,62.50) rotate(-90)" text-anchor="middle" font-family="Liberation Sans" font-size="13.4">Underest.</text>
<line x1="592.7" y1="175.80" x2="587.7" y2="175.80" stroke="#000" stroke-width="1.4"/>
<text transform="translate(608.5,175.80) rotate(-90)" text-anchor="middle" font-family="Liberation Sans" font-size="13.4">Overest.</text>
<g stroke-width="1.5" fill="#000" fill-opacity="0.35">
<circle cx="111.1" cy="389.3" r="2.45" stroke="#1b5a1b"/>
<circle cx="80.3" cy="369.0" r="2.45" stroke="#1b5a1b"/>
<circle cx="55.4" cy="401.8" r="2.45" stroke="#1b5a1b"/>
<circle cx="63.4" cy="393.5" r="2.45" stroke="#1b5a1b"/>
<circle cx="136.3" cy="374.7" r="2.45" stroke="#1b5a1b"/>
<circle cx="99.5" cy="372.6" r="2.45" stroke="#1b5a1b"/>
<circle cx="56.8" cy="388.8" r="2.45" stroke="#1b5a1b"/>
<circle cx="83.7" cy="397.3" r="2.45" stroke="#1b5a1b"/>
<circle cx="97.7" cy="380.0" r="2.45" stroke="#1b5a1b"/>
<circle cx="65.6" cy="384.9" r="2.45" stroke="#1b5a1b"/>
<circle cx="54.9" cy="366.1" r="2.45" stroke="#1b5a1b"/>
<circle cx="71.6" cy="365.2" r="2.45" stroke="#1b5a1b"/>
<circle cx="59.6" cy="388.3" r="2.45" stroke="#1b5a1b"/>
<circle cx="51.8" cy="379.0" r="2.45" stroke="#1b5a1b"/>
<circle cx="59.3" cy="378.1" r="2.45" stroke="#1515f0"/>
<circle cx="78.5" cy="388.1" r="2.45" stroke="#1b5a1b"/>
<circle cx="96.7" cy="382.8" r="2.45" stroke="#1b5a1b"/>
<circle cx="93.5" cy="375.5" r="2.45" stroke="#1b5a1b"/>
<circle cx="82.3" cy="388.1" r="2.45" stroke="#1b5a1b"/>
<circle cx="122.8" cy="393.1" r="2.45" stroke="#1b5a1b"/>
<circle cx="112.0" cy="367.5" r="2.45" stroke="#1b5a1b"/>
<circle cx="101.8" cy="393.6" r="2.45" stroke="#1b5a1b"/>
<circle cx="80.4" cy="369.9" r="2.45" stroke="#1b5a1b"/>
<circle cx="97.0" cy="400.9" r="2.45" stroke="#1b5a1b"/>
<circle cx="78.2" cy="389.2" r="2.45" stroke="#1b5a1b"/>
<circle cx="110.7" cy="379.7" r="2.45" stroke="#1b5a1b"/>
<circle cx="58.9" cy="376.5" r="2.45" stroke="#1b5a1b"/>
<circle cx="75.9" cy="383.5" r="2.45" stroke="#1b5a1b"/>
<circle cx="124.4" cy="398.8" r="2.45" stroke="#1b5a1b"/>
<circle cx="82.9" cy="384.9" r="2.45" stroke="#1b5a1b"/>
<circle cx="98.1" cy="403.2" r="2.45" stroke="#1b5a1b"/>
<circle cx="51.5" cy="366.6" r="2.45" stroke="#1b5a1b"/>
<circle cx="104.5" cy="373.7" r="2.45" stroke="#1b5a1b"/>
<circle cx="95.6" cy="375.7" r="2.45" stroke="#1b5a1b"/>
<circle cx="91.2" cy="389.4" r="2.45" stroke="#1b5a1b"/>
<circle cx="71.8" cy="395.5" r="2.45" stroke="#1b5a1b"/>
<circle cx="94.2" cy="387.4" r="2.45" stroke="#1b5a1b"/>
<circle cx="95.7" cy="378.7" r="2.45" stroke="#1b5a1b"/>
<circle cx="95.9" cy="387.6" r="2.45" stroke="#1b5a1b"/>
<circle cx="126.5" cy="379.7" r="2.45" stroke="#1515f0"/>
<circle cx="126.0" cy="373.8" r="2.45" stroke="#1b5a1b"/>
<circle cx="90.0" cy="399.6" r="2.45" stroke="#1b5a1b"/>
<circle cx="129.7" cy="373.1" r="2.45" stroke="#1b5a1b"/>
<circle cx="82.6" cy="365.8" r="2.45" stroke="#1b5a1b"/>
<circle cx="58.1" cy="365.8" r="2.45" stroke="#1b5a1b"/>
<circle cx="59.2" cy="371.9" r="2.45" stroke="#1b5a1b"/>
<circle cx="99.0" cy="387.1" r="2.45" stroke="#1b5a1b"/>
<circle cx="73.4" cy="391.0" r="2.45" stroke="#1b5a1b"/>
<circle cx="60.5" cy="370.7" r="2.45" stroke="#1b5a1b"/>
<circle cx="87.0" cy="389.6" r="2.45" stroke="#1b5a1b"/>
<circle cx="51.6" cy="398.9" r="2.45" stroke="#1b5a1b"/>
<circle cx="129.9" cy="403.1" r="2.45" stroke="#1515f0"/>
<circle cx="54.4" cy="386.4" r="2.45" stroke="#1515f0"/>
<circle cx="113.6" cy="392.1" r="2.45" stroke="#1b5a1b"/>
<circle cx="62.9" cy="373.0" r="2.45" stroke="#1b5a1b"/>
<circle cx="131.3" cy="399.6" r="2.45" stroke="#1b5a1b"/>
<circle cx="118.1" cy="374.5" r="2.45" stroke="#1b5a1b"/>
<circle cx="113.4" cy="390.8" r="2.45" stroke="#1b5a1b"/>
<circle cx="54.7" cy="395.2" r="2.45" stroke="#1b5a1b"/>
<circle cx="92.5" cy="374.5" r="2.45" stroke="#1b5a1b"/>
<circle cx="127.4" cy="398.0" r="2.45" stroke="#f01e28"/>
<circle cx="131.7" cy="387.5" r="2.45" stroke="#1b5a1b"/>
<circle cx="58.9" cy="387.8" r="2.45" stroke="#1b5a1b"/>
<circle cx="86.9" cy="400.4" r="2.45" stroke="#1b5a1b"/>
<circle cx="101.4" cy="369.3" r="2.45" stroke="#1b5a1b"/>
<circle cx="106.9" cy="394.9" r="2.45" stroke="#1b5a1b"/>
<circle cx="51.9" cy="384.7" r="2.45" stroke="#1b5a1b"/>
<circle cx="95.5" cy="406.5" r="2.45" stroke="#1b5a1b"/>
<circle cx="82.3" cy="395.6" r="2.45" stroke="#1b5a1b"/>
<circle cx="61.2" cy="367.5" r="2.45" stroke="#1515f0"/>
<circle cx="86.3" cy="388.1" r="2.45" stroke="#1515f0"/>
<circle cx="55.5" cy="377.1" r="2.45" stroke="#1b5a1b"/>
<circle cx="92.3" cy="387.8" r="2.45" stroke="#f01e28"/>
<circle cx="99.1" cy="380.5" r="2.45" stroke="#1b5a1b"/>
<circle cx="87.6" cy="384.4" r="2.45" stroke="#1b5a1b"/>
<circle cx="60.2" cy="367.1" r="2.45" stroke="#1515f0"/>
<circle cx="108.7" cy="371.3" r="2.45" stroke="#1b5a1b"/>
<circle cx="85.9" cy="378.0" r="2.45" stroke="#1b5a1b"/>
<circle cx="51.8" cy="397.8" r="2.45" stroke="#1515f0"/>
<circle cx="57.6" cy="377.2" r="2.45" stroke="#1b5a1b"/>
<circle cx="64.9" cy="392.7" r="2.45" stroke="#1b5a1b"/>
<circle cx="123.9" cy="404.4" r="2.45" stroke="#1b5a1b"/>
<circle cx="54.4" cy="371.1" r="2.45" stroke="#1b5a1b"/>
<circle cx="83.5" cy="379.3" r="2.45" stroke="#1b5a1b"/>
<circle cx="128.5" cy="384.0" r="2.45" stroke="#1b5a1b"/>
<circle cx="53.4" cy="387.0" r="2.45" stroke="#1b5a1b"/>
<circle cx="60.4" cy="398.0" r="2.45" stroke="#1b5a1b"/>
<circle cx="73.4" cy="369.2" r="2.45" stroke="#1b5a1b"/>
<circle cx="112.1" cy="397.2" r="2.45" stroke="#1b5a1b"/>
<circle cx="71.2" cy="362.3" r="2.45" stroke="#1b5a1b"/>
<circle cx="103.6" cy="402.8" r="2.45" stroke="#1b5a1b"/>
<circle cx="108.2" cy="391.5" r="2.45" stroke="#1b5a1b"/>
<circle cx="103.0" cy="371.2" r="2.45" stroke="#1b5a1b"/>
<circle cx="73.1" cy="401.6" r="2.45" stroke="#1b5a1b"/>
<circle cx="118.9" cy="383.0" r="2.45" stroke="#1b5a1b"/>
<circle cx="104.7" cy="382.6" r="2.45" stroke="#1b5a1b"/>
<circle cx="101.4" cy="400.0" r="2.45" stroke="#1b5a1b"/>
<circle cx="90.2" cy="366.4" r="2.45" stroke="#1b5a1b"/>
<circle cx="71.5" cy="371.5" r="2.45" stroke="#1b5a1b"/>
<circle cx="119.9" cy="393.4" r="2.45" stroke="#1b5a1b"/>
<circle cx="87.9" cy="399.1" r="2.45" stroke="#1b5a1b"/>
<circle cx="142.8" cy="373.0" r="2.45" stroke="#1b5a1b"/>
<circle cx="98.2" cy="394.9" r="2.45" stroke="#1b5a1b"/>
<circle cx="118.4" cy="387.0" r="2.45" stroke="#1b5a1b"/>
<circle cx="68.2" cy="382.7" r="2.45" stroke="#1b5a1b"/>
<circle cx="67.2" cy="383.3" r="2.45" stroke="#1b5a1b"/>
<circle cx="67.2" cy="386.2" r="2.45" stroke="#1b5a1b"/>
<circle cx="70.7" cy="372.7" r="2.45" stroke="#1b5a1b"/>
<circle cx="124.2" cy="396.3" r="2.45" stroke="#1b5a1b"/>
<circle cx="104.1" cy="391.0" r="2.45" stroke="#1b5a1b"/>
<circle cx="56.0" cy="395.4" r="2.45" stroke="#1b5a1b"/>
<circle cx="102.9" cy="380.3" r="2.45" stroke="#1515f0"/>
<circle cx="128.2" cy="404.4" r="2.45" stroke="#1b5a1b"/>
<circle cx="91.6" cy="386.9" r="2.45" stroke="#1b5a1b"/>
<circle cx="55.1" cy="365.7" r="2.45" stroke="#1b5a1b"/>
<circle cx="140.3" cy="398.1" r="2.45" stroke="#1b5a1b"/>
<circle cx="110.8" cy="385.5" r="2.45" stroke="#1b5a1b"/>
<circle cx="93.8" cy="372.5" r="2.45" stroke="#f01e28"/>
<circle cx="62.0" cy="396.2" r="2.45" stroke="#1b5a1b"/>
<circle cx="75.6" cy="362.6" r="2.45" stroke="#1515f0"/>
<circle cx="127.4" cy="388.5" r="2.45" stroke="#1b5a1b"/>
<circle cx="108.4" cy="391.9" r="2.45" stroke="#1515f0"/>
<circle cx="52.4" cy="387.9" r="2.45" stroke="#1515f0"/>
<circle cx="129.5" cy="377.9" r="2.45" stroke="#1b5a1b"/>
<circle cx="109.8" cy="376.0" r="2.45" stroke="#1515f0"/>
<circle cx="80.8" cy="397.7" r="2.45" stroke="#1515f0"/>
<circle cx="123.2" cy="390.6" r="2.45" stroke="#1b5a1b"/>
<circle cx="93.7" cy="402.4" r="2.45" stroke="#1b5a1b"/>
<circle cx="119.1" cy="373.8" r="2.45" stroke="#1515f0"/>
<circle cx="66.9" cy="374.9" r="2.45" stroke="#1b5a1b"/>
<circle cx="59.0" cy="380.8" r="2.45" stroke="#1515f0"/>
<circle cx="56.9" cy="376.5" r="2.45" stroke="#1b5a1b"/>
<circle cx="58.5" cy="394.1" r="2.45" stroke="#1b5a1b"/>
<circle cx="142.7" cy="398.9" r="2.45" stroke="#1b5a1b"/>
<circle cx="107.1" cy="397.5" r="2.45" stroke="#1b5a1b"/>
<circle cx="105.4" cy="375.7" r="2.45" stroke="#1515f0"/>
<circle cx="77.6" cy="380.5" r="2.45" stroke="#1b5a1b"/>
<circle cx="73.8" cy="394.6" r="2.45" stroke="#1b5a1b"/>
<circle cx="102.3" cy="383.6" r="2.45" stroke="#1515f0"/>
<circle cx="76.9" cy="384.3" r="2.45" stroke="#1b5a1b"/>
<circle cx="81.1" cy="386.9" r="2.45" stroke="#1b5a1b"/>
<circle cx="63.7" cy="386.8" r="2.45" stroke="#1b5a1b"/>
<circle cx="66.3" cy="377.6" r="2.45" stroke="#1b5a1b"/>
<circle cx="117.1" cy="393.9" r="2.45" stroke="#1b5a1b"/>
<circle cx="75.5" cy="378.8" r="2.45" stroke="#1b5a1b"/>
<circle cx="69.8" cy="384.0" r="2.45" stroke="#1b5a1b"/>
<circle cx="115.9" cy="408.7" r="2.45" stroke="#1b5a1b"/>
<circle cx="97.1" cy="401.6" r="2.45" stroke="#1b5a1b"/>
<circle cx="96.5" cy="372.4" r="2.45" stroke="#1b5a1b"/>
<circle cx="103.4" cy="381.1" r="2.45" stroke="#1b5a1b"/>
<circle cx="129.8" cy="399.4" r="2.45" stroke="#1b5a1b"/>
<circle cx="66.9" cy="373.6" r="2.45" stroke="#1b5a1b"/>
<circle cx="128.4" cy="392.8" r="2.45" stroke="#f01e28"/>
<circle cx="57.4" cy="388.3" r="2.45" stroke="#1b5a1b"/>
<circle cx="74.3" cy="376.5" r="2.45" stroke="#f01e28"/>
<circle cx="68.6" cy="396.3" r="2.45" stroke="#1515f0"/>
<circle cx="102.0" cy="386.4" r="2.45" stroke="#1b5a1b"/>
<circle cx="120.2" cy="374.6" r="2.45" stroke="#1b5a1b"/>
<circle cx="80.3" cy="371.9" r="2.45" stroke="#1b5a1b"/>
<circle cx="81.9" cy="377.1" r="2.45" stroke="#1515f0"/>
<circle cx="147.9" cy="386.0" r="2.45" stroke="#1b5a1b"/>
<circle cx="84.8" cy="375.4" r="2.45" stroke="#1b5a1b"/>
<circle cx="96.4" cy="380.0" r="2.45" stroke="#1b5a1b"/>
<circle cx="57.0" cy="382.2" r="2.45" stroke="#1b5a1b"/>
<circle cx="69.5" cy="398.4" r="2.45" stroke="#1b5a1b"/>
<circle cx="111.7" cy="379.2" r="2.45" stroke="#1b5a1b"/>
<circle cx="53.9" cy="379.3" r="2.45" stroke="#1b5a1b"/>
<circle cx="81.5" cy="381.7" r="2.45" stroke="#1b5a1b"/>
<circle cx="106.8" cy="384.2" r="2.45" stroke="#1b5a1b"/>
<circle cx="83.1" cy="373.2" r="2.45" stroke="#1b5a1b"/>
<circle cx="121.3" cy="387.3" r="2.45" stroke="#1b5a1b"/>
<circle cx="48.9" cy="387.3" r="2.45" stroke="#1b5a1b"/>
<circle cx="59.8" cy="381.4" r="2.45" stroke="#1515f0"/>
<circle cx="49.0" cy="383.3" r="2.45" stroke="#f01e28"/>
<circle cx="127.9" cy="389.5" r="2.45" stroke="#1b5a1b"/>
<circle cx="57.1" cy="391.6" r="2.45" stroke="#1b5a1b"/>
<circle cx="90.4" cy="402.9" r="2.45" stroke="#1515f0"/>
<circle cx="89.4" cy="381.3" r="2.45" stroke="#1b5a1b"/>
<circle cx="83.8" cy="377.0" r="2.45" stroke="#1b5a1b"/>
<circle cx="65.7" cy="378.5" r="2.45" stroke="#f01e28"/>
<circle cx="67.9" cy="378.2" r="2.45" stroke="#1515f0"/>
<circle cx="56.9" cy="375.9" r="2.45" stroke="#1b5a1b"/>
<circle cx="50.7" cy="389.2" r="2.45" stroke="#1b5a1b"/>
<circle cx="70.6" cy="375.2" r="2.45" stroke="#1b5a1b"/>
<circle cx="128.2" cy="390.5" r="2.45" stroke="#1b5a1b"/>
<circle cx="49.4" cy="394.1" r="2.45" stroke="#1b5a1b"/>
<circle cx="125.2" cy="375.3" r="2.45" stroke="#1b5a1b"/>
<circle cx="111.9" cy="403.0" r="2.45" stroke="#1b5a1b"/>
<circle cx="83.8" cy="390.4" r="2.45" stroke="#1b5a1b"/>
<circle cx="94.6" cy="389.6" r="2.45" stroke="#1b5a1b"/>
<circle cx="130.0" cy="380.3" r="2.45" stroke="#1b5a1b"/>
<circle cx="79.3" cy="377.9" r="2.45" stroke="#1515f0"/>
<circle cx="87.2" cy="389.6" r="2.45" stroke="#1b5a1b"/>
<circle cx="113.4" cy="400.0" r="2.45" stroke="#1b5a1b"/>
<circle cx="130.3" cy="386.0" r="2.45" stroke="#f01e28"/>
<circle cx="70.2" cy="379.2" r="2.45" stroke="#1b5a1b"/>
<circle cx="100.0" cy="381.2" r="2.45" stroke="#1b5a1b"/>
<circle cx="106.5" cy="401.6" r="2.45" stroke="#1b5a1b"/>
<circle cx="110.4" cy="373.0" r="2.45" stroke="#1b5a1b"/>
<circle cx="69.3" cy="400.5" r="2.45" stroke="#1b5a1b"/>
<circle cx="92.0" cy="393.7" r="2.45" stroke="#1b5a1b"/>
<circle cx="93.6" cy="371.5" r="2.45" stroke="#1b5a1b"/>
<circle cx="95.9" cy="367.7" r="2.45" stroke="#1b5a1b"/>
<circle cx="58.4" cy="384.5" r="2.45" stroke="#1b5a1b"/>
<circle cx="94.7" cy="382.3" r="2.45" stroke="#f01e28"/>
<circle cx="94.8" cy="396.4" r="2.45" stroke="#1b5a1b"/>
<circle cx="86.2" cy="368.2" r="2.45" stroke="#1b5a1b"/>
<circle cx="111.9" cy="381.0" r="2.45" stroke="#1b5a1b"/>
<circle cx="108.7" cy="378.7" r="2.45" stroke="#1b5a1b"/>
<circle cx="68.6" cy="393.0" r="2.45" stroke="#1b5a1b"/>
<circle cx="142.3" cy="402.2" r="2.45" stroke="#1b5a1b"/>
<circle cx="96.6" cy="385.5" r="2.45" stroke="#1b5a1b"/>
<circle cx="76.1" cy="403.6" r="2.45" stroke="#1b5a1b"/>
<circle cx="64.9" cy="389.0" r="2.45" stroke="#1b5a1b"/>
<circle cx="92.7" cy="400.5" r="2.45" stroke="#f01e28"/>
<circle cx="91.6" cy="378.9" r="2.45" stroke="#1b5a1b"/>
<circle cx="83.6" cy="379.8" r="2.45" stroke="#1b5a1b"/>
<circle cx="103.0" cy="381.1" r="2.45" stroke="#1b5a1b"/>
<circle cx="84.7" cy="400.9" r="2.45" stroke="#1b5a1b"/>
<circle cx="88.9" cy="396.8" r="2.45" stroke="#1b5a1b"/>
<circle cx="88.9" cy="403.4" r="2.45" stroke="#1b5a1b"/>
<circle cx="140.2" cy="375.2" r="2.45" stroke="#1b5a1b"/>
<circle cx="103.8" cy="394.7" r="2.45" stroke="#1b5a1b"/>
<circle cx="88.4" cy="375.9" r="2.45" stroke="#1515f0"/>
<circle cx="134.7" cy="382.6" r="2.45" stroke="#1b5a1b"/>
<circle cx="81.0" cy="402.1" r="2.45" stroke="#1b5a1b"/>
<circle cx="57.8" cy="388.2" r="2.45" stroke="#1b5a1b"/>
<circle cx="107.5" cy="395.4" r="2.45" stroke="#1515f0"/>
<circle cx="80.3" cy="395.9" r="2.45" stroke="#1b5a1b"/>
<circle cx="75.5" cy="380.6" r="2.45" stroke="#1b5a1b"/>
<circle cx="91.6" cy="396.3" r="2.45" stroke="#1b5a1b"/>
<circle cx="139.1" cy="388.4" r="2.45" stroke="#1b5a1b"/>
<circle cx="68.3" cy="368.1" r="2.45" stroke="#1b5a1b"/>
<circle cx="128.1" cy="392.5" r="2.45" stroke="#1b5a1b"/>
<circle cx="62.5" cy="365.7" r="2.45" stroke="#1b5a1b"/>
<circle cx="65.4" cy="389.6" r="2.45" stroke="#1515f0"/>
<circle cx="86.1" cy="372.7" r="2.45" stroke="#1b5a1b"/>
<circle cx="114.3" cy="397.1" r="2.45" stroke="#1515f0"/>
<circle cx="108.0" cy="401.4" r="2.45" stroke="#1b5a1b"/>
<circle cx="62.8" cy="376.6" r="2.45" stroke="#1b5a1b"/>
<circle cx="58.9" cy="374.5" r="2.45" stroke="#1b5a1b"/>
<circle cx="80.8" cy="384.4" r="2.45" stroke="#1b5a1b"/>
<circle cx="111.7" cy="383.0" r="2.45" stroke="#1b5a1b"/>
<circle cx="112.2" cy="378.7" r="2.45" stroke="#1b5a1b"/>
<circle cx="97.6" cy="380.9" r="2.45" stroke="#1b5a1b"/>
<circle cx="108.7" cy="376.9" r="2.45" stroke="#1b5a1b"/>
<circle cx="63.0" cy="367.7" r="2.45" stroke="#1b5a1b"/>
<circle cx="81.4" cy="383.6" r="2.45" stroke="#1515f0"/>
<circle cx="107.7" cy="398.9" r="2.45" stroke="#1b5a1b"/>
<circle cx="54.8" cy="387.5" r="2.45" stroke="#1b5a1b"/>
<circle cx="48.6" cy="401.3" r="2.45" stroke="#1b5a1b"/>
<circle cx="98.3" cy="391.1" r="2.45" stroke="#1b5a1b"/>
<circle cx="128.3" cy="375.0" r="2.45" stroke="#1b5a1b"/>
<circle cx="51.5" cy="395.9" r="2.45" stroke="#1b5a1b"/>
<circle cx="107.7" cy="375.5" r="2.45" stroke="#1b5a1b"/>
<circle cx="109.8" cy="372.6" r="2.45" stroke="#1b5a1b"/>
<circle cx="67.0" cy="378.4" r="2.45" stroke="#1b5a1b"/>
<circle cx="48.4" cy="382.5" r="2.45" stroke="#1b5a1b"/>
<circle cx="107.0" cy="375.4" r="2.45" stroke="#1b5a1b"/>
<circle cx="86.6" cy="364.3" r="2.45" stroke="#1b5a1b"/>
<circle cx="123.2" cy="395.8" r="2.45" stroke="#1b5a1b"/>
<circle cx="107.0" cy="388.3" r="2.45" stroke="#1b5a1b"/>
<circle cx="121.1" cy="406.7" r="2.45" stroke="#1b5a1b"/>
<circle cx="70.8" cy="390.2" r="2.45" stroke="#1b5a1b"/>
<circle cx="100.5" cy="392.0" r="2.45" stroke="#1515f0"/>
<circle cx="90.8" cy="384.2" r="2.45" stroke="#1b5a1b"/>
<circle cx="51.1" cy="375.0" r="2.45" stroke="#1b5a1b"/>
<circle cx="109.2" cy="400.1" r="2.45" stroke="#1515f0"/>
<circle cx="114.6" cy="397.4" r="2.45" stroke="#1b5a1b"/>
<circle cx="102.5" cy="384.7" r="2.45" stroke="#1515f0"/>
<circle cx="90.5" cy="403.4" r="2.45" stroke="#1b5a1b"/>
<circle cx="51.0" cy="395.1" r="2.45" stroke="#1b5a1b"/>
<circle cx="138.1" cy="374.5" r="2.45" stroke="#1b5a1b"/>
<circle cx="48.5" cy="388.2" r="2.45" stroke="#1b5a1b"/>
<circle cx="103.0" cy="405.9" r="2.45" stroke="#f01e28"/>
<circle cx="110.4" cy="369.3" r="2.45" stroke="#1b5a1b"/>
<circle cx="57.6" cy="373.9" r="2.45" stroke="#1b5a1b"/>
<circle cx="81.6" cy="376.7" r="2.45" stroke="#1b5a1b"/>
<circle cx="98.9" cy="396.8" r="2.45" stroke="#1b5a1b"/>
<circle cx="120.6" cy="375.2" r="2.45" stroke="#1b5a1b"/>
<circle cx="126.1" cy="400.9" r="2.45" stroke="#1b5a1b"/>
<circle cx="123.0" cy="373.4" r="2.45" stroke="#f01e28"/>
<circle cx="99.2" cy="397.5" r="2.45" stroke="#1b5a1b"/>
<circle cx="131.1" cy="395.0" r="2.45" stroke="#1b5a1b"/>
<circle cx="77.0" cy="393.0" r="2.45" stroke="#1b5a1b"/>
<circle cx="60.4" cy="391.6" r="2.45" stroke="#1b5a1b"/>
<circle cx="52.9" cy="399.5" r="2.45" stroke="#1b5a1b"/>
<circle cx="108.7" cy="385.6" r="2.45" stroke="#1b5a1b"/>
<circle cx="60.4" cy="376.3" r="2.45" stroke="#1b5a1b"/>
<circle cx="55.0" cy="388.2" r="2.45" stroke="#1515f0"/>
<circle cx="111.9" cy="390.2" r="2.45" stroke="#1b5a1b"/>
<circle cx="53.0" cy="390.4" r="2.45" stroke="#f01e28"/>
<circle cx="127.2" cy="377.7" r="2.45" stroke="#1b5a1b"/>
<circle cx="109.1" cy="399.5" r="2.45" stroke="#1b5a1b"/>
<circle cx="62.4" cy="389.3" r="2.45" stroke="#1b5a1b"/>
<circle cx="110.3" cy="385.4" r="2.45" stroke="#1b5a1b"/>
<circle cx="79.8" cy="390.7" r="2.45" stroke="#1b5a1b"/>
<circle cx="66.0" cy="387.3" r="2.45" stroke="#1b5a1b"/>
<circle cx="104.9" cy="370.0" r="2.45" stroke="#1b5a1b"/>
<circle cx="92.8" cy="385.2" r="2.45" stroke="#1b5a1b"/>
<circle cx="66.3" cy="373.3" r="2.45" stroke="#1b5a1b"/>
<circle cx="127.6" cy="401.7" r="2.45" stroke="#1b5a1b"/>
<circle cx="97.9" cy="383.6" r="2.45" stroke="#1b5a1b"/>
<circle cx="100.1" cy="397.9" r="2.45" stroke="#f01e28"/>
<circle cx="77.6" cy="375.4" r="2.45" stroke="#f01e28"/>
<circle cx="83.9" cy="369.1" r="2.45" stroke="#1b5a1b"/>
<circle cx="138.1" cy="394.4" r="2.45" stroke="#1b5a1b"/>
<circle cx="69.5" cy="398.0" r="2.45" stroke="#1b5a1b"/>
<circle cx="88.8" cy="385.9" r="2.45" stroke="#1b5a1b"/>
<circle cx="48.2" cy="379.4" r="2.45" stroke="#1b5a1b"/>
<circle cx="77.6" cy="400.9" r="2.45" stroke="#1b5a1b"/>
<circle cx="79.0" cy="377.0" r="2.45" stroke="#1b5a1b"/>
<circle cx="114.2" cy="398.3" r="2.45" stroke="#1b5a1b"/>
<circle cx="76.5" cy="387.0" r="2.45" stroke="#1b5a1b"/>
<circle cx="114.4" cy="377.2" r="2.45" stroke="#1b5a1b"/>
<circle cx="79.8" cy="377.4" r="2.45" stroke="#1b5a1b"/>
<circle cx="72.7" cy="396.1" r="2.45" stroke="#1b5a1b"/>
<circle cx="128.4" cy="389.0" r="2.45" stroke="#1b5a1b"/>
<circle cx="58.9" cy="391.4" r="2.45" stroke="#1b5a1b"/>
<circle cx="61.1" cy="370.1" r="2.45" stroke="#1b5a1b"/>
<circle cx="68.2" cy="399.5" r="2.45" stroke="#1b5a1b"/>
<circle cx="100.1" cy="380.2" r="2.45" stroke="#1b5a1b"/>
<circle cx="91.1" cy="368.5" r="2.45" stroke="#1b5a1b"/>
<circle cx="82.4" cy="372.4" r="2.45" stroke="#1515f0"/>
<circle cx="103.4" cy="375.4" r="2.45" stroke="#1b5a1b"/>
<circle cx="111.2" cy="403.6" r="2.45" stroke="#1b5a1b"/>
<circle cx="60.4" cy="367.9" r="2.45" stroke="#1b5a1b"/>
<circle cx="129.3" cy="371.1" r="2.45" stroke="#1b5a1b"/>
<circle cx="52.0" cy="394.8" r="2.45" stroke="#1b5a1b"/>
<circle cx="99.1" cy="405.7" r="2.45" stroke="#1b5a1b"/>
<circle cx="120.1" cy="377.8" r="2.45" stroke="#1b5a1b"/>
<circle cx="121.7" cy="402.0" r="2.45" stroke="#1b5a1b"/>
<circle cx="80.9" cy="380.4" r="2.45" stroke="#f01e28"/>
<circle cx="122.9" cy="392.8" r="2.45" stroke="#1b5a1b"/>
<circle cx="140.1" cy="387.6" r="2.45" stroke="#1b5a1b"/>
<circle cx="87.4" cy="381.7" r="2.45" stroke="#1b5a1b"/>
<circle cx="118.1" cy="384.4" r="2.45" stroke="#1515f0"/>
<circle cx="111.6" cy="402.8" r="2.45" stroke="#1b5a1b"/>
<circle cx="113.8" cy="375.2" r="2.45" stroke="#1b5a1b"/>
<circle cx="52.4" cy="369.9" r="2.45" stroke="#f01e28"/>
<circle cx="76.9" cy="365.5" r="2.45" stroke="#1b5a1b"/>
<circle cx="86.3" cy="390.6" r="2.45" stroke="#1b5a1b"/>
<circle cx="136.0" cy="393.2" r="2.45" stroke="#1b5a1b"/>
<circle cx="79.0" cy="392.1" r="2.45" stroke="#1b5a1b"/>
<circle cx="101.5" cy="373.9" r="2.45" stroke="#1b5a1b"/>
<circle cx="99.2" cy="392.4" r="2.45" stroke="#1b5a1b"/>
<circle cx="133.9" cy="381.5" r="2.45" stroke="#1b5a1b"/>
<circle cx="75.1" cy="401.8" r="2.45" stroke="#1b5a1b"/>
<circle cx="100.6" cy="381.9" r="2.45" stroke="#1b5a1b"/>
<circle cx="57.0" cy="366.2" r="2.45" stroke="#1b5a1b"/>
<circle cx="59.9" cy="364.0" r="2.45" stroke="#1b5a1b"/>
<circle cx="99.3" cy="394.9" r="2.45" stroke="#1b5a1b"/>
<circle cx="91.9" cy="394.4" r="2.45" stroke="#1515f0"/>
<circle cx="66.4" cy="365.0" r="2.45" stroke="#1b5a1b"/>
<circle cx="61.9" cy="372.4" r="2.45" stroke="#1b5a1b"/>
<circle cx="67.4" cy="385.2" r="2.45" stroke="#1b5a1b"/>
<circle cx="53.5" cy="397.6" r="2.45" stroke="#f01e28"/>
<circle cx="107.9" cy="372.5" r="2.45" stroke="#1b5a1b"/>
<circle cx="56.2" cy="383.6" r="2.45" stroke="#1b5a1b"/>
<circle cx="116.7" cy="392.2" r="2.45" stroke="#1b5a1b"/>
<circle cx="90.3" cy="385.4" r="2.45" stroke="#1b5a1b"/>
<circle cx="135.6" cy="392.8" r="2.45" stroke="#1b5a1b"/>
<circle cx="70.5" cy="393.0" r="2.45" stroke="#1b5a1b"/>
<circle cx="91.3" cy="391.2" r="2.45" stroke="#1b5a1b"/>
<circle cx="63.8" cy="387.6" r="2.45" stroke="#1b5a1b"/>
<circle cx="108.5" cy="378.1" r="2.45" stroke="#1b5a1b"/>
<circle cx="121.6" cy="395.4" r="2.45" stroke="#1b5a1b"/>
<circle cx="58.3" cy="389.0" r="2.45" stroke="#1515f0"/>
<circle cx="74.9" cy="387.0" r="2.45" stroke="#1b5a1b"/>
<circle cx="57.9" cy="393.2" r="2.45" stroke="#1b5a1b"/>
<circle cx="112.8" cy="379.2" r="2.45" stroke="#1b5a1b"/>
<circle cx="48.6" cy="386.5" r="2.45" stroke="#1b5a1b"/>
<circle cx="73.7" cy="387.9" r="2.45" stroke="#1b5a1b"/>
<circle cx="116.5" cy="379.3" r="2.45" stroke="#1b5a1b"/>
<circle cx="128.0" cy="392.1" r="2.45" stroke="#1b5a1b"/>
<circle cx="55.6" cy="381.0" r="2.45" stroke="#1b5a1b"/>
<circle cx="61.5" cy="373.4" r="2.45" stroke="#1b5a1b"/>
<circle cx="74.4" cy="386.2" r="2.45" stroke="#1b5a1b"/>
<circle cx="122.2" cy="395.7" r="2.45" stroke="#1b5a1b"/>
<circle cx="79.3" cy="374.4" r="2.45" stroke="#1b5a1b"/>
<circle cx="102.5" cy="380.0" r="2.45" stroke="#1b5a1b"/>
<circle cx="112.6" cy="387.9" r="2.45" stroke="#1b5a1b"/>
<circle cx="67.0" cy="373.4" r="2.45" stroke="#1b5a1b"/>
<circle cx="52.4" cy="372.5" r="2.45" stroke="#1b5a1b"/>
<circle cx="60.6" cy="400.1" r="2.45" stroke="#1b5a1b"/>
<circle cx="60.1" cy="374.8" r="2.45" stroke="#1b5a1b"/>
<circle cx="118.3" cy="389.6" r="2.45" stroke="#1b5a1b"/>
<circle cx="70.5" cy="372.3" r="2.45" stroke="#1b5a1b"/>
<circle cx="94.7" cy="392.8" r="2.45" stroke="#1b5a1b"/>
<circle cx="71.3" cy="387.9" r="2.45" stroke="#1b5a1b"/>
<circle cx="59.1" cy="393.5" r="2.45" stroke="#1b5a1b"/>
<circle cx="55.3" cy="397.1" r="2.45" stroke="#1b5a1b"/>
<circle cx="69.1" cy="382.5" r="2.45" stroke="#1b5a1b"/>
<circle cx="116.8" cy="372.7" r="2.45" stroke="#1b5a1b"/>
<circle cx="63.8" cy="378.3" r="2.45" stroke="#1b5a1b"/>
<circle cx="98.8" cy="390.1" r="2.45" stroke="#1b5a1b"/>
<circle cx="49.0" cy="395.7" r="2.45" stroke="#1b5a1b"/>
<circle cx="75.2" cy="391.0" r="2.45" stroke="#f01e28"/>
<circle cx="90.2" cy="369.0" r="2.45" stroke="#1b5a1b"/>
<circle cx="62.4" cy="396.0" r="2.45" stroke="#1b5a1b"/>
<circle cx="55.5" cy="377.2" r="2.45" stroke="#1515f0"/>
<circle cx="95.1" cy="389.6" r="2.45" stroke="#1b5a1b"/>
<circle cx="53.8" cy="394.9" r="2.45" stroke="#1b5a1b"/>
<circle cx="123.6" cy="386.1" r="2.45" stroke="#1b5a1b"/>
<circle cx="67.6" cy="390.2" r="2.45" stroke="#1b5a1b"/>
<circle cx="71.5" cy="401.2" r="2.45" stroke="#1b5a1b"/>
<circle cx="55.3" cy="392.6" r="2.45" stroke="#1b5a1b"/>
<circle cx="130.7" cy="390.2" r="2.45" stroke="#1515f0"/>
<circle cx="51.5" cy="369.2" r="2.45" stroke="#1b5a1b"/>
<circle cx="65.9" cy="395.9" r="2.45" stroke="#1b5a1b"/>
<circle cx="83.8" cy="368.2" r="2.45" stroke="#1b5a1b"/>
<circle cx="61.5" cy="372.0" r="2.45" stroke="#1b5a1b"/>
<circle cx="66.5" cy="376.1" r="2.45" stroke="#1b5a1b"/>
<circle cx="67.3" cy="403.3" r="2.45" stroke="#1b5a1b"/>
<circle cx="63.2" cy="393.9" r="2.45" stroke="#f01e28"/>
<circle cx="104.3" cy="387.7" r="2.45" stroke="#1b5a1b"/>
<circle cx="106.2" cy="378.6" r="2.45" stroke="#1b5a1b"/>
<circle cx="90.7" cy="393.7" r="2.45" stroke="#1b5a1b"/>
<circle cx="105.3" cy="388.6" r="2.45" stroke="#f01e28"/>
<circle cx="61.1" cy="394.9" r="2.45" stroke="#1b5a1b"/>
<circle cx="161.9" cy="385.4" r="2.45" stroke="#1515f0"/>
<circle cx="204.7" cy="386.5" r="2.45" stroke="#1515f0"/>
<circle cx="194.6" cy="406.5" r="2.45" stroke="#1b5a1b"/>
<circle cx="201.7" cy="377.1" r="2.45" stroke="#1b5a1b"/>
<circle cx="163.5" cy="396.5" r="2.45" stroke="#f01e28"/>
<circle cx="205.4" cy="411.4" r="2.45" stroke="#1b5a1b"/>
<circle cx="203.1" cy="399.0" r="2.45" stroke="#1515f0"/>
<circle cx="177.0" cy="387.5" r="2.45" stroke="#1b5a1b"/>
<circle cx="224.8" cy="419.9" r="2.45" stroke="#1515f0"/>
<circle cx="173.9" cy="404.6" r="2.45" stroke="#1515f0"/>
<circle cx="159.0" cy="390.7" r="2.45" stroke="#1515f0"/>
<circle cx="215.1" cy="399.0" r="2.45" stroke="#1b5a1b"/>
<circle cx="165.1" cy="391.5" r="2.45" stroke="#1515f0"/>
<circle cx="146.9" cy="385.6" r="2.45" stroke="#1515f0"/>
<circle cx="145.6" cy="399.4" r="2.45" stroke="#1515f0"/>
<circle cx="161.6" cy="363.6" r="2.45" stroke="#1b5a1b"/>
<circle cx="188.2" cy="398.7" r="2.45" stroke="#1515f0"/>
<circle cx="176.2" cy="376.2" r="2.45" stroke="#f01e28"/>
<circle cx="147.7" cy="386.3" r="2.45" stroke="#1515f0"/>
<circle cx="151.0" cy="400.2" r="2.45" stroke="#1b5a1b"/>
<circle cx="200.3" cy="409.5" r="2.45" stroke="#1b5a1b"/>
<circle cx="155.8" cy="405.7" r="2.45" stroke="#1515f0"/>
<circle cx="138.5" cy="368.2" r="2.45" stroke="#1515f0"/>
<circle cx="185.2" cy="408.1" r="2.45" stroke="#1b5a1b"/>
<circle cx="144.4" cy="385.4" r="2.45" stroke="#1b5a1b"/>
<circle cx="139.5" cy="398.2" r="2.45" stroke="#1515f0"/>
<circle cx="152.3" cy="378.2" r="2.45" stroke="#1515f0"/>
<circle cx="212.6" cy="381.4" r="2.45" stroke="#f01e28"/>
<circle cx="210.8" cy="388.9" r="2.45" stroke="#f01e28"/>
<circle cx="149.4" cy="392.9" r="2.45" stroke="#f01e28"/>
<circle cx="141.6" cy="369.7" r="2.45" stroke="#1515f0"/>
<circle cx="184.9" cy="396.3" r="2.45" stroke="#1515f0"/>
<circle cx="148.0" cy="378.9" r="2.45" stroke="#1515f0"/>
<circle cx="171.7" cy="378.4" r="2.45" stroke="#f01e28"/>
<circle cx="128.9" cy="396.4" r="2.45" stroke="#1515f0"/>
<circle cx="141.4" cy="395.2" r="2.45" stroke="#1b5a1b"/>
<circle cx="153.3" cy="370.3" r="2.45" stroke="#f01e28"/>
<circle cx="149.0" cy="384.6" r="2.45" stroke="#1b5a1b"/>
<circle cx="117.2" cy="383.9" r="2.45" stroke="#1515f0"/>
<circle cx="193.1" cy="367.4" r="2.45" stroke="#f01e28"/>
<circle cx="190.8" cy="376.7" r="2.45" stroke="#1b5a1b"/>
<circle cx="216.6" cy="389.0" r="2.45" stroke="#f01e28"/>
<circle cx="178.0" cy="385.3" r="2.45" stroke="#1b5a1b"/>
<circle cx="123.9" cy="382.7" r="2.45" stroke="#1515f0"/>
<circle cx="228.6" cy="392.9" r="2.45" stroke="#1515f0"/>
<circle cx="180.1" cy="409.5" r="2.45" stroke="#f01e28"/>
<circle cx="148.9" cy="377.6" r="2.45" stroke="#1515f0"/>
<circle cx="191.8" cy="387.8" r="2.45" stroke="#1b5a1b"/>
<circle cx="154.6" cy="392.1" r="2.45" stroke="#1b5a1b"/>
<circle cx="169.5" cy="382.1" r="2.45" stroke="#1515f0"/>
<circle cx="158.2" cy="363.4" r="2.45" stroke="#1515f0"/>
<circle cx="137.0" cy="381.8" r="2.45" stroke="#1b5a1b"/>
<circle cx="191.8" cy="408.7" r="2.45" stroke="#1b5a1b"/>
<circle cx="179.6" cy="396.5" r="2.45" stroke="#1b5a1b"/>
<circle cx="138.0" cy="393.5" r="2.45" stroke="#1b5a1b"/>
<circle cx="186.8" cy="375.9" r="2.45" stroke="#1b5a1b"/>
<circle cx="195.0" cy="405.8" r="2.45" stroke="#f01e28"/>
<circle cx="192.3" cy="372.4" r="2.45" stroke="#1515f0"/>
<circle cx="176.2" cy="394.7" r="2.45" stroke="#f01e28"/>
<circle cx="167.5" cy="371.1" r="2.45" stroke="#1b5a1b"/>
<circle cx="166.0" cy="404.0" r="2.45" stroke="#1b5a1b"/>
<circle cx="167.8" cy="381.8" r="2.45" stroke="#1b5a1b"/>
<circle cx="172.7" cy="401.2" r="2.45" stroke="#1b5a1b"/>
<circle cx="144.3" cy="392.3" r="2.45" stroke="#1b5a1b"/>
<circle cx="202.1" cy="399.7" r="2.45" stroke="#1515f0"/>
<circle cx="199.3" cy="409.1" r="2.45" stroke="#f01e28"/>
<circle cx="146.1" cy="379.2" r="2.45" stroke="#1b5a1b"/>
<circle cx="215.1" cy="421.3" r="2.45" stroke="#f01e28"/>
<circle cx="221.0" cy="415.5" r="2.45" stroke="#1515f0"/>
<circle cx="167.3" cy="368.6" r="2.45" stroke="#1b5a1b"/>
<circle cx="216.8" cy="374.9" r="2.45" stroke="#1515f0"/>
<circle cx="162.3" cy="413.5" r="2.45" stroke="#1b5a1b"/>
<circle cx="219.3" cy="411.0" r="2.45" stroke="#f01e28"/>
<circle cx="227.5" cy="373.7" r="2.45" stroke="#f01e28"/>
<circle cx="231.3" cy="409.1" r="2.45" stroke="#1515f0"/>
<circle cx="173.3" cy="373.9" r="2.45" stroke="#f01e28"/>
<circle cx="152.5" cy="409.5" r="2.45" stroke="#1b5a1b"/>
<circle cx="123.7" cy="387.5" r="2.45" stroke="#1b5a1b"/>
<circle cx="176.9" cy="387.9" r="2.45" stroke="#1515f0"/>
<circle cx="221.2" cy="376.8" r="2.45" stroke="#f01e28"/>
<circle cx="197.3" cy="398.2" r="2.45" stroke="#f01e28"/>
<circle cx="178.3" cy="387.6" r="2.45" stroke="#1b5a1b"/>
<circle cx="124.6" cy="376.2" r="2.45" stroke="#1b5a1b"/>
<circle cx="182.8" cy="397.4" r="2.45" stroke="#f01e28"/>
<circle cx="158.0" cy="376.6" r="2.45" stroke="#1515f0"/>
<circle cx="145.2" cy="404.5" r="2.45" stroke="#1515f0"/>
<circle cx="165.1" cy="395.3" r="2.45" stroke="#1b5a1b"/>
<circle cx="152.1" cy="395.0" r="2.45" stroke="#1515f0"/>
<circle cx="201.0" cy="382.2" r="2.45" stroke="#1b5a1b"/>
<circle cx="217.9" cy="392.1" r="2.45" stroke="#1b5a1b"/>
<circle cx="191.1" cy="357.9" r="2.45" stroke="#1b5a1b"/>
<circle cx="185.4" cy="386.7" r="2.45" stroke="#f01e28"/>
<circle cx="165.7" cy="365.3" r="2.45" stroke="#1515f0"/>
<circle cx="116.2" cy="407.9" r="2.45" stroke="#1b5a1b"/>
<circle cx="88.0" cy="371.8" r="2.45" stroke="#1515f0"/>
<circle cx="101.6" cy="406.7" r="2.45" stroke="#1b5a1b"/>
<circle cx="89.0" cy="387.2" r="2.45" stroke="#1515f0"/>
<circle cx="89.4" cy="358.2" r="2.45" stroke="#1b5a1b"/>
<circle cx="51.3" cy="352.6" r="2.45" stroke="#1b5a1b"/>
<circle cx="128.4" cy="416.8" r="2.45" stroke="#1b5a1b"/>
<circle cx="113.9" cy="406.7" r="2.45" stroke="#1b5a1b"/>
<circle cx="87.1" cy="405.2" r="2.45" stroke="#1b5a1b"/>
<circle cx="163.2" cy="376.0" r="2.45" stroke="#1515f0"/>
<circle cx="225.5" cy="366.1" r="2.45" stroke="#1515f0"/>
<circle cx="240.4" cy="374.3" r="2.45" stroke="#1b5a1b"/>
<circle cx="74.9" cy="377.7" r="2.45" stroke="#1515f0"/>
<circle cx="115.6" cy="362.0" r="2.45" stroke="#1b5a1b"/>
<circle cx="282.4" cy="453.4" r="2.45" stroke="#1b5a1b"/>
<circle cx="132.8" cy="384.2" r="2.45" stroke="#1b5a1b"/>
<circle cx="245.8" cy="416.8" r="2.45" stroke="#1b5a1b"/>
<circle cx="103.3" cy="371.1" r="2.45" stroke="#1515f0"/>
<circle cx="145.2" cy="394.5" r="2.45" stroke="#1b5a1b"/>
<circle cx="203.8" cy="370.7" r="2.45" stroke="#1b5a1b"/>
<circle cx="147.6" cy="373.5" r="2.45" stroke="#1515f0"/>
<circle cx="272.1" cy="429.0" r="2.45" stroke="#f01e28"/>
<circle cx="151.9" cy="402.3" r="2.45" stroke="#f01e28"/>
<circle cx="124.6" cy="395.7" r="2.45" stroke="#1515f0"/>
<circle cx="93.8" cy="342.7" r="2.45" stroke="#1b5a1b"/>
<circle cx="101.2" cy="265.6" r="2.45" stroke="#1b5a1b"/>
<circle cx="174.0" cy="401.9" r="2.45" stroke="#1b5a1b"/>
<circle cx="112.3" cy="392.4" r="2.45" stroke="#1b5a1b"/>
<circle cx="185.4" cy="394.9" r="2.45" stroke="#1515f0"/>
<circle cx="108.2" cy="370.2" r="2.45" stroke="#1515f0"/>
<circle cx="285.1" cy="372.1" r="2.45" stroke="#1b5a1b"/>
<circle cx="167.3" cy="370.2" r="2.45" stroke="#1515f0"/>
<circle cx="171.4" cy="356.3" r="2.45" stroke="#1b5a1b"/>
<circle cx="267.8" cy="404.6" r="2.45" stroke="#1515f0"/>
<circle cx="214.2" cy="336.4" r="2.45" stroke="#f01e28"/>
<circle cx="210.6" cy="379.7" r="2.45" stroke="#1515f0"/>
<circle cx="112.3" cy="351.3" r="2.45" stroke="#1515f0"/>
<circle cx="172.0" cy="423.5" r="2.45" stroke="#1515f0"/>
<circle cx="180.5" cy="349.7" r="2.45" stroke="#1b5a1b"/>
<circle cx="181.3" cy="377.6" r="2.45" stroke="#1515f0"/>
<circle cx="73.1" cy="409.4" r="2.45" stroke="#1b5a1b"/>
<circle cx="207.9" cy="392.4" r="2.45" stroke="#1515f0"/>
<circle cx="71.7" cy="356.0" r="2.45" stroke="#1b5a1b"/>
<circle cx="118.9" cy="344.8" r="2.45" stroke="#1515f0"/>
<circle cx="279.7" cy="369.9" r="2.45" stroke="#1b5a1b"/>
<circle cx="93.9" cy="370.0" r="2.45" stroke="#1515f0"/>
<circle cx="248.0" cy="385.1" r="2.45" stroke="#1515f0"/>
<circle cx="150.9" cy="394.9" r="2.45" stroke="#1b5a1b"/>
<circle cx="235.0" cy="428.5" r="2.45" stroke="#1515f0"/>
<circle cx="191.1" cy="371.1" r="2.45" stroke="#1515f0"/>
<circle cx="124.6" cy="366.1" r="2.45" stroke="#1515f0"/>
<circle cx="187.0" cy="333.3" r="2.45" stroke="#f01e28"/>
<circle cx="129.6" cy="396.7" r="2.45" stroke="#1b5a1b"/>
<circle cx="172.2" cy="372.7" r="2.45" stroke="#f01e28"/>
<circle cx="99.3" cy="374.2" r="2.45" stroke="#1515f0"/>
<circle cx="123.8" cy="376.8" r="2.45" stroke="#1515f0"/>
<circle cx="149.7" cy="396.7" r="2.45" stroke="#1515f0"/>
<circle cx="151.9" cy="414.6" r="2.45" stroke="#1515f0"/>
<circle cx="222.8" cy="366.1" r="2.45" stroke="#1b5a1b"/>
<circle cx="232.3" cy="382.1" r="2.45" stroke="#1515f0"/>
<circle cx="88.9" cy="400.0" r="2.45" stroke="#1b5a1b"/>
<circle cx="220.1" cy="434.4" r="2.45" stroke="#1515f0"/>
<circle cx="196.9" cy="405.5" r="2.45" stroke="#1b5a1b"/>
<circle cx="201.1" cy="372.1" r="2.45" stroke="#1b5a1b"/>
<circle cx="241.7" cy="369.4" r="2.45" stroke="#1b5a1b"/>
<circle cx="161.6" cy="371.1" r="2.45" stroke="#1b5a1b"/>
<circle cx="187.5" cy="382.4" r="2.45" stroke="#1515f0"/>
<circle cx="175.4" cy="411.4" r="2.45" stroke="#1515f0"/>
<circle cx="213.3" cy="378.9" r="2.45" stroke="#1515f0"/>
<circle cx="51.4" cy="392.2" r="2.45" stroke="#1b5a1b"/>
<circle cx="175.5" cy="377.6" r="2.45" stroke="#f01e28"/>
<circle cx="149.3" cy="354.6" r="2.45" stroke="#1b5a1b"/>
<circle cx="105.0" cy="392.2" r="2.45" stroke="#1b5a1b"/>
<circle cx="128.7" cy="386.7" r="2.45" stroke="#1515f0"/>
<circle cx="101.6" cy="350.5" r="2.45" stroke="#1b5a1b"/>
<circle cx="160.8" cy="339.0" r="2.45" stroke="#f01e28"/>
<circle cx="102.8" cy="397.8" r="2.45" stroke="#1515f0"/>
<circle cx="145.2" cy="420.8" r="2.45" stroke="#1b5a1b"/>
<circle cx="148.4" cy="339.9" r="2.45" stroke="#1b5a1b"/>
<circle cx="185.4" cy="379.3" r="2.45" stroke="#1b5a1b"/>
<circle cx="239.0" cy="345.8" r="2.45" stroke="#f01e28"/>
<circle cx="217.4" cy="349.1" r="2.45" stroke="#1b5a1b"/>
<circle cx="158.3" cy="368.6" r="2.45" stroke="#1515f0"/>
<circle cx="66.8" cy="356.7" r="2.45" stroke="#f01e28"/>
<circle cx="158.3" cy="385.8" r="2.45" stroke="#1515f0"/>
<circle cx="134.0" cy="414.6" r="2.45" stroke="#1515f0"/>
<circle cx="239.9" cy="357.2" r="2.45" stroke="#1b5a1b"/>
<circle cx="197.8" cy="385.6" r="2.45" stroke="#f01e28"/>
<circle cx="249.9" cy="414.6" r="2.45" stroke="#1515f0"/>
<circle cx="174.7" cy="402.2" r="2.45" stroke="#1515f0"/>
<circle cx="100.5" cy="392.2" r="2.45" stroke="#1b5a1b"/>
<circle cx="172.7" cy="415.7" r="2.45" stroke="#1b5a1b"/>
<circle cx="87.6" cy="334.0" r="2.45" stroke="#1b5a1b"/>
<circle cx="67.0" cy="393.3" r="2.45" stroke="#1b5a1b"/>
<circle cx="281.9" cy="432.3" r="2.45" stroke="#1515f0"/>
<circle cx="109.9" cy="384.2" r="2.45" stroke="#1b5a1b"/>
<circle cx="115.5" cy="322.1" r="2.45" stroke="#1b5a1b"/>
<circle cx="78.6" cy="384.2" r="2.45" stroke="#1515f0"/>
<circle cx="153.0" cy="419.7" r="2.45" stroke="#1b5a1b"/>
<circle cx="72.0" cy="385.7" r="2.45" stroke="#1515f0"/>
<circle cx="149.3" cy="386.7" r="2.45" stroke="#1515f0"/>
<circle cx="80.9" cy="361.5" r="2.45" stroke="#1b5a1b"/>
<circle cx="151.7" cy="374.3" r="2.45" stroke="#1515f0"/>
<circle cx="185.4" cy="388.4" r="2.45" stroke="#1515f0"/>
<circle cx="228.2" cy="346.4" r="2.45" stroke="#1b5a1b"/>
<circle cx="218.2" cy="403.3" r="2.45" stroke="#1b5a1b"/>
<circle cx="106.8" cy="410.5" r="2.45" stroke="#1b5a1b"/>
<circle cx="106.6" cy="376.0" r="2.45" stroke="#1b5a1b"/>
<circle cx="221.6" cy="323.7" r="2.45" stroke="#f01e28"/>
<circle cx="217.4" cy="378.9" r="2.45" stroke="#1b5a1b"/>
<circle cx="86.0" cy="397.8" r="2.45" stroke="#1b5a1b"/>
<circle cx="158.3" cy="378.4" r="2.45" stroke="#1515f0"/>
<circle cx="176.4" cy="341.5" r="2.45" stroke="#1515f0"/>
<circle cx="116.4" cy="354.6" r="2.45" stroke="#1b5a1b"/>
<circle cx="285.6" cy="364.5" r="2.45" stroke="#1b5a1b"/>
<circle cx="137.8" cy="394.9" r="2.45" stroke="#1b5a1b"/>
<circle cx="102.5" cy="330.8" r="2.45" stroke="#1515f0"/>
<circle cx="64.4" cy="345.6" r="2.45" stroke="#1b5a1b"/>
<circle cx="195.7" cy="382.9" r="2.45" stroke="#f01e28"/>
<circle cx="214.1" cy="421.4" r="2.45" stroke="#f01e28"/>
<circle cx="174.7" cy="393.2" r="2.45" stroke="#1b5a1b"/>
<circle cx="155.8" cy="393.2" r="2.45" stroke="#1515f0"/>
<circle cx="294.6" cy="394.6" r="2.45" stroke="#f01e28"/>
<circle cx="279.1" cy="378.9" r="2.45" stroke="#f01e28"/>
<circle cx="106.6" cy="407.2" r="2.45" stroke="#1515f0"/>
<circle cx="83.3" cy="344.2" r="2.45" stroke="#f01e28"/>
<circle cx="121.3" cy="387.5" r="2.45" stroke="#f01e28"/>
<circle cx="51.3" cy="365.9" r="2.45" stroke="#1515f0"/>
<circle cx="69.8" cy="367.4" r="2.45" stroke="#1515f0"/>
<circle cx="149.3" cy="364.5" r="2.45" stroke="#1b5a1b"/>
<circle cx="180.5" cy="392.4" r="2.45" stroke="#1515f0"/>
<circle cx="176.4" cy="387.5" r="2.45" stroke="#1515f0"/>
<circle cx="230.9" cy="439.8" r="2.45" stroke="#f01e28"/>
<circle cx="188.7" cy="360.4" r="2.45" stroke="#1515f0"/>
<circle cx="131.2" cy="362.8" r="2.45" stroke="#1515f0"/>
<circle cx="49.1" cy="372.7" r="2.45" stroke="#1515f0"/>
<circle cx="82.9" cy="329.1" r="2.45" stroke="#1b5a1b"/>
<circle cx="76.4" cy="298.7" r="2.45" stroke="#f01e28"/>
<circle cx="101.6" cy="389.1" r="2.45" stroke="#1515f0"/>
<circle cx="192.8" cy="352.2" r="2.45" stroke="#1515f0"/>
<circle cx="142.7" cy="377.6" r="2.45" stroke="#1b5a1b"/>
<circle cx="127.3" cy="394.5" r="2.45" stroke="#1515f0"/>
<circle cx="209.2" cy="396.5" r="2.45" stroke="#1515f0"/>
<circle cx="149.3" cy="360.4" r="2.45" stroke="#1b5a1b"/>
<circle cx="84.1" cy="389.5" r="2.45" stroke="#1515f0"/>
<circle cx="157.5" cy="403.1" r="2.45" stroke="#1515f0"/>
<circle cx="124.0" cy="398.9" r="2.45" stroke="#1515f0"/>
<circle cx="72.0" cy="377.1" r="2.45" stroke="#1515f0"/>
<circle cx="119.7" cy="353.8" r="2.45" stroke="#1b5a1b"/>
<circle cx="167.3" cy="379.3" r="2.45" stroke="#1515f0"/>
<circle cx="156.7" cy="356.3" r="2.45" stroke="#f01e28"/>
<circle cx="158.6" cy="392.2" r="2.45" stroke="#1515f0"/>
<circle cx="134.0" cy="398.9" r="2.45" stroke="#1515f0"/>
<circle cx="125.5" cy="348.9" r="2.45" stroke="#1b5a1b"/>
<circle cx="101.6" cy="377.6" r="2.45" stroke="#1515f0"/>
<circle cx="209.2" cy="401.9" r="2.45" stroke="#1b5a1b"/>
<circle cx="134.5" cy="379.3" r="2.45" stroke="#1b5a1b"/>
<circle cx="298.7" cy="401.9" r="2.45" stroke="#f01e28"/>
<circle cx="191.4" cy="322.6" r="2.45" stroke="#f01e28"/>
<circle cx="222.8" cy="390.5" r="2.45" stroke="#f01e28"/>
<circle cx="231.6" cy="342.0" r="2.45" stroke="#f01e28"/>
<circle cx="254.2" cy="383.8" r="2.45" stroke="#1515f0"/>
<circle cx="180.8" cy="377.5" r="2.45" stroke="#1b5a1b"/>
<circle cx="132.0" cy="353.8" r="2.45" stroke="#1b5a1b"/>
<circle cx="124.6" cy="344.8" r="2.45" stroke="#1b5a1b"/>
<circle cx="176.7" cy="408.7" r="2.45" stroke="#1b5a1b"/>
<circle cx="152.5" cy="387.5" r="2.45" stroke="#1515f0"/>
<circle cx="136.3" cy="416.4" r="2.45" stroke="#1b5a1b"/>
<circle cx="55.7" cy="355.0" r="2.45" stroke="#f01e28"/>
<circle cx="93.2" cy="338.2" r="2.45" stroke="#1b5a1b"/>
<circle cx="91.6" cy="404.5" r="2.45" stroke="#1b5a1b"/>
<circle cx="108.2" cy="399.0" r="2.45" stroke="#1515f0"/>
<circle cx="156.7" cy="351.3" r="2.45" stroke="#1b5a1b"/>
<circle cx="245.0" cy="422.2" r="2.45" stroke="#1b5a1b"/>
<circle cx="186.2" cy="351.3" r="2.45" stroke="#1b5a1b"/>
<circle cx="101.6" cy="364.5" r="2.45" stroke="#1515f0"/>
<circle cx="154.2" cy="349.7" r="2.45" stroke="#f01e28"/>
<circle cx="209.3" cy="334.9" r="2.45" stroke="#f01e28"/>
<circle cx="163.1" cy="400.0" r="2.45" stroke="#f01e28"/>
<circle cx="187.8" cy="335.7" r="2.45" stroke="#1b5a1b"/>
<circle cx="49.2" cy="391.1" r="2.45" stroke="#1515f0"/>
<circle cx="101.6" cy="347.2" r="2.45" stroke="#1515f0"/>
<circle cx="121.3" cy="360.4" r="2.45" stroke="#f01e28"/>
<circle cx="183.7" cy="353.0" r="2.45" stroke="#1515f0"/>
<circle cx="258.5" cy="369.4" r="2.45" stroke="#1b5a1b"/>
<circle cx="135.3" cy="353.8" r="2.45" stroke="#1b5a1b"/>
<circle cx="119.7" cy="366.1" r="2.45" stroke="#1515f0"/>
<circle cx="203.8" cy="380.2" r="2.45" stroke="#1b5a1b"/>
<circle cx="127.1" cy="357.1" r="2.45" stroke="#1b5a1b"/>
<circle cx="176.7" cy="350.4" r="2.45" stroke="#1b5a1b"/>
<circle cx="199.7" cy="369.4" r="2.45" stroke="#f01e28"/>
<circle cx="279.1" cy="386.2" r="2.45" stroke="#1b5a1b"/>
<circle cx="149.7" cy="391.1" r="2.45" stroke="#1b5a1b"/>
<circle cx="82.3" cy="375.7" r="2.45" stroke="#1515f0"/>
<circle cx="239.9" cy="401.4" r="2.45" stroke="#1b5a1b"/>
<circle cx="199.7" cy="387.0" r="2.45" stroke="#f01e28"/>
<circle cx="143.5" cy="392.4" r="2.45" stroke="#1515f0"/>
<circle cx="175.5" cy="351.3" r="2.45" stroke="#f01e28"/>
<circle cx="132.8" cy="339.0" r="2.45" stroke="#f01e28"/>
<circle cx="143.5" cy="350.5" r="2.45" stroke="#1515f0"/>
<circle cx="198.5" cy="355.5" r="2.45" stroke="#1b5a1b"/>
<circle cx="282.4" cy="400.6" r="2.45" stroke="#1b5a1b"/>
<circle cx="185.4" cy="371.1" r="2.45" stroke="#1b5a1b"/>
<circle cx="134.5" cy="346.4" r="2.45" stroke="#1b5a1b"/>
<circle cx="198.5" cy="335.7" r="2.45" stroke="#f01e28"/>
<circle cx="83.8" cy="404.5" r="2.45" stroke="#1b5a1b"/>
<circle cx="157.5" cy="414.6" r="2.45" stroke="#1b5a1b"/>
<circle cx="192.0" cy="369.4" r="2.45" stroke="#f01e28"/>
<circle cx="58.0" cy="370.3" r="2.45" stroke="#1515f0"/>
<circle cx="114.8" cy="385.8" r="2.45" stroke="#1515f0"/>
<circle cx="139.4" cy="348.9" r="2.45" stroke="#f01e28"/>
<circle cx="225.4" cy="327.0" r="2.45" stroke="#f01e28"/>
<circle cx="209.2" cy="347.7" r="2.45" stroke="#1b5a1b"/>
<circle cx="187.5" cy="395.1" r="2.45" stroke="#1b5a1b"/>
<circle cx="195.2" cy="354.6" r="2.45" stroke="#1b5a1b"/>
<circle cx="89.4" cy="314.1" r="2.45" stroke="#1b5a1b"/>
<circle cx="243.9" cy="387.0" r="2.45" stroke="#1b5a1b"/>
<circle cx="196.9" cy="397.3" r="2.45" stroke="#1515f0"/>
<circle cx="165.3" cy="406.7" r="2.45" stroke="#1b5a1b"/>
<circle cx="183.7" cy="341.5" r="2.45" stroke="#1515f0"/>
<circle cx="255.3" cy="364.0" r="2.45" stroke="#1b5a1b"/>
<circle cx="195.2" cy="315.2" r="2.45" stroke="#1515f0"/>
<circle cx="252.0" cy="395.9" r="2.45" stroke="#1b5a1b"/>
<circle cx="81.5" cy="393.3" r="2.45" stroke="#1b5a1b"/>
<circle cx="106.6" cy="363.7" r="2.45" stroke="#1b5a1b"/>
<circle cx="252.6" cy="391.1" r="2.45" stroke="#1b5a1b"/>
<circle cx="89.7" cy="378.6" r="2.45" stroke="#1515f0"/>
<circle cx="157.5" cy="343.1" r="2.45" stroke="#1b5a1b"/>
<circle cx="110.7" cy="364.5" r="2.45" stroke="#1515f0"/>
<circle cx="279.1" cy="356.4" r="2.45" stroke="#f01e28"/>
<circle cx="121.3" cy="369.4" r="2.45" stroke="#1515f0"/>
<circle cx="130.4" cy="375.2" r="2.45" stroke="#1515f0"/>
<circle cx="152.6" cy="296.0" r="2.45" stroke="#f01e28"/>
<circle cx="143.5" cy="369.4" r="2.45" stroke="#1b5a1b"/>
<circle cx="239.0" cy="364.5" r="2.45" stroke="#f01e28"/>
<circle cx="102.1" cy="403.4" r="2.45" stroke="#1515f0"/>
<circle cx="203.3" cy="401.9" r="2.45" stroke="#1515f0"/>
<circle cx="206.5" cy="370.7" r="2.45" stroke="#1b5a1b"/>
<circle cx="218.2" cy="384.3" r="2.45" stroke="#1515f0"/>
<circle cx="176.4" cy="373.5" r="2.45" stroke="#1515f0"/>
<circle cx="67.3" cy="381.9" r="2.45" stroke="#1515f0"/>
<circle cx="73.7" cy="398.9" r="2.45" stroke="#1515f0"/>
<circle cx="144.3" cy="358.7" r="2.45" stroke="#1b5a1b"/>
<circle cx="135.3" cy="405.5" r="2.45" stroke="#1b5a1b"/>
<circle cx="178.1" cy="389.7" r="2.45" stroke="#1515f0"/>
<circle cx="102.5" cy="339.9" r="2.45" stroke="#1b5a1b"/>
<circle cx="228.3" cy="313.2" r="2.45" stroke="#f01e28"/>
<circle cx="91.6" cy="394.5" r="2.45" stroke="#1b5a1b"/>
<circle cx="203.8" cy="396.5" r="2.45" stroke="#1b5a1b"/>
<circle cx="97.2" cy="395.6" r="2.45" stroke="#1b5a1b"/>
<circle cx="98.9" cy="355.3" r="2.45" stroke="#1515f0"/>
<circle cx="195.2" cy="359.6" r="2.45" stroke="#1515f0"/>
<circle cx="184.0" cy="342.7" r="2.45" stroke="#1b5a1b"/>
<circle cx="126.2" cy="406.7" r="2.45" stroke="#1b5a1b"/>
<circle cx="158.3" cy="365.3" r="2.45" stroke="#1515f0"/>
<circle cx="104.9" cy="382.5" r="2.45" stroke="#1515f0"/>
<circle cx="58.7" cy="380.4" r="2.45" stroke="#1515f0"/>
<circle cx="103.3" cy="400.6" r="2.45" stroke="#1b5a1b"/>
<circle cx="186.2" cy="340.7" r="2.45" stroke="#1b5a1b"/>
<circle cx="128.7" cy="340.7" r="2.45" stroke="#1b5a1b"/>
<circle cx="238.3" cy="342.2" r="2.45" stroke="#f01e28"/>
<circle cx="140.2" cy="355.5" r="2.45" stroke="#1b5a1b"/>
<circle cx="175.4" cy="377.5" r="2.45" stroke="#1515f0"/>
<circle cx="118.4" cy="393.3" r="2.45" stroke="#1515f0"/>
<circle cx="151.9" cy="294.7" r="2.45" stroke="#1b5a1b"/>
<circle cx="113.1" cy="403.9" r="2.45" stroke="#1b5a1b"/>
<circle cx="230.9" cy="414.9" r="2.45" stroke="#f01e28"/>
<circle cx="155.8" cy="369.4" r="2.45" stroke="#1b5a1b"/>
<circle cx="85.0" cy="356.7" r="2.45" stroke="#f01e28"/>
<circle cx="173.9" cy="331.6" r="2.45" stroke="#1b5a1b"/>
<circle cx="146.8" cy="350.5" r="2.45" stroke="#1b5a1b"/>
<circle cx="193.0" cy="393.8" r="2.45" stroke="#1b5a1b"/>
<circle cx="147.4" cy="412.3" r="2.45" stroke="#1b5a1b"/>
<circle cx="72.3" cy="360.1" r="2.45" stroke="#1515f0"/>
<circle cx="136.3" cy="393.3" r="2.45" stroke="#1515f0"/>
<circle cx="270.2" cy="368.0" r="2.45" stroke="#f01e28"/>
<circle cx="153.0" cy="400.0" r="2.45" stroke="#1515f0"/>
<circle cx="189.5" cy="342.3" r="2.45" stroke="#1515f0"/>
<circle cx="176.2" cy="395.1" r="2.45" stroke="#1515f0"/>
<circle cx="161.6" cy="340.7" r="2.45" stroke="#1b5a1b"/>
<circle cx="198.5" cy="392.4" r="2.45" stroke="#1b5a1b"/>
<circle cx="163.2" cy="369.4" r="2.45" stroke="#f01e28"/>
<circle cx="182.1" cy="374.8" r="2.45" stroke="#1b5a1b"/>
<circle cx="127.1" cy="370.2" r="2.45" stroke="#1515f0"/>
<circle cx="143.0" cy="401.2" r="2.45" stroke="#1515f0"/>
<circle cx="118.9" cy="377.6" r="2.45" stroke="#1515f0"/>
<circle cx="169.0" cy="336.6" r="2.45" stroke="#f01e28"/>
<circle cx="164.9" cy="344.8" r="2.45" stroke="#1b5a1b"/>
<circle cx="251.2" cy="372.1" r="2.45" stroke="#1515f0"/>
<circle cx="257.5" cy="402.5" r="2.45" stroke="#f01e28"/>
<circle cx="195.2" cy="379.3" r="2.45" stroke="#1b5a1b"/>
<circle cx="201.1" cy="355.8" r="2.45" stroke="#1515f0"/>
<circle cx="113.1" cy="368.6" r="2.45" stroke="#1b5a1b"/>
<circle cx="76.0" cy="392.7" r="2.45" stroke="#1515f0"/>
<circle cx="198.5" cy="382.5" r="2.45" stroke="#1b5a1b"/>
<circle cx="273.7" cy="387.8" r="2.45" stroke="#1515f0"/>
<circle cx="63.9" cy="360.9" r="2.45" stroke="#1515f0"/>
<circle cx="149.3" cy="344.0" r="2.45" stroke="#1515f0"/>
<circle cx="123.0" cy="405.5" r="2.45" stroke="#1b5a1b"/>
<circle cx="243.1" cy="391.6" r="2.45" stroke="#f01e28"/>
<circle cx="271.0" cy="463.7" r="2.45" stroke="#1b5a1b"/>
<circle cx="132.8" cy="371.1" r="2.45" stroke="#1515f0"/>
<circle cx="141.9" cy="388.3" r="2.45" stroke="#1515f0"/>
<circle cx="119.5" cy="400.7" r="2.45" stroke="#1515f0"/>
<circle cx="110.6" cy="402.3" r="2.45" stroke="#1b5a1b"/>
<circle cx="259.4" cy="388.9" r="2.45" stroke="#1515f0"/>
<circle cx="229.6" cy="410.0" r="2.45" stroke="#1515f0"/>
<circle cx="190.3" cy="377.6" r="2.45" stroke="#1515f0"/>
<circle cx="211.9" cy="419.5" r="2.45" stroke="#1515f0"/>
<circle cx="178.1" cy="416.8" r="2.45" stroke="#f01e28"/>
<circle cx="155.8" cy="380.9" r="2.45" stroke="#f01e28"/>
<circle cx="173.9" cy="405.5" r="2.45" stroke="#f01e28"/>
<circle cx="106.6" cy="393.2" r="2.45" stroke="#1515f0"/>
<circle cx="188.7" cy="397.3" r="2.45" stroke="#f01e28"/>
<circle cx="127.9" cy="391.6" r="2.45" stroke="#1b5a1b"/>
<circle cx="191.6" cy="392.4" r="2.45" stroke="#1515f0"/>
<circle cx="202.5" cy="347.7" r="2.45" stroke="#1515f0"/>
<circle cx="170.6" cy="384.2" r="2.45" stroke="#1515f0"/>
<circle cx="147.9" cy="341.6" r="2.45" stroke="#f01e28"/>
<circle cx="78.2" cy="369.3" r="2.45" stroke="#1515f0"/>
<circle cx="65.8" cy="372.4" r="2.45" stroke="#1515f0"/>
<circle cx="182.9" cy="303.6" r="2.45" stroke="#f01e28"/>
<circle cx="91.5" cy="355.6" r="2.45" stroke="#1b5a1b"/>
<circle cx="159.9" cy="361.2" r="2.45" stroke="#f01e28"/>
<circle cx="210.8" cy="341.6" r="2.45" stroke="#f01e28"/>
<circle cx="238.5" cy="372.1" r="2.45" stroke="#f01e28"/>
<circle cx="60.3" cy="394.5" r="2.45" stroke="#1b5a1b"/>
<circle cx="211.5" cy="342.0" r="2.45" stroke="#1b5a1b"/>
<circle cx="201.6" cy="414.9" r="2.45" stroke="#1515f0"/>
<circle cx="217.4" cy="414.1" r="2.45" stroke="#1b5a1b"/>
<circle cx="166.4" cy="393.3" r="2.45" stroke="#f01e28"/>
<circle cx="104.9" cy="345.6" r="2.45" stroke="#f01e28"/>
<circle cx="52.5" cy="348.7" r="2.45" stroke="#1515f0"/>
<circle cx="127.1" cy="346.4" r="2.45" stroke="#1b5a1b"/>
<circle cx="173.1" cy="368.6" r="2.45" stroke="#1515f0"/>
<circle cx="196.9" cy="370.2" r="2.45" stroke="#1b5a1b"/>
<circle cx="258.0" cy="422.2" r="2.45" stroke="#f01e28"/>
<circle cx="192.0" cy="384.2" r="2.45" stroke="#1515f0"/>
<circle cx="226.8" cy="397.8" r="2.45" stroke="#1515f0"/>
<circle cx="128.4" cy="400.0" r="2.45" stroke="#1515f0"/>
<circle cx="221.4" cy="358.5" r="2.45" stroke="#f01e28"/>
<circle cx="100.0" cy="351.3" r="2.45" stroke="#1515f0"/>
<circle cx="147.6" cy="383.4" r="2.45" stroke="#1b5a1b"/>
<circle cx="154.1" cy="393.3" r="2.45" stroke="#1b5a1b"/>
<circle cx="162.4" cy="390.8" r="2.45" stroke="#1b5a1b"/>
<circle cx="262.1" cy="419.5" r="2.45" stroke="#f01e28"/>
<circle cx="184.8" cy="362.6" r="2.45" stroke="#1515f0"/>
<circle cx="168.1" cy="354.6" r="2.45" stroke="#1515f0"/>
<circle cx="139.4" cy="361.2" r="2.45" stroke="#1b5a1b"/>
<circle cx="150.9" cy="406.4" r="2.45" stroke="#1515f0"/>
<circle cx="89.4" cy="392.7" r="2.45" stroke="#f01e28"/>
<circle cx="192.0" cy="346.4" r="2.45" stroke="#1b5a1b"/>
<circle cx="141.1" cy="407.2" r="2.45" stroke="#1b5a1b"/>
<circle cx="49.1" cy="381.4" r="2.45" stroke="#1515f0"/>
<circle cx="150.8" cy="411.2" r="2.45" stroke="#1515f0"/>
<circle cx="271.0" cy="397.3" r="2.45" stroke="#f01e28"/>
<circle cx="97.2" cy="343.1" r="2.45" stroke="#1b5a1b"/>
<circle cx="146.0" cy="365.3" r="2.45" stroke="#1b5a1b"/>
<circle cx="186.2" cy="372.1" r="2.45" stroke="#1515f0"/>
<circle cx="195.9" cy="322.6" r="2.45" stroke="#1b5a1b"/>
<circle cx="224.1" cy="416.3" r="2.45" stroke="#1515f0"/>
<circle cx="61.9" cy="373.0" r="2.45" stroke="#1515f0"/>
<circle cx="221.4" cy="384.3" r="2.45" stroke="#1515f0"/>
<circle cx="58.7" cy="359.0" r="2.45" stroke="#1b5a1b"/>
<circle cx="142.7" cy="337.4" r="2.45" stroke="#1b5a1b"/>
<circle cx="178.9" cy="382.9" r="2.45" stroke="#1515f0"/>
<circle cx="172.2" cy="379.3" r="2.45" stroke="#1b5a1b"/>
<circle cx="93.4" cy="417.2" r="2.45" stroke="#1b5a1b"/>
<circle cx="178.9" cy="417.6" r="2.45" stroke="#1b5a1b"/>
<circle cx="164.0" cy="395.7" r="2.45" stroke="#f01e28"/>
<circle cx="169.8" cy="394.5" r="2.45" stroke="#1515f0"/>
<circle cx="249.9" cy="380.2" r="2.45" stroke="#f01e28"/>
<circle cx="180.5" cy="370.2" r="2.45" stroke="#1b5a1b"/>
<circle cx="162.4" cy="353.0" r="2.45" stroke="#1b5a1b"/>
<circle cx="191.6" cy="380.2" r="2.45" stroke="#1515f0"/>
<circle cx="188.9" cy="390.5" r="2.45" stroke="#1515f0"/>
<circle cx="159.7" cy="411.2" r="2.45" stroke="#1515f0"/>
<circle cx="155.8" cy="363.7" r="2.45" stroke="#1515f0"/>
<circle cx="183.5" cy="416.0" r="2.45" stroke="#1b5a1b"/>
<circle cx="82.3" cy="370.3" r="2.45" stroke="#1515f0"/>
<circle cx="153.4" cy="377.6" r="2.45" stroke="#f01e28"/>
<circle cx="182.1" cy="443.9" r="2.45" stroke="#f01e28"/>
<circle cx="205.2" cy="366.7" r="2.45" stroke="#f01e28"/>
<circle cx="51.4" cy="399.4" r="2.45" stroke="#1b5a1b"/>
<circle cx="77.6" cy="357.5" r="2.45" stroke="#f01e28"/>
<circle cx="164.2" cy="412.3" r="2.45" stroke="#f01e28"/>
<circle cx="137.8" cy="381.7" r="2.45" stroke="#1515f0"/>
<circle cx="135.1" cy="410.1" r="2.45" stroke="#1515f0"/>
<circle cx="97.8" cy="342.0" r="2.45" stroke="#f01e28"/>
<circle cx="172.0" cy="409.0" r="2.45" stroke="#f01e28"/>
<circle cx="160.4" cy="438.0" r="2.45" stroke="#1b5a1b"/>
<circle cx="136.1" cy="369.4" r="2.45" stroke="#1b5a1b"/>
<circle cx="202.5" cy="390.5" r="2.45" stroke="#1b5a1b"/>
<circle cx="182.1" cy="388.3" r="2.45" stroke="#1b5a1b"/>
<circle cx="222.2" cy="418.2" r="2.45" stroke="#1515f0"/>
<circle cx="182.1" cy="395.1" r="2.45" stroke="#1515f0"/>
<circle cx="206.5" cy="380.2" r="2.45" stroke="#1b5a1b"/>
<circle cx="58.7" cy="387.8" r="2.45" stroke="#1515f0"/>
<circle cx="111.7" cy="394.5" r="2.45" stroke="#1515f0"/>
<circle cx="51.3" cy="360.9" r="2.45" stroke="#1b5a1b"/>
<circle cx="218.7" cy="397.8" r="2.45" stroke="#1515f0"/>
<circle cx="147.6" cy="379.3" r="2.45" stroke="#1b5a1b"/>
<circle cx="161.6" cy="365.3" r="2.45" stroke="#f01e28"/>
<circle cx="225.5" cy="447.4" r="2.45" stroke="#f01e28"/>
<circle cx="120.5" cy="389.1" r="2.45" stroke="#1515f0"/>
<circle cx="93.0" cy="383.6" r="2.45" stroke="#1515f0"/>
<circle cx="191.1" cy="405.5" r="2.45" stroke="#1515f0"/>
<circle cx="176.4" cy="359.6" r="2.45" stroke="#1515f0"/>
</g>
<line x1="38.9" y1="368.80" x2="308.9" y2="368.80" stroke="#222" stroke-width="1.2"/>
<rect x="38.9" y="250.5" width="270.0" height="235.4" fill="none" stroke="#000" stroke-width="1.6"/>
<line x1="38.9" y1="455.80" x2="43.9" y2="455.80" stroke="#000" stroke-width="1.4"/>
<line x1="38.9" y1="412.22" x2="43.9" y2="412.22" stroke="#000" stroke-width="1.4"/>
<line x1="38.9" y1="368.65" x2="43.9" y2="368.65" stroke="#000" stroke-width="1.4"/>
<line x1="38.9" y1="325.07" x2="43.9" y2="325.07" stroke="#000" stroke-width="1.4"/>
<line x1="38.9" y1="281.50" x2="43.9" y2="281.50" stroke="#000" stroke-width="1.4"/>
<line x1="48.80" y1="485.9" x2="48.80" y2="479.4" stroke="#000" stroke-width="1.4"/>
<line x1="112.80" y1="485.9" x2="112.80" y2="482.7" stroke="#000" stroke-width="1.4"/>
<line x1="150.24" y1="485.9" x2="150.24" y2="482.7" stroke="#000" stroke-width="1.4"/>
<line x1="176.80" y1="485.9" x2="176.80" y2="482.7" stroke="#000" stroke-width="1.4"/>
<line x1="197.40" y1="485.9" x2="197.40" y2="482.7" stroke="#000" stroke-width="1.4"/>
<line x1="214.23" y1="485.9" x2="214.23" y2="482.7" stroke="#000" stroke-width="1.4"/>
<line x1="228.47" y1="485.9" x2="228.47" y2="482.7" stroke="#000" stroke-width="1.4"/>
<line x1="240.80" y1="485.9" x2="240.80" y2="482.7" stroke="#000" stroke-width="1.4"/>
<line x1="251.67" y1="485.9" x2="251.67" y2="482.7" stroke="#000" stroke-width="1.4"/>
<line x1="261.40" y1="485.9" x2="261.40" y2="479.4" stroke="#000" stroke-width="1.4"/>
<text x="301.4" y="274.2" text-anchor="end" font-family="Liberation Sans" font-weight="bold" font-size="20.5">c</text>
<text transform="translate(30.799999999999997,455.80) rotate(-90)" text-anchor="middle" font-family="Liberation Sans" font-size="13.3">-20</text>
<text transform="translate(30.799999999999997,412.22) rotate(-90)" text-anchor="middle" font-family="Liberation Sans" font-size="13.3">-10</text>
<text transform="translate(30.799999999999997,368.65) rotate(-90)" text-anchor="middle" font-family="Liberation Sans" font-size="13.3">0</text>
<text transform="translate(30.799999999999997,325.07) rotate(-90)" text-anchor="middle" font-family="Liberation Sans" font-size="13.3">10</text>
<text transform="translate(30.799999999999997,281.50) rotate(-90)" text-anchor="middle" font-family="Liberation Sans" font-size="13.3">20</text>
<text transform="translate(10.8,368.65) rotate(-90)" text-anchor="middle" font-family="Liberation Sans" font-size="13.5">Residuals</text>
<text x="48.80" y="502.4" text-anchor="middle" font-family="Liberation Sans" font-size="12">10</text>
<text x="197.40" y="502.4" text-anchor="middle" font-family="Liberation Sans" font-size="12">50</text>
<text x="261.40" y="502.4" text-anchor="middle" font-family="Liberation Sans" font-size="12">100</text>
<text x="173.70000000000002" y="520.1" text-anchor="middle" font-family="Liberation Sans" font-size="13.6">DBH (cm)</text>
<g stroke-width="1.5" fill="#000" fill-opacity="0.35">
<circle cx="346.9" cy="362.5" r="2.45" stroke="#1b5a1b"/>
<circle cx="381.6" cy="390.8" r="2.45" stroke="#1b5a1b"/>
<circle cx="402.0" cy="383.7" r="2.45" stroke="#1b5a1b"/>
<circle cx="427.0" cy="373.1" r="2.45" stroke="#1b5a1b"/>
<circle cx="377.2" cy="359.4" r="2.45" stroke="#1b5a1b"/>
<circle cx="337.9" cy="387.7" r="2.45" stroke="#1b5a1b"/>
<circle cx="343.1" cy="370.3" r="2.45" stroke="#1b5a1b"/>
<circle cx="392.8" cy="365.8" r="2.45" stroke="#1b5a1b"/>
<circle cx="389.2" cy="364.4" r="2.45" stroke="#1b5a1b"/>
<circle cx="388.5" cy="349.0" r="2.45" stroke="#1b5a1b"/>
<circle cx="350.4" cy="351.7" r="2.45" stroke="#1b5a1b"/>
<circle cx="381.5" cy="374.3" r="2.45" stroke="#1515f0"/>
<circle cx="371.8" cy="373.4" r="2.45" stroke="#1b5a1b"/>
<circle cx="369.8" cy="360.6" r="2.45" stroke="#1515f0"/>
<circle cx="401.9" cy="362.7" r="2.45" stroke="#1515f0"/>
<circle cx="346.8" cy="387.4" r="2.45" stroke="#1b5a1b"/>
<circle cx="334.2" cy="364.0" r="2.45" stroke="#f01e28"/>
<circle cx="342.1" cy="356.2" r="2.45" stroke="#1b5a1b"/>
<circle cx="337.3" cy="348.3" r="2.45" stroke="#1515f0"/>
<circle cx="392.3" cy="365.2" r="2.45" stroke="#1b5a1b"/>
<circle cx="385.4" cy="351.7" r="2.45" stroke="#1b5a1b"/>
<circle cx="348.9" cy="365.6" r="2.45" stroke="#1515f0"/>
<circle cx="378.4" cy="371.7" r="2.45" stroke="#1b5a1b"/>
<circle cx="388.4" cy="343.4" r="2.45" stroke="#1b5a1b"/>
<circle cx="408.1" cy="385.1" r="2.45" stroke="#f01e28"/>
<circle cx="353.0" cy="387.8" r="2.45" stroke="#1b5a1b"/>
<circle cx="356.7" cy="393.2" r="2.45" stroke="#1b5a1b"/>
<circle cx="373.7" cy="380.3" r="2.45" stroke="#1b5a1b"/>
<circle cx="376.0" cy="371.4" r="2.45" stroke="#1515f0"/>
<circle cx="377.1" cy="383.9" r="2.45" stroke="#1b5a1b"/>
<circle cx="422.5" cy="367.7" r="2.45" stroke="#1b5a1b"/>
<circle cx="351.0" cy="351.6" r="2.45" stroke="#1515f0"/>
<circle cx="341.1" cy="376.3" r="2.45" stroke="#1b5a1b"/>
<circle cx="385.4" cy="387.3" r="2.45" stroke="#f01e28"/>
<circle cx="361.2" cy="383.6" r="2.45" stroke="#f01e28"/>
<circle cx="401.6" cy="376.3" r="2.45" stroke="#1515f0"/>
<circle cx="375.0" cy="368.9" r="2.45" stroke="#1515f0"/>
<circle cx="383.7" cy="362.7" r="2.45" stroke="#1b5a1b"/>
<circle cx="396.8" cy="371.1" r="2.45" stroke="#1b5a1b"/>
<circle cx="411.1" cy="348.4" r="2.45" stroke="#1515f0"/>
<circle cx="371.4" cy="361.4" r="2.45" stroke="#1b5a1b"/>
<circle cx="390.3" cy="361.7" r="2.45" stroke="#1b5a1b"/>
<circle cx="361.7" cy="356.9" r="2.45" stroke="#1515f0"/>
<circle cx="342.9" cy="351.4" r="2.45" stroke="#1b5a1b"/>
<circle cx="337.3" cy="354.3" r="2.45" stroke="#f01e28"/>
<circle cx="388.5" cy="389.7" r="2.45" stroke="#f01e28"/>
<circle cx="343.7" cy="355.6" r="2.45" stroke="#1b5a1b"/>
<circle cx="405.1" cy="359.4" r="2.45" stroke="#1b5a1b"/>
<circle cx="349.5" cy="357.5" r="2.45" stroke="#1b5a1b"/>
<circle cx="350.2" cy="375.6" r="2.45" stroke="#1b5a1b"/>
<circle cx="405.5" cy="345.1" r="2.45" stroke="#1b5a1b"/>
<circle cx="365.8" cy="367.4" r="2.45" stroke="#1515f0"/>
<circle cx="405.9" cy="377.1" r="2.45" stroke="#1515f0"/>
<circle cx="346.6" cy="381.0" r="2.45" stroke="#1515f0"/>
<circle cx="409.0" cy="355.3" r="2.45" stroke="#f01e28"/>
<circle cx="378.2" cy="377.8" r="2.45" stroke="#1b5a1b"/>
<circle cx="348.3" cy="346.0" r="2.45" stroke="#1b5a1b"/>
<circle cx="385.3" cy="382.9" r="2.45" stroke="#1b5a1b"/>
<circle cx="415.9" cy="355.0" r="2.45" stroke="#1515f0"/>
<circle cx="384.5" cy="372.0" r="2.45" stroke="#1515f0"/>
<circle cx="334.7" cy="381.4" r="2.45" stroke="#1b5a1b"/>
<circle cx="356.0" cy="358.7" r="2.45" stroke="#1b5a1b"/>
<circle cx="398.4" cy="374.6" r="2.45" stroke="#1515f0"/>
<circle cx="359.3" cy="365.5" r="2.45" stroke="#1b5a1b"/>
<circle cx="347.7" cy="387.5" r="2.45" stroke="#1b5a1b"/>
<circle cx="393.5" cy="378.8" r="2.45" stroke="#1b5a1b"/>
<circle cx="396.5" cy="351.8" r="2.45" stroke="#1515f0"/>
<circle cx="395.3" cy="357.6" r="2.45" stroke="#1b5a1b"/>
<circle cx="371.0" cy="347.4" r="2.45" stroke="#1b5a1b"/>
<circle cx="352.1" cy="390.2" r="2.45" stroke="#1515f0"/>
<circle cx="413.3" cy="379.0" r="2.45" stroke="#1515f0"/>
<circle cx="360.4" cy="366.3" r="2.45" stroke="#1b5a1b"/>
<circle cx="361.7" cy="376.4" r="2.45" stroke="#1b5a1b"/>
<circle cx="416.1" cy="361.8" r="2.45" stroke="#1515f0"/>
<circle cx="335.9" cy="391.8" r="2.45" stroke="#1515f0"/>
<circle cx="370.6" cy="370.0" r="2.45" stroke="#1515f0"/>
<circle cx="416.3" cy="355.6" r="2.45" stroke="#1b5a1b"/>
<circle cx="347.1" cy="386.5" r="2.45" stroke="#1515f0"/>
<circle cx="347.2" cy="358.9" r="2.45" stroke="#1b5a1b"/>
<circle cx="412.7" cy="357.1" r="2.45" stroke="#1b5a1b"/>
<circle cx="339.7" cy="359.8" r="2.45" stroke="#1b5a1b"/>
<circle cx="399.8" cy="386.8" r="2.45" stroke="#1515f0"/>
<circle cx="383.5" cy="366.3" r="2.45" stroke="#1515f0"/>
<circle cx="384.9" cy="361.4" r="2.45" stroke="#1b5a1b"/>
<circle cx="394.5" cy="363.7" r="2.45" stroke="#1b5a1b"/>
<circle cx="398.2" cy="349.8" r="2.45" stroke="#1b5a1b"/>
<circle cx="395.5" cy="372.2" r="2.45" stroke="#1515f0"/>
<circle cx="354.0" cy="387.1" r="2.45" stroke="#1515f0"/>
<circle cx="346.8" cy="358.2" r="2.45" stroke="#1b5a1b"/>
<circle cx="384.1" cy="362.6" r="2.45" stroke="#1b5a1b"/>
<circle cx="376.5" cy="382.2" r="2.45" stroke="#1b5a1b"/>
<circle cx="346.3" cy="352.9" r="2.45" stroke="#1b5a1b"/>
<circle cx="347.0" cy="388.8" r="2.45" stroke="#f01e28"/>
<circle cx="380.9" cy="361.1" r="2.45" stroke="#1515f0"/>
<circle cx="391.4" cy="391.4" r="2.45" stroke="#1b5a1b"/>
<circle cx="387.8" cy="350.8" r="2.45" stroke="#1b5a1b"/>
<circle cx="396.9" cy="348.5" r="2.45" stroke="#1b5a1b"/>
<circle cx="401.6" cy="347.2" r="2.45" stroke="#1515f0"/>
<circle cx="373.7" cy="358.2" r="2.45" stroke="#1515f0"/>
<circle cx="349.7" cy="383.7" r="2.45" stroke="#1b5a1b"/>
<circle cx="383.5" cy="354.8" r="2.45" stroke="#1515f0"/>
<circle cx="353.9" cy="375.8" r="2.45" stroke="#1515f0"/>
<circle cx="367.8" cy="386.1" r="2.45" stroke="#1b5a1b"/>
<circle cx="353.8" cy="352.3" r="2.45" stroke="#1515f0"/>
<circle cx="352.3" cy="379.4" r="2.45" stroke="#1515f0"/>
<circle cx="410.0" cy="384.8" r="2.45" stroke="#1b5a1b"/>
<circle cx="342.1" cy="384.7" r="2.45" stroke="#1b5a1b"/>
<circle cx="369.4" cy="377.2" r="2.45" stroke="#1b5a1b"/>
<circle cx="393.2" cy="351.6" r="2.45" stroke="#1b5a1b"/>
<circle cx="360.5" cy="387.7" r="2.45" stroke="#1b5a1b"/>
<circle cx="388.6" cy="372.2" r="2.45" stroke="#1b5a1b"/>
<circle cx="404.4" cy="353.6" r="2.45" stroke="#1b5a1b"/>
<circle cx="391.1" cy="347.9" r="2.45" stroke="#1b5a1b"/>
<circle cx="369.9" cy="355.9" r="2.45" stroke="#1b5a1b"/>
<circle cx="375.6" cy="373.1" r="2.45" stroke="#1b5a1b"/>
<circle cx="347.8" cy="390.3" r="2.45" stroke="#1515f0"/>
<circle cx="378.0" cy="356.0" r="2.45" stroke="#f01e28"/>
<circle cx="336.1" cy="353.6" r="2.45" stroke="#1515f0"/>
<circle cx="399.1" cy="348.9" r="2.45" stroke="#1b5a1b"/>
<circle cx="376.6" cy="352.4" r="2.45" stroke="#1515f0"/>
<circle cx="344.8" cy="381.2" r="2.45" stroke="#1b5a1b"/>
<circle cx="403.7" cy="346.1" r="2.45" stroke="#f01e28"/>
<circle cx="407.7" cy="349.3" r="2.45" stroke="#1b5a1b"/>
<circle cx="414.4" cy="376.5" r="2.45" stroke="#1b5a1b"/>
<circle cx="337.5" cy="380.1" r="2.45" stroke="#1b5a1b"/>
<circle cx="398.5" cy="369.0" r="2.45" stroke="#1b5a1b"/>
<circle cx="390.3" cy="373.4" r="2.45" stroke="#1b5a1b"/>
<circle cx="413.1" cy="378.4" r="2.45" stroke="#1b5a1b"/>
<circle cx="351.7" cy="382.4" r="2.45" stroke="#1b5a1b"/>
<circle cx="390.9" cy="372.5" r="2.45" stroke="#1b5a1b"/>
<circle cx="406.3" cy="366.3" r="2.45" stroke="#1515f0"/>
<circle cx="366.3" cy="375.2" r="2.45" stroke="#1b5a1b"/>
<circle cx="436.9" cy="350.1" r="2.45" stroke="#1b5a1b"/>
<circle cx="375.1" cy="352.5" r="2.45" stroke="#1515f0"/>
<circle cx="344.1" cy="350.0" r="2.45" stroke="#f01e28"/>
<circle cx="381.1" cy="365.8" r="2.45" stroke="#1515f0"/>
<circle cx="374.5" cy="363.0" r="2.45" stroke="#1515f0"/>
<circle cx="369.9" cy="388.7" r="2.45" stroke="#1b5a1b"/>
<circle cx="402.9" cy="383.7" r="2.45" stroke="#1b5a1b"/>
<circle cx="385.6" cy="360.8" r="2.45" stroke="#1b5a1b"/>
<circle cx="396.1" cy="367.5" r="2.45" stroke="#f01e28"/>
<circle cx="367.6" cy="375.1" r="2.45" stroke="#1515f0"/>
<circle cx="363.5" cy="350.9" r="2.45" stroke="#1b5a1b"/>
<circle cx="343.4" cy="364.8" r="2.45" stroke="#1515f0"/>
<circle cx="384.4" cy="376.8" r="2.45" stroke="#1515f0"/>
<circle cx="379.9" cy="376.9" r="2.45" stroke="#1515f0"/>
<circle cx="363.3" cy="385.7" r="2.45" stroke="#1b5a1b"/>
<circle cx="349.6" cy="383.5" r="2.45" stroke="#1b5a1b"/>
<circle cx="384.3" cy="356.0" r="2.45" stroke="#1b5a1b"/>
<circle cx="349.5" cy="362.6" r="2.45" stroke="#1b5a1b"/>
<circle cx="385.6" cy="366.5" r="2.45" stroke="#1515f0"/>
<circle cx="373.8" cy="374.8" r="2.45" stroke="#1515f0"/>
<circle cx="426.0" cy="368.4" r="2.45" stroke="#1b5a1b"/>
<circle cx="336.9" cy="358.8" r="2.45" stroke="#1515f0"/>
<circle cx="348.3" cy="355.4" r="2.45" stroke="#1515f0"/>
<circle cx="372.2" cy="393.4" r="2.45" stroke="#1b5a1b"/>
<circle cx="388.8" cy="358.0" r="2.45" stroke="#1515f0"/>
<circle cx="355.4" cy="349.9" r="2.45" stroke="#1b5a1b"/>
<circle cx="396.6" cy="353.5" r="2.45" stroke="#1515f0"/>
<circle cx="396.9" cy="365.9" r="2.45" stroke="#1b5a1b"/>
<circle cx="395.1" cy="383.5" r="2.45" stroke="#1515f0"/>
<circle cx="386.3" cy="386.8" r="2.45" stroke="#1515f0"/>
<circle cx="364.7" cy="364.8" r="2.45" stroke="#1515f0"/>
<circle cx="362.5" cy="385.9" r="2.45" stroke="#1b5a1b"/>
<circle cx="348.9" cy="369.6" r="2.45" stroke="#1515f0"/>
<circle cx="341.8" cy="393.3" r="2.45" stroke="#1b5a1b"/>
<circle cx="404.8" cy="379.2" r="2.45" stroke="#1b5a1b"/>
<circle cx="368.6" cy="374.5" r="2.45" stroke="#1b5a1b"/>
<circle cx="343.0" cy="389.3" r="2.45" stroke="#1515f0"/>
<circle cx="373.7" cy="366.8" r="2.45" stroke="#1b5a1b"/>
<circle cx="344.5" cy="386.4" r="2.45" stroke="#1515f0"/>
<circle cx="415.8" cy="351.3" r="2.45" stroke="#1515f0"/>
<circle cx="375.8" cy="349.1" r="2.45" stroke="#1515f0"/>
<circle cx="409.8" cy="357.0" r="2.45" stroke="#1b5a1b"/>
<circle cx="339.5" cy="353.5" r="2.45" stroke="#1b5a1b"/>
<circle cx="380.7" cy="381.1" r="2.45" stroke="#1515f0"/>
<circle cx="361.0" cy="373.4" r="2.45" stroke="#1b5a1b"/>
<circle cx="353.8" cy="384.8" r="2.45" stroke="#f01e28"/>
<circle cx="376.3" cy="390.5" r="2.45" stroke="#1b5a1b"/>
<circle cx="394.2" cy="352.3" r="2.45" stroke="#1b5a1b"/>
<circle cx="385.8" cy="367.0" r="2.45" stroke="#1515f0"/>
<circle cx="394.7" cy="364.1" r="2.45" stroke="#1515f0"/>
<circle cx="343.3" cy="357.5" r="2.45" stroke="#1b5a1b"/>
<circle cx="350.3" cy="378.6" r="2.45" stroke="#1b5a1b"/>
<circle cx="364.0" cy="389.9" r="2.45" stroke="#1515f0"/>
<circle cx="394.9" cy="366.1" r="2.45" stroke="#1515f0"/>
<circle cx="396.2" cy="360.5" r="2.45" stroke="#1b5a1b"/>
<circle cx="393.0" cy="377.9" r="2.45" stroke="#1b5a1b"/>
<circle cx="410.0" cy="391.9" r="2.45" stroke="#1515f0"/>
<circle cx="374.6" cy="373.0" r="2.45" stroke="#1515f0"/>
<circle cx="421.0" cy="388.0" r="2.45" stroke="#1b5a1b"/>
<circle cx="347.1" cy="361.3" r="2.45" stroke="#1b5a1b"/>
<circle cx="380.6" cy="361.3" r="2.45" stroke="#1515f0"/>
<circle cx="423.2" cy="372.3" r="2.45" stroke="#1515f0"/>
<circle cx="354.6" cy="370.8" r="2.45" stroke="#1515f0"/>
<circle cx="377.0" cy="381.3" r="2.45" stroke="#1515f0"/>
<circle cx="389.9" cy="351.8" r="2.45" stroke="#1b5a1b"/>
<circle cx="371.6" cy="373.7" r="2.45" stroke="#1b5a1b"/>
<circle cx="360.8" cy="387.3" r="2.45" stroke="#1b5a1b"/>
<circle cx="365.1" cy="350.9" r="2.45" stroke="#1b5a1b"/>
<circle cx="406.0" cy="367.8" r="2.45" stroke="#1b5a1b"/>
<circle cx="398.9" cy="371.5" r="2.45" stroke="#1b5a1b"/>
<circle cx="364.5" cy="380.9" r="2.45" stroke="#1b5a1b"/>
<circle cx="398.3" cy="392.4" r="2.45" stroke="#1b5a1b"/>
<circle cx="398.5" cy="376.6" r="2.45" stroke="#1b5a1b"/>
<circle cx="411.7" cy="377.5" r="2.45" stroke="#1b5a1b"/>
<circle cx="360.3" cy="360.3" r="2.45" stroke="#1b5a1b"/>
<circle cx="382.6" cy="374.6" r="2.45" stroke="#1b5a1b"/>
<circle cx="338.3" cy="386.9" r="2.45" stroke="#1b5a1b"/>
<circle cx="333.7" cy="350.2" r="2.45" stroke="#1b5a1b"/>
<circle cx="376.2" cy="355.5" r="2.45" stroke="#1b5a1b"/>
<circle cx="406.9" cy="387.6" r="2.45" stroke="#1b5a1b"/>
<circle cx="393.6" cy="366.4" r="2.45" stroke="#f01e28"/>
<circle cx="346.0" cy="384.5" r="2.45" stroke="#1b5a1b"/>
<circle cx="363.5" cy="386.8" r="2.45" stroke="#1515f0"/>
<circle cx="385.1" cy="347.9" r="2.45" stroke="#1b5a1b"/>
<circle cx="389.7" cy="359.7" r="2.45" stroke="#1b5a1b"/>
<circle cx="382.3" cy="364.1" r="2.45" stroke="#1b5a1b"/>
<circle cx="342.1" cy="387.1" r="2.45" stroke="#1b5a1b"/>
<circle cx="356.6" cy="387.3" r="2.45" stroke="#1b5a1b"/>
<circle cx="381.7" cy="387.3" r="2.45" stroke="#1515f0"/>
<circle cx="420.0" cy="386.0" r="2.45" stroke="#1b5a1b"/>
<circle cx="384.3" cy="378.7" r="2.45" stroke="#1b5a1b"/>
<circle cx="353.8" cy="384.1" r="2.45" stroke="#1515f0"/>
<circle cx="347.1" cy="377.6" r="2.45" stroke="#1b5a1b"/>
<circle cx="356.5" cy="364.6" r="2.45" stroke="#1515f0"/>
<circle cx="348.7" cy="368.2" r="2.45" stroke="#1b5a1b"/>
<circle cx="393.5" cy="362.4" r="2.45" stroke="#1515f0"/>
<circle cx="387.7" cy="354.3" r="2.45" stroke="#1515f0"/>
<circle cx="356.4" cy="388.3" r="2.45" stroke="#1515f0"/>
<circle cx="365.5" cy="357.0" r="2.45" stroke="#1b5a1b"/>
<circle cx="355.7" cy="353.8" r="2.45" stroke="#1b5a1b"/>
<circle cx="367.5" cy="358.0" r="2.45" stroke="#1b5a1b"/>
<circle cx="364.8" cy="347.8" r="2.45" stroke="#1b5a1b"/>
<circle cx="360.5" cy="355.8" r="2.45" stroke="#1515f0"/>
<circle cx="380.5" cy="373.7" r="2.45" stroke="#1b5a1b"/>
<circle cx="389.1" cy="377.1" r="2.45" stroke="#1b5a1b"/>
<circle cx="401.4" cy="355.9" r="2.45" stroke="#1b5a1b"/>
<circle cx="336.2" cy="363.5" r="2.45" stroke="#1515f0"/>
<circle cx="410.5" cy="369.4" r="2.45" stroke="#1b5a1b"/>
<circle cx="333.6" cy="373.2" r="2.45" stroke="#1b5a1b"/>
<circle cx="363.4" cy="348.2" r="2.45" stroke="#1b5a1b"/>
<circle cx="431.2" cy="372.3" r="2.45" stroke="#1b5a1b"/>
<circle cx="388.6" cy="361.8" r="2.45" stroke="#1515f0"/>
<circle cx="397.0" cy="374.5" r="2.45" stroke="#f01e28"/>
<circle cx="423.2" cy="357.7" r="2.45" stroke="#f01e28"/>
<circle cx="395.5" cy="388.2" r="2.45" stroke="#1b5a1b"/>
<circle cx="392.5" cy="349.5" r="2.45" stroke="#1b5a1b"/>
<circle cx="340.6" cy="378.1" r="2.45" stroke="#1b5a1b"/>
<circle cx="388.5" cy="376.4" r="2.45" stroke="#1515f0"/>
<circle cx="350.9" cy="369.6" r="2.45" stroke="#1515f0"/>
<circle cx="398.9" cy="356.4" r="2.45" stroke="#f01e28"/>
<circle cx="360.3" cy="383.9" r="2.45" stroke="#1515f0"/>
<circle cx="363.6" cy="355.9" r="2.45" stroke="#1b5a1b"/>
<circle cx="350.4" cy="347.9" r="2.45" stroke="#1b5a1b"/>
<circle cx="376.7" cy="387.6" r="2.45" stroke="#f01e28"/>
<circle cx="366.9" cy="385.1" r="2.45" stroke="#1b5a1b"/>
<circle cx="370.4" cy="352.9" r="2.45" stroke="#1b5a1b"/>
<circle cx="407.8" cy="358.4" r="2.45" stroke="#1b5a1b"/>
<circle cx="365.4" cy="364.3" r="2.45" stroke="#1b5a1b"/>
<circle cx="427.9" cy="349.1" r="2.45" stroke="#1b5a1b"/>
<circle cx="410.9" cy="362.3" r="2.45" stroke="#1515f0"/>
<circle cx="444.2" cy="382.1" r="2.45" stroke="#1515f0"/>
<circle cx="459.1" cy="365.0" r="2.45" stroke="#1515f0"/>
<circle cx="418.0" cy="380.2" r="2.45" stroke="#1b5a1b"/>
<circle cx="411.2" cy="350.9" r="2.45" stroke="#1515f0"/>
<circle cx="431.1" cy="341.6" r="2.45" stroke="#1b5a1b"/>
<circle cx="449.4" cy="384.3" r="2.45" stroke="#1b5a1b"/>
<circle cx="413.5" cy="358.1" r="2.45" stroke="#1b5a1b"/>
<circle cx="450.0" cy="364.3" r="2.45" stroke="#1b5a1b"/>
<circle cx="409.6" cy="383.8" r="2.45" stroke="#1b5a1b"/>
<circle cx="438.1" cy="352.4" r="2.45" stroke="#1515f0"/>
<circle cx="402.6" cy="390.8" r="2.45" stroke="#f01e28"/>
<circle cx="461.2" cy="380.4" r="2.45" stroke="#f01e28"/>
<circle cx="486.7" cy="387.3" r="2.45" stroke="#f01e28"/>
<circle cx="409.0" cy="345.9" r="2.45" stroke="#1b5a1b"/>
<circle cx="477.2" cy="382.0" r="2.45" stroke="#1515f0"/>
<circle cx="465.6" cy="349.7" r="2.45" stroke="#1515f0"/>
<circle cx="496.3" cy="395.1" r="2.45" stroke="#1515f0"/>
<circle cx="506.2" cy="386.7" r="2.45" stroke="#1515f0"/>
<circle cx="498.1" cy="351.7" r="2.45" stroke="#1b5a1b"/>
<circle cx="474.6" cy="382.2" r="2.45" stroke="#1b5a1b"/>
<circle cx="414.7" cy="347.1" r="2.45" stroke="#f01e28"/>
<circle cx="424.6" cy="386.7" r="2.45" stroke="#1b5a1b"/>
<circle cx="491.0" cy="394.5" r="2.45" stroke="#1515f0"/>
<circle cx="464.6" cy="390.0" r="2.45" stroke="#1515f0"/>
<circle cx="442.9" cy="388.5" r="2.45" stroke="#1515f0"/>
<circle cx="421.0" cy="377.9" r="2.45" stroke="#1b5a1b"/>
<circle cx="457.4" cy="378.0" r="2.45" stroke="#f01e28"/>
<circle cx="451.4" cy="394.3" r="2.45" stroke="#1b5a1b"/>
<circle cx="435.8" cy="373.8" r="2.45" stroke="#1515f0"/>
<circle cx="495.5" cy="375.5" r="2.45" stroke="#1515f0"/>
<circle cx="434.8" cy="343.3" r="2.45" stroke="#f01e28"/>
<circle cx="410.4" cy="370.3" r="2.45" stroke="#1515f0"/>
<circle cx="419.8" cy="383.5" r="2.45" stroke="#1b5a1b"/>
<circle cx="402.0" cy="355.2" r="2.45" stroke="#1515f0"/>
<circle cx="442.2" cy="376.8" r="2.45" stroke="#1b5a1b"/>
<circle cx="432.5" cy="393.3" r="2.45" stroke="#1515f0"/>
<circle cx="419.1" cy="371.1" r="2.45" stroke="#1b5a1b"/>
<circle cx="442.9" cy="344.5" r="2.45" stroke="#1b5a1b"/>
<circle cx="445.4" cy="376.9" r="2.45" stroke="#f01e28"/>
<circle cx="460.2" cy="384.9" r="2.45" stroke="#1b5a1b"/>
<circle cx="460.2" cy="366.0" r="2.45" stroke="#1b5a1b"/>
<circle cx="427.9" cy="376.2" r="2.45" stroke="#1b5a1b"/>
<circle cx="425.7" cy="368.6" r="2.45" stroke="#1515f0"/>
<circle cx="450.3" cy="391.4" r="2.45" stroke="#1515f0"/>
<circle cx="446.2" cy="380.4" r="2.45" stroke="#1515f0"/>
<circle cx="497.8" cy="384.7" r="2.45" stroke="#1b5a1b"/>
<circle cx="486.2" cy="383.9" r="2.45" stroke="#1b5a1b"/>
<circle cx="467.7" cy="388.6" r="2.45" stroke="#1b5a1b"/>
<circle cx="446.1" cy="384.1" r="2.45" stroke="#1b5a1b"/>
<circle cx="404.4" cy="346.0" r="2.45" stroke="#1515f0"/>
<circle cx="409.7" cy="359.0" r="2.45" stroke="#1b5a1b"/>
<circle cx="436.5" cy="383.0" r="2.45" stroke="#1b5a1b"/>
<circle cx="508.9" cy="372.7" r="2.45" stroke="#1515f0"/>
<circle cx="422.9" cy="346.2" r="2.45" stroke="#1b5a1b"/>
<circle cx="459.4" cy="377.1" r="2.45" stroke="#1515f0"/>
<circle cx="405.0" cy="381.5" r="2.45" stroke="#1515f0"/>
<circle cx="470.8" cy="375.4" r="2.45" stroke="#1b5a1b"/>
<circle cx="400.3" cy="387.5" r="2.45" stroke="#f01e28"/>
<circle cx="413.4" cy="381.6" r="2.45" stroke="#f01e28"/>
<circle cx="488.1" cy="374.6" r="2.45" stroke="#1515f0"/>
<circle cx="458.0" cy="357.8" r="2.45" stroke="#1b5a1b"/>
<circle cx="411.4" cy="398.5" r="2.45" stroke="#1515f0"/>
<circle cx="415.0" cy="387.1" r="2.45" stroke="#1515f0"/>
<circle cx="436.5" cy="374.0" r="2.45" stroke="#1515f0"/>
<circle cx="418.9" cy="349.8" r="2.45" stroke="#1b5a1b"/>
<circle cx="456.6" cy="373.5" r="2.45" stroke="#1b5a1b"/>
<circle cx="477.6" cy="372.2" r="2.45" stroke="#1b5a1b"/>
<circle cx="433.7" cy="365.3" r="2.45" stroke="#f01e28"/>
<circle cx="440.8" cy="347.1" r="2.45" stroke="#f01e28"/>
<circle cx="452.1" cy="370.7" r="2.45" stroke="#1515f0"/>
<circle cx="431.7" cy="348.4" r="2.45" stroke="#1b5a1b"/>
<circle cx="473.6" cy="356.1" r="2.45" stroke="#1b5a1b"/>
<circle cx="417.1" cy="368.3" r="2.45" stroke="#1b5a1b"/>
<circle cx="426.6" cy="378.0" r="2.45" stroke="#f01e28"/>
<circle cx="487.5" cy="376.1" r="2.45" stroke="#1b5a1b"/>
<circle cx="473.8" cy="365.1" r="2.45" stroke="#1515f0"/>
<circle cx="411.1" cy="381.3" r="2.45" stroke="#1b5a1b"/>
<circle cx="413.6" cy="386.9" r="2.45" stroke="#1b5a1b"/>
<circle cx="498.3" cy="379.7" r="2.45" stroke="#f01e28"/>
<circle cx="444.1" cy="391.2" r="2.45" stroke="#1b5a1b"/>
<circle cx="472.8" cy="397.0" r="2.45" stroke="#1515f0"/>
<circle cx="472.4" cy="371.8" r="2.45" stroke="#f01e28"/>
<circle cx="427.6" cy="351.1" r="2.45" stroke="#f01e28"/>
<circle cx="410.4" cy="358.1" r="2.45" stroke="#1b5a1b"/>
<circle cx="470.5" cy="384.1" r="2.45" stroke="#1b5a1b"/>
<circle cx="430.6" cy="347.9" r="2.45" stroke="#1b5a1b"/>
<circle cx="421.6" cy="344.2" r="2.45" stroke="#1515f0"/>
<circle cx="414.5" cy="382.2" r="2.45" stroke="#1b5a1b"/>
<circle cx="447.7" cy="410.5" r="2.45" stroke="#f01e28"/>
<circle cx="373.4" cy="303.6" r="2.45" stroke="#1b5a1b"/>
<circle cx="394.5" cy="358.8" r="2.45" stroke="#1515f0"/>
<circle cx="516.3" cy="359.9" r="2.45" stroke="#1515f0"/>
<circle cx="425.8" cy="329.3" r="2.45" stroke="#1b5a1b"/>
<circle cx="401.9" cy="361.5" r="2.45" stroke="#1515f0"/>
<circle cx="481.8" cy="362.6" r="2.45" stroke="#1b5a1b"/>
<circle cx="399.3" cy="312.5" r="2.45" stroke="#1b5a1b"/>
<circle cx="419.1" cy="398.5" r="2.45" stroke="#1515f0"/>
<circle cx="421.3" cy="371.0" r="2.45" stroke="#1b5a1b"/>
<circle cx="335.0" cy="343.3" r="2.45" stroke="#1b5a1b"/>
<circle cx="544.2" cy="350.4" r="2.45" stroke="#1b5a1b"/>
<circle cx="375.6" cy="394.0" r="2.45" stroke="#1b5a1b"/>
<circle cx="501.4" cy="373.5" r="2.45" stroke="#1515f0"/>
<circle cx="366.1" cy="364.2" r="2.45" stroke="#1515f0"/>
<circle cx="440.3" cy="363.4" r="2.45" stroke="#1515f0"/>
<circle cx="474.3" cy="389.7" r="2.45" stroke="#1515f0"/>
<circle cx="504.6" cy="416.0" r="2.45" stroke="#1515f0"/>
<circle cx="508.9" cy="390.5" r="2.45" stroke="#f01e28"/>
<circle cx="524.5" cy="334.2" r="2.45" stroke="#f01e28"/>
<circle cx="441.1" cy="357.3" r="2.45" stroke="#f01e28"/>
<circle cx="441.3" cy="385.8" r="2.45" stroke="#1515f0"/>
<circle cx="449.5" cy="361.9" r="2.45" stroke="#1515f0"/>
<circle cx="433.7" cy="341.6" r="2.45" stroke="#1b5a1b"/>
<circle cx="495.4" cy="375.4" r="2.45" stroke="#f01e28"/>
<circle cx="367.8" cy="394.0" r="2.45" stroke="#1b5a1b"/>
<circle cx="423.5" cy="374.1" r="2.45" stroke="#1b5a1b"/>
<circle cx="444.8" cy="397.8" r="2.45" stroke="#1515f0"/>
<circle cx="468.0" cy="338.2" r="2.45" stroke="#1515f0"/>
<circle cx="469.2" cy="343.8" r="2.45" stroke="#1515f0"/>
<circle cx="485.6" cy="397.8" r="2.45" stroke="#1515f0"/>
<circle cx="421.3" cy="380.2" r="2.45" stroke="#1515f0"/>
<circle cx="431.4" cy="334.9" r="2.45" stroke="#1b5a1b"/>
<circle cx="433.7" cy="394.5" r="2.45" stroke="#1515f0"/>
<circle cx="565.9" cy="387.0" r="2.45" stroke="#1515f0"/>
<circle cx="412.9" cy="368.7" r="2.45" stroke="#1b5a1b"/>
<circle cx="493.3" cy="340.4" r="2.45" stroke="#1b5a1b"/>
<circle cx="445.3" cy="332.6" r="2.45" stroke="#1b5a1b"/>
<circle cx="429.6" cy="411.9" r="2.45" stroke="#1b5a1b"/>
<circle cx="386.1" cy="319.7" r="2.45" stroke="#1515f0"/>
<circle cx="471.0" cy="333.7" r="2.45" stroke="#f01e28"/>
<circle cx="470.2" cy="370.7" r="2.45" stroke="#1515f0"/>
<circle cx="455.6" cy="358.8" r="2.45" stroke="#1b5a1b"/>
<circle cx="390.8" cy="400.0" r="2.45" stroke="#1b5a1b"/>
<circle cx="431.4" cy="339.3" r="2.45" stroke="#f01e28"/>
<circle cx="359.5" cy="383.4" r="2.45" stroke="#1515f0"/>
<circle cx="474.3" cy="372.1" r="2.45" stroke="#1b5a1b"/>
<circle cx="394.2" cy="382.2" r="2.45" stroke="#1515f0"/>
<circle cx="523.0" cy="361.3" r="2.45" stroke="#f01e28"/>
<circle cx="480.5" cy="380.2" r="2.45" stroke="#f01e28"/>
<circle cx="460.2" cy="346.5" r="2.45" stroke="#1515f0"/>
<circle cx="429.2" cy="404.5" r="2.45" stroke="#1b5a1b"/>
<circle cx="456.7" cy="323.7" r="2.45" stroke="#1b5a1b"/>
<circle cx="542.0" cy="404.6" r="2.45" stroke="#f01e28"/>
<circle cx="438.8" cy="368.0" r="2.45" stroke="#1515f0"/>
<circle cx="447.2" cy="388.6" r="2.45" stroke="#f01e28"/>
<circle cx="445.7" cy="379.4" r="2.45" stroke="#1b5a1b"/>
<circle cx="494.8" cy="337.1" r="2.45" stroke="#1b5a1b"/>
<circle cx="397.9" cy="342.7" r="2.45" stroke="#1b5a1b"/>
<circle cx="394.6" cy="391.8" r="2.45" stroke="#1b5a1b"/>
<circle cx="462.1" cy="374.8" r="2.45" stroke="#f01e28"/>
<circle cx="412.4" cy="407.4" r="2.45" stroke="#1b5a1b"/>
<circle cx="466.1" cy="440.7" r="2.45" stroke="#f01e28"/>
<circle cx="397.9" cy="396.7" r="2.45" stroke="#1b5a1b"/>
<circle cx="455.6" cy="380.9" r="2.45" stroke="#1515f0"/>
<circle cx="433.5" cy="359.6" r="2.45" stroke="#1b5a1b"/>
<circle cx="556.1" cy="404.6" r="2.45" stroke="#f01e28"/>
<circle cx="562.5" cy="328.6" r="2.45" stroke="#f01e28"/>
<circle cx="515.6" cy="333.7" r="2.45" stroke="#f01e28"/>
<circle cx="424.3" cy="364.1" r="2.45" stroke="#1b5a1b"/>
<circle cx="438.0" cy="364.9" r="2.45" stroke="#f01e28"/>
<circle cx="437.0" cy="411.2" r="2.45" stroke="#1b5a1b"/>
<circle cx="434.8" cy="398.9" r="2.45" stroke="#f01e28"/>
<circle cx="465.1" cy="335.3" r="2.45" stroke="#1b5a1b"/>
<circle cx="418.0" cy="346.0" r="2.45" stroke="#1b5a1b"/>
<circle cx="358.7" cy="366.2" r="2.45" stroke="#1515f0"/>
<circle cx="339.4" cy="391.1" r="2.45" stroke="#f01e28"/>
<circle cx="536.0" cy="375.6" r="2.45" stroke="#1b5a1b"/>
<circle cx="462.1" cy="414.9" r="2.45" stroke="#f01e28"/>
<circle cx="332.9" cy="369.9" r="2.45" stroke="#1515f0"/>
<circle cx="512.0" cy="305.2" r="2.45" stroke="#f01e28"/>
<circle cx="505.6" cy="316.5" r="2.45" stroke="#f01e28"/>
<circle cx="514.9" cy="431.2" r="2.45" stroke="#f01e28"/>
<circle cx="536.0" cy="380.2" r="2.45" stroke="#1b5a1b"/>
<circle cx="463.4" cy="378.9" r="2.45" stroke="#1515f0"/>
<circle cx="514.4" cy="406.8" r="2.45" stroke="#f01e28"/>
<circle cx="493.2" cy="378.9" r="2.45" stroke="#1515f0"/>
<circle cx="509.4" cy="319.9" r="2.45" stroke="#f01e28"/>
<circle cx="419.0" cy="377.9" r="2.45" stroke="#1515f0"/>
<circle cx="526.3" cy="356.4" r="2.45" stroke="#1b5a1b"/>
<circle cx="501.4" cy="384.3" r="2.45" stroke="#1515f0"/>
<circle cx="433.0" cy="332.0" r="2.45" stroke="#1515f0"/>
<circle cx="375.6" cy="341.6" r="2.45" stroke="#1b5a1b"/>
<circle cx="441.5" cy="336.0" r="2.45" stroke="#1b5a1b"/>
<circle cx="383.9" cy="367.1" r="2.45" stroke="#1515f0"/>
<circle cx="564.1" cy="341.1" r="2.45" stroke="#1b5a1b"/>
<circle cx="453.3" cy="361.1" r="2.45" stroke="#1515f0"/>
<circle cx="533.9" cy="366.7" r="2.45" stroke="#f01e28"/>
<circle cx="457.1" cy="362.6" r="2.45" stroke="#1515f0"/>
<circle cx="411.3" cy="338.2" r="2.45" stroke="#1b5a1b"/>
<circle cx="453.3" cy="334.4" r="2.45" stroke="#f01e28"/>
<circle cx="563.1" cy="351.0" r="2.45" stroke="#f01e28"/>
<circle cx="474.3" cy="364.0" r="2.45" stroke="#1515f0"/>
<circle cx="508.9" cy="346.4" r="2.45" stroke="#1b5a1b"/>
<circle cx="460.2" cy="328.2" r="2.45" stroke="#1515f0"/>
<circle cx="485.1" cy="347.7" r="2.45" stroke="#1515f0"/>
<circle cx="377.4" cy="407.2" r="2.45" stroke="#1b5a1b"/>
<circle cx="467.5" cy="347.7" r="2.45" stroke="#1515f0"/>
<circle cx="535.0" cy="343.3" r="2.45" stroke="#1515f0"/>
<circle cx="333.6" cy="378.8" r="2.45" stroke="#1515f0"/>
<circle cx="458.0" cy="358.5" r="2.45" stroke="#1515f0"/>
<circle cx="336.5" cy="343.1" r="2.45" stroke="#1515f0"/>
<circle cx="371.6" cy="323.7" r="2.45" stroke="#1b5a1b"/>
<circle cx="582.7" cy="361.3" r="2.45" stroke="#f01e28"/>
<circle cx="578.6" cy="357.2" r="2.45" stroke="#f01e28"/>
<circle cx="551.8" cy="368.6" r="2.45" stroke="#1515f0"/>
<circle cx="504.6" cy="400.6" r="2.45" stroke="#1515f0"/>
<circle cx="513.6" cy="387.8" r="2.45" stroke="#1515f0"/>
<circle cx="381.8" cy="340.4" r="2.45" stroke="#1515f0"/>
<circle cx="447.1" cy="392.2" r="2.45" stroke="#f01e28"/>
<circle cx="471.4" cy="330.4" r="2.45" stroke="#1b5a1b"/>
<circle cx="509.5" cy="439.8" r="2.45" stroke="#f01e28"/>
<circle cx="405.3" cy="355.3" r="2.45" stroke="#f01e28"/>
<circle cx="498.2" cy="330.8" r="2.45" stroke="#f01e28"/>
<circle cx="523.0" cy="353.7" r="2.45" stroke="#f01e28"/>
<circle cx="371.8" cy="360.3" r="2.45" stroke="#1515f0"/>
<circle cx="378.5" cy="333.1" r="2.45" stroke="#1b5a1b"/>
<circle cx="387.9" cy="343.8" r="2.45" stroke="#f01e28"/>
<circle cx="425.6" cy="387.0" r="2.45" stroke="#1515f0"/>
<circle cx="495.9" cy="361.3" r="2.45" stroke="#1515f0"/>
<circle cx="459.4" cy="399.2" r="2.45" stroke="#f01e28"/>
<circle cx="492.7" cy="384.3" r="2.45" stroke="#1515f0"/>
<circle cx="362.0" cy="357.8" r="2.45" stroke="#1515f0"/>
<circle cx="569.0" cy="341.1" r="2.45" stroke="#1b5a1b"/>
<circle cx="466.5" cy="300.7" r="2.45" stroke="#f01e28"/>
<circle cx="479.7" cy="315.2" r="2.45" stroke="#1b5a1b"/>
<circle cx="410.5" cy="379.2" r="2.45" stroke="#1b5a1b"/>
<circle cx="522.3" cy="332.2" r="2.45" stroke="#f01e28"/>
<circle cx="415.8" cy="337.1" r="2.45" stroke="#f01e28"/>
<circle cx="506.8" cy="375.4" r="2.45" stroke="#1b5a1b"/>
<circle cx="460.2" cy="369.4" r="2.45" stroke="#1515f0"/>
<circle cx="491.9" cy="374.8" r="2.45" stroke="#1515f0"/>
<circle cx="467.5" cy="408.7" r="2.45" stroke="#1b5a1b"/>
<circle cx="457.1" cy="406.7" r="2.45" stroke="#f01e28"/>
<circle cx="434.2" cy="353.5" r="2.45" stroke="#1b5a1b"/>
<circle cx="541.5" cy="385.6" r="2.45" stroke="#f01e28"/>
<circle cx="386.8" cy="363.0" r="2.45" stroke="#1515f0"/>
<circle cx="342.5" cy="376.3" r="2.45" stroke="#1515f0"/>
<circle cx="355.5" cy="349.4" r="2.45" stroke="#1515f0"/>
<circle cx="382.3" cy="339.3" r="2.45" stroke="#1b5a1b"/>
<circle cx="429.2" cy="348.3" r="2.45" stroke="#1b5a1b"/>
<circle cx="529.8" cy="402.5" r="2.45" stroke="#1b5a1b"/>
<circle cx="504.1" cy="365.3" r="2.45" stroke="#1515f0"/>
<circle cx="468.8" cy="393.8" r="2.45" stroke="#f01e28"/>
<circle cx="454.1" cy="385.5" r="2.45" stroke="#1b5a1b"/>
<circle cx="502.7" cy="391.1" r="2.45" stroke="#1b5a1b"/>
<circle cx="457.1" cy="328.2" r="2.45" stroke="#1515f0"/>
<circle cx="386.1" cy="393.3" r="2.45" stroke="#1515f0"/>
<circle cx="542.5" cy="357.2" r="2.45" stroke="#1515f0"/>
<circle cx="443.5" cy="384.3" r="2.45" stroke="#1b5a1b"/>
<circle cx="351.1" cy="370.4" r="2.45" stroke="#1515f0"/>
<circle cx="393.0" cy="365.6" r="2.45" stroke="#1515f0"/>
<circle cx="482.4" cy="382.9" r="2.45" stroke="#f01e28"/>
<circle cx="557.7" cy="349.1" r="2.45" stroke="#1515f0"/>
<circle cx="335.1" cy="383.7" r="2.45" stroke="#1b5a1b"/>
<circle cx="428.9" cy="356.5" r="2.45" stroke="#1b5a1b"/>
<circle cx="400.2" cy="397.8" r="2.45" stroke="#1b5a1b"/>
<circle cx="457.9" cy="374.8" r="2.45" stroke="#1b5a1b"/>
<circle cx="420.5" cy="351.2" r="2.45" stroke="#1b5a1b"/>
<circle cx="554.2" cy="373.5" r="2.45" stroke="#f01e28"/>
<circle cx="566.4" cy="423.6" r="2.45" stroke="#1b5a1b"/>
<circle cx="341.8" cy="358.8" r="2.45" stroke="#1515f0"/>
<circle cx="467.4" cy="327.5" r="2.45" stroke="#1515f0"/>
<circle cx="354.4" cy="346.5" r="2.45" stroke="#1b5a1b"/>
<circle cx="411.1" cy="387.0" r="2.45" stroke="#1515f0"/>
<circle cx="436.8" cy="293.5" r="2.45" stroke="#f01e28"/>
<circle cx="418.0" cy="407.9" r="2.45" stroke="#1b5a1b"/>
<circle cx="410.5" cy="364.4" r="2.45" stroke="#1515f0"/>
<circle cx="475.9" cy="339.3" r="2.45" stroke="#1b5a1b"/>
<circle cx="365.3" cy="387.0" r="2.45" stroke="#1b5a1b"/>
<circle cx="373.8" cy="391.1" r="2.45" stroke="#1b5a1b"/>
<circle cx="335.1" cy="354.4" r="2.45" stroke="#1515f0"/>
<circle cx="355.8" cy="365.6" r="2.45" stroke="#1515f0"/>
<circle cx="345.7" cy="361.5" r="2.45" stroke="#1515f0"/>
<circle cx="372.8" cy="383.7" r="2.45" stroke="#f01e28"/>
<circle cx="401.1" cy="385.8" r="2.45" stroke="#1515f0"/>
<circle cx="519.0" cy="405.2" r="2.45" stroke="#1515f0"/>
<circle cx="403.5" cy="391.1" r="2.45" stroke="#1515f0"/>
<circle cx="442.6" cy="367.2" r="2.45" stroke="#1515f0"/>
<circle cx="464.8" cy="389.7" r="2.45" stroke="#1b5a1b"/>
<circle cx="487.3" cy="388.9" r="2.45" stroke="#1b5a1b"/>
<circle cx="355.5" cy="344.9" r="2.45" stroke="#1b5a1b"/>
<circle cx="399.0" cy="394.5" r="2.45" stroke="#1b5a1b"/>
<circle cx="427.4" cy="370.2" r="2.45" stroke="#f01e28"/>
<circle cx="532.0" cy="358.0" r="2.45" stroke="#1515f0"/>
<circle cx="509.5" cy="395.1" r="2.45" stroke="#1515f0"/>
<circle cx="487.0" cy="329.9" r="2.45" stroke="#1515f0"/>
<circle cx="464.8" cy="364.5" r="2.45" stroke="#1515f0"/>
<circle cx="569.7" cy="333.1" r="2.45" stroke="#1b5a1b"/>
<circle cx="511.6" cy="335.5" r="2.45" stroke="#1b5a1b"/>
<circle cx="450.4" cy="393.3" r="2.45" stroke="#f01e28"/>
<circle cx="501.4" cy="406.0" r="2.45" stroke="#1b5a1b"/>
<circle cx="349.6" cy="360.9" r="2.45" stroke="#1515f0"/>
<circle cx="357.7" cy="392.2" r="2.45" stroke="#1515f0"/>
<circle cx="385.6" cy="396.7" r="2.45" stroke="#1b5a1b"/>
<circle cx="344.1" cy="384.7" r="2.45" stroke="#1b5a1b"/>
<circle cx="350.8" cy="383.6" r="2.45" stroke="#1b5a1b"/>
<circle cx="451.5" cy="341.6" r="2.45" stroke="#1515f0"/>
<circle cx="409.1" cy="334.9" r="2.45" stroke="#1b5a1b"/>
<circle cx="426.6" cy="383.2" r="2.45" stroke="#1515f0"/>
<circle cx="492.7" cy="372.1" r="2.45" stroke="#1b5a1b"/>
<circle cx="459.4" cy="353.1" r="2.45" stroke="#1515f0"/>
<circle cx="343.2" cy="348.3" r="2.45" stroke="#1b5a1b"/>
<circle cx="502.2" cy="340.4" r="2.45" stroke="#1b5a1b"/>
<circle cx="419.7" cy="358.8" r="2.45" stroke="#1b5a1b"/>
<circle cx="342.5" cy="368.9" r="2.45" stroke="#1515f0"/>
<circle cx="406.3" cy="360.8" r="2.45" stroke="#1515f0"/>
<circle cx="348.4" cy="335.5" r="2.45" stroke="#1b5a1b"/>
<circle cx="443.7" cy="395.6" r="2.45" stroke="#1515f0"/>
<circle cx="386.1" cy="337.1" r="2.45" stroke="#1515f0"/>
<circle cx="554.2" cy="346.4" r="2.45" stroke="#f01e28"/>
<circle cx="442.6" cy="343.8" r="2.45" stroke="#1b5a1b"/>
<circle cx="377.2" cy="328.2" r="2.45" stroke="#1b5a1b"/>
<circle cx="431.9" cy="372.5" r="2.45" stroke="#1515f0"/>
<circle cx="510.8" cy="378.9" r="2.45" stroke="#1515f0"/>
<circle cx="428.1" cy="396.7" r="2.45" stroke="#1b5a1b"/>
<circle cx="372.8" cy="375.7" r="2.45" stroke="#1515f0"/>
<circle cx="412.4" cy="391.1" r="2.45" stroke="#1515f0"/>
<circle cx="355.8" cy="374.2" r="2.45" stroke="#1515f0"/>
<circle cx="472.9" cy="382.9" r="2.45" stroke="#1b5a1b"/>
<circle cx="420.3" cy="406.7" r="2.45" stroke="#1b5a1b"/>
<circle cx="444.4" cy="430.2" r="2.45" stroke="#1b5a1b"/>
<circle cx="385.0" cy="255.6" r="2.45" stroke="#1b5a1b"/>
<circle cx="486.5" cy="359.9" r="2.45" stroke="#1b5a1b"/>
<circle cx="366.7" cy="319.2" r="2.45" stroke="#1b5a1b"/>
<circle cx="483.7" cy="353.1" r="2.45" stroke="#1b5a1b"/>
<circle cx="362.0" cy="384.7" r="2.45" stroke="#1b5a1b"/>
<circle cx="386.8" cy="385.1" r="2.45" stroke="#1b5a1b"/>
<circle cx="484.3" cy="381.6" r="2.45" stroke="#f01e28"/>
<circle cx="377.7" cy="358.5" r="2.45" stroke="#1515f0"/>
<circle cx="523.9" cy="362.6" r="2.45" stroke="#1b5a1b"/>
<circle cx="505.4" cy="351.8" r="2.45" stroke="#f01e28"/>
<circle cx="523.9" cy="344.9" r="2.45" stroke="#1b5a1b"/>
<circle cx="431.9" cy="378.6" r="2.45" stroke="#1b5a1b"/>
<circle cx="555.0" cy="439.8" r="2.45" stroke="#1b5a1b"/>
<circle cx="449.3" cy="398.9" r="2.45" stroke="#1b5a1b"/>
<circle cx="456.0" cy="403.4" r="2.45" stroke="#1b5a1b"/>
<circle cx="471.0" cy="395.1" r="2.45" stroke="#f01e28"/>
<circle cx="372.0" cy="383.7" r="2.45" stroke="#1515f0"/>
<circle cx="459.4" cy="391.1" r="2.45" stroke="#1515f0"/>
<circle cx="414.4" cy="359.6" r="2.45" stroke="#1515f0"/>
<circle cx="459.4" cy="401.9" r="2.45" stroke="#f01e28"/>
<circle cx="505.4" cy="357.7" r="2.45" stroke="#1b5a1b"/>
<circle cx="482.6" cy="332.2" r="2.45" stroke="#f01e28"/>
<circle cx="409.0" cy="371.8" r="2.45" stroke="#1515f0"/>
<circle cx="373.4" cy="349.4" r="2.45" stroke="#1b5a1b"/>
<circle cx="332.9" cy="361.2" r="2.45" stroke="#1515f0"/>
<circle cx="454.8" cy="368.7" r="2.45" stroke="#1515f0"/>
<circle cx="546.1" cy="400.6" r="2.45" stroke="#f01e28"/>
<circle cx="493.3" cy="329.9" r="2.45" stroke="#f01e28"/>
<circle cx="360.4" cy="297.3" r="2.45" stroke="#f01e28"/>
<circle cx="453.8" cy="344.9" r="2.45" stroke="#1515f0"/>
<circle cx="431.4" cy="400.0" r="2.45" stroke="#1b5a1b"/>
<circle cx="435.9" cy="400.0" r="2.45" stroke="#1515f0"/>
<circle cx="386.8" cy="357.4" r="2.45" stroke="#1515f0"/>
<circle cx="427.0" cy="339.3" r="2.45" stroke="#1515f0"/>
<circle cx="412.4" cy="332.2" r="2.45" stroke="#1b5a1b"/>
<circle cx="485.9" cy="340.4" r="2.45" stroke="#1b5a1b"/>
<circle cx="479.2" cy="299.6" r="2.45" stroke="#1515f0"/>
<circle cx="470.3" cy="334.9" r="2.45" stroke="#1b5a1b"/>
<circle cx="475.4" cy="319.7" r="2.45" stroke="#f01e28"/>
<circle cx="355.3" cy="387.0" r="2.45" stroke="#1b5a1b"/>
<circle cx="383.1" cy="362.7" r="2.45" stroke="#1515f0"/>
<circle cx="411.3" cy="348.3" r="2.45" stroke="#1b5a1b"/>
<circle cx="424.3" cy="355.7" r="2.45" stroke="#1b5a1b"/>
<circle cx="412.9" cy="373.3" r="2.45" stroke="#1b5a1b"/>
<circle cx="358.6" cy="387.0" r="2.45" stroke="#1515f0"/>
<circle cx="453.6" cy="384.7" r="2.45" stroke="#f01e28"/>
<circle cx="416.7" cy="368.0" r="2.45" stroke="#1515f0"/>
<circle cx="475.6" cy="368.0" r="2.45" stroke="#1515f0"/>
<circle cx="466.9" cy="348.3" r="2.45" stroke="#f01e28"/>
<circle cx="357.1" cy="398.9" r="2.45" stroke="#1b5a1b"/>
<circle cx="448.7" cy="380.2" r="2.45" stroke="#1b5a1b"/>
<circle cx="376.8" cy="372.1" r="2.45" stroke="#1515f0"/>
<circle cx="533.9" cy="386.2" r="2.45" stroke="#1515f0"/>
<circle cx="495.9" cy="402.5" r="2.45" stroke="#1515f0"/>
<circle cx="442.6" cy="377.9" r="2.45" stroke="#f01e28"/>
<circle cx="506.2" cy="384.3" r="2.45" stroke="#f01e28"/>
<circle cx="386.1" cy="329.9" r="2.45" stroke="#1b5a1b"/>
<circle cx="367.3" cy="342.7" r="2.45" stroke="#f01e28"/>
<circle cx="403.1" cy="383.7" r="2.45" stroke="#1515f0"/>
<circle cx="364.4" cy="349.4" r="2.45" stroke="#1b5a1b"/>
<circle cx="362.4" cy="372.7" r="2.45" stroke="#1515f0"/>
<circle cx="441.5" cy="406.1" r="2.45" stroke="#1b5a1b"/>
<circle cx="382.4" cy="383.7" r="2.45" stroke="#1b5a1b"/>
<circle cx="506.8" cy="396.5" r="2.45" stroke="#1515f0"/>
<circle cx="447.1" cy="343.8" r="2.45" stroke="#1b5a1b"/>
<circle cx="566.4" cy="371.3" r="2.45" stroke="#1b5a1b"/>
<circle cx="423.6" cy="347.1" r="2.45" stroke="#f01e28"/>
<circle cx="407.5" cy="384.4" r="2.45" stroke="#1515f0"/>
<circle cx="487.8" cy="364.0" r="2.45" stroke="#1b5a1b"/>
<circle cx="460.7" cy="388.4" r="2.45" stroke="#1b5a1b"/>
<circle cx="496.0" cy="334.9" r="2.45" stroke="#1b5a1b"/>
<circle cx="371.1" cy="393.3" r="2.45" stroke="#1b5a1b"/>
<circle cx="498.1" cy="416.0" r="2.45" stroke="#f01e28"/>
<circle cx="508.9" cy="346.0" r="2.45" stroke="#1515f0"/>
<circle cx="455.6" cy="373.3" r="2.45" stroke="#1515f0"/>
<circle cx="563.1" cy="358.5" r="2.45" stroke="#1b5a1b"/>
<circle cx="353.6" cy="355.9" r="2.45" stroke="#1515f0"/>
<circle cx="475.6" cy="347.7" r="2.45" stroke="#1b5a1b"/>
<circle cx="446.4" cy="352.7" r="2.45" stroke="#1b5a1b"/>
<circle cx="388.3" cy="376.6" r="2.45" stroke="#1515f0"/>
<circle cx="435.0" cy="373.3" r="2.45" stroke="#1515f0"/>
<circle cx="373.5" cy="367.1" r="2.45" stroke="#1515f0"/>
<circle cx="447.2" cy="368.0" r="2.45" stroke="#1515f0"/>
<circle cx="529.8" cy="407.9" r="2.45" stroke="#1b5a1b"/>
<circle cx="451.8" cy="355.7" r="2.45" stroke="#1515f0"/>
<circle cx="418.0" cy="337.1" r="2.45" stroke="#1b5a1b"/>
<circle cx="410.2" cy="396.7" r="2.45" stroke="#1b5a1b"/>
<circle cx="437.9" cy="389.2" r="2.45" stroke="#1b5a1b"/>
<circle cx="473.2" cy="327.5" r="2.45" stroke="#1515f0"/>
<circle cx="523.9" cy="388.9" r="2.45" stroke="#1b5a1b"/>
<circle cx="366.1" cy="358.8" r="2.45" stroke="#1515f0"/>
<circle cx="382.3" cy="341.6" r="2.45" stroke="#f01e28"/>
<circle cx="488.4" cy="394.3" r="2.45" stroke="#1b5a1b"/>
<circle cx="446.4" cy="359.6" r="2.45" stroke="#f01e28"/>
<circle cx="538.2" cy="353.1" r="2.45" stroke="#1515f0"/>
<circle cx="472.9" cy="357.2" r="2.45" stroke="#1b5a1b"/>
<circle cx="433.5" cy="385.8" r="2.45" stroke="#1515f0"/>
<circle cx="439.6" cy="376.4" r="2.45" stroke="#1515f0"/>
<circle cx="402.4" cy="334.4" r="2.45" stroke="#1515f0"/>
<circle cx="395.5" cy="387.0" r="2.45" stroke="#1515f0"/>
<circle cx="428.1" cy="367.2" r="2.45" stroke="#1b5a1b"/>
<circle cx="335.4" cy="390.0" r="2.45" stroke="#1b5a1b"/>
<circle cx="539.3" cy="347.7" r="2.45" stroke="#1b5a1b"/>
<circle cx="395.7" cy="340.4" r="2.45" stroke="#1515f0"/>
<circle cx="455.5" cy="411.2" r="2.45" stroke="#1515f0"/>
<circle cx="527.9" cy="373.5" r="2.45" stroke="#1b5a1b"/>
<circle cx="527.1" cy="379.7" r="2.45" stroke="#f01e28"/>
<circle cx="436.3" cy="286.4" r="2.45" stroke="#1b5a1b"/>
<circle cx="411.3" cy="354.2" r="2.45" stroke="#1b5a1b"/>
<circle cx="438.1" cy="347.1" r="2.45" stroke="#1b5a1b"/>
<circle cx="403.1" cy="373.6" r="2.45" stroke="#1515f0"/>
<circle cx="436.5" cy="361.9" r="2.45" stroke="#1b5a1b"/>
<circle cx="444.9" cy="374.1" r="2.45" stroke="#1515f0"/>
<circle cx="457.1" cy="385.5" r="2.45" stroke="#1515f0"/>
<circle cx="418.0" cy="403.4" r="2.45" stroke="#1515f0"/>
<circle cx="367.9" cy="378.0" r="2.45" stroke="#1515f0"/>
<circle cx="401.3" cy="343.8" r="2.45" stroke="#1b5a1b"/>
<circle cx="470.2" cy="353.1" r="2.45" stroke="#1b5a1b"/>
<circle cx="375.4" cy="387.0" r="2.45" stroke="#1b5a1b"/>
<circle cx="449.3" cy="337.1" r="2.45" stroke="#1b5a1b"/>
<circle cx="414.4" cy="388.6" r="2.45" stroke="#1b5a1b"/>
<circle cx="485.9" cy="343.8" r="2.45" stroke="#1515f0"/>
<circle cx="478.3" cy="385.6" r="2.45" stroke="#1515f0"/>
</g>
<line x1="322.7" y1="368.80" x2="592.7" y2="368.80" stroke="#222" stroke-width="1.2"/>
<rect x="322.7" y="250.5" width="270.0" height="235.4" fill="none" stroke="#000" stroke-width="1.6"/>
<line x1="322.7" y1="455.80" x2="327.7" y2="455.80" stroke="#000" stroke-width="1.4"/>
<line x1="322.7" y1="412.22" x2="327.7" y2="412.22" stroke="#000" stroke-width="1.4"/>
<line x1="322.7" y1="368.65" x2="327.7" y2="368.65" stroke="#000" stroke-width="1.4"/>
<line x1="322.7" y1="325.07" x2="327.7" y2="325.07" stroke="#000" stroke-width="1.4"/>
<line x1="322.7" y1="281.50" x2="327.7" y2="281.50" stroke="#000" stroke-width="1.4"/>
<line x1="332.60" y1="485.9" x2="332.60" y2="479.4" stroke="#000" stroke-width="1.4"/>
<line x1="396.60" y1="485.9" x2="396.60" y2="482.7" stroke="#000" stroke-width="1.4"/>
<line x1="434.04" y1="485.9" x2="434.04" y2="482.7" stroke="#000" stroke-width="1.4"/>
<line x1="460.60" y1="485.9" x2="460.60" y2="482.7" stroke="#000" stroke-width="1.4"/>
<line x1="481.20" y1="485.9" x2="481.20" y2="482.7" stroke="#000" stroke-width="1.4"/>
<line x1="498.03" y1="485.9" x2="498.03" y2="482.7" stroke="#000" stroke-width="1.4"/>
<line x1="512.27" y1="485.9" x2="512.27" y2="482.7" stroke="#000" stroke-width="1.4"/>
<line x1="524.60" y1="485.9" x2="524.60" y2="482.7" stroke="#000" stroke-width="1.4"/>
<line x1="535.47" y1="485.9" x2="535.47" y2="482.7" stroke="#000" stroke-width="1.4"/>
<line x1="545.20" y1="485.9" x2="545.20" y2="479.4" stroke="#000" stroke-width="1.4"/>
<text x="588.1" y="274.3" text-anchor="end" font-family="Liberation Sans" font-weight="bold" font-size="20.5">d</text>
<line x1="592.7" y1="312.00" x2="587.7" y2="312.00" stroke="#000" stroke-width="1.4"/>
<text transform="translate(608.5,312.00) rotate(-90)" text-anchor="middle" font-family="Liberation Sans" font-size="13.4">Underest.</text>
<line x1="592.7" y1="425.30" x2="587.7" y2="425.30" stroke="#000" stroke-width="1.4"/>
<text transform="translate(608.5,425.30) rotate(-90)" text-anchor="middle" font-family="Liberation Sans" font-size="13.4">Overest.</text>
<text x="332.60" y="502.4" text-anchor="middle" font-family="Liberation Sans" font-size="12">10</text>
<text x="481.20" y="502.4" text-anchor="middle" font-family="Liberation Sans" font-size="12">50</text>
<text x="545.20" y="502.4" text-anchor="middle" font-family="Liberation Sans" font-size="12">100</text>
<text x="457.5" y="520.1" text-anchor="middle" font-family="Liberation Sans" font-size="13.6">DBH (cm)</text>
</svg>
</body></html>
